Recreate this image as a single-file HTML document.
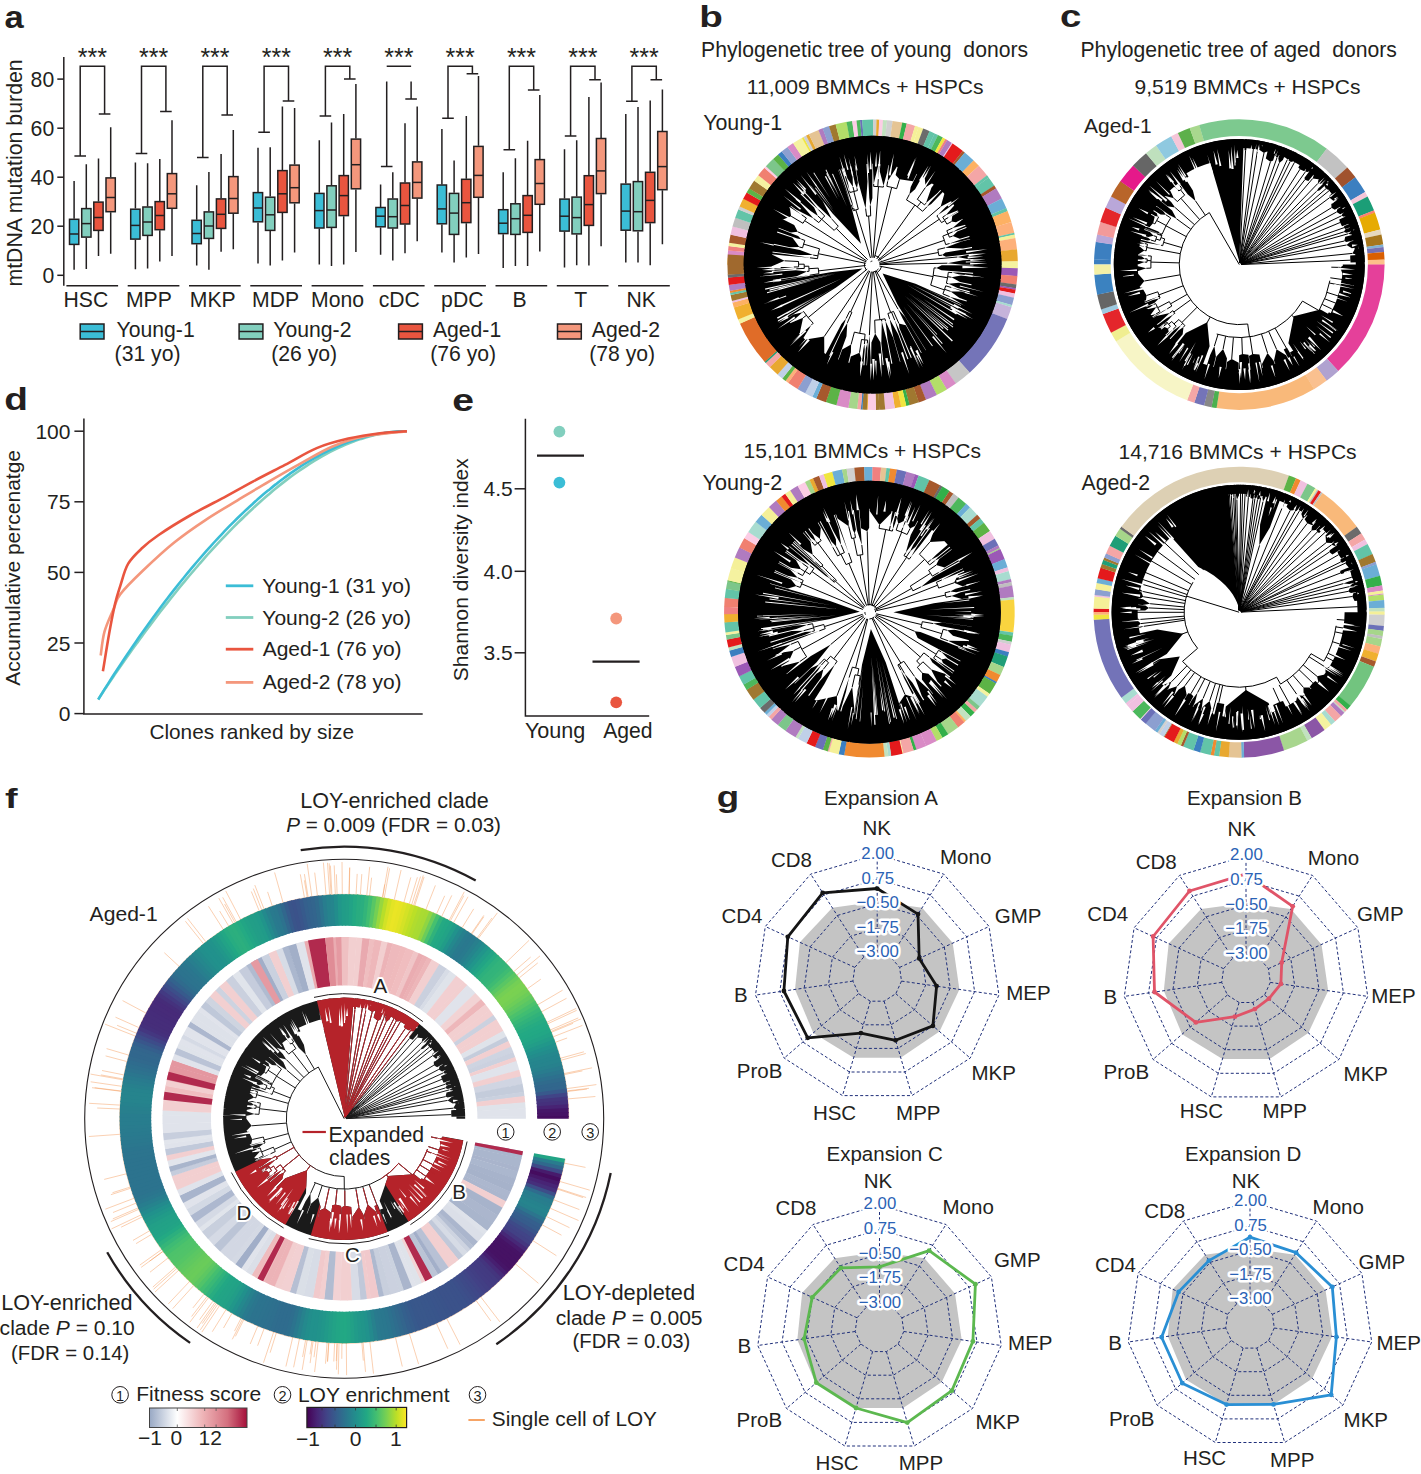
<!DOCTYPE html>
<html><head><meta charset="utf-8"><style>html,body{margin:0;padding:0;background:#fff;overflow:hidden}svg{display:block}</style></head><body>
<svg width="1421" height="1474" viewBox="0 0 1421 1474" font-family='"Liberation Sans", sans-serif'>
<rect width="1421" height="1474" fill="#fff"/>
<text transform="translate(5.4 28) scale(1.106 1)" x="-0.9" y="0" font-size="31.27" font-weight="bold" fill="#231f20">a</text>
<g stroke="#231f20" stroke-width="1.5" fill="none">
<path d="M63.8 57V285.8"/>
<path d="M57.3 275.3 H63.8"/>
<path d="M57.3 226.2 H63.8"/>
<path d="M57.3 177.2 H63.8"/>
<path d="M57.3 128.2 H63.8"/>
<path d="M57.3 79.1 H63.8"/>
</g>
<text x="42.4" y="282.9" font-size="21.2" fill="#231f20">0</text>
<text x="30.6" y="233.8" font-size="21.2" fill="#231f20">20</text>
<text x="30.6" y="184.8" font-size="21.2" fill="#231f20">40</text>
<text x="30.6" y="135.7" font-size="21.2" fill="#231f20">60</text>
<text x="30.6" y="86.7" font-size="21.2" fill="#231f20">80</text>
<text transform="translate(21.7 173) rotate(-90)" x="-113.6" y="0" font-size="21.3" fill="#231f20">mtDNA mutation burden</text>
<path d="M66.4 285.8H118.1" stroke="#231f20" stroke-width="1.4"/>
<text x="63.5" y="307.2" font-size="21.20" fill="#231f20">HSC</text>
<path d="M74.1 181V218.7M74.1 245V269.7" stroke="#231f20" stroke-width="1.5"/>
<rect x="69.5" y="219.3" width="9.3" height="25.1" fill="#3bbdd6" stroke="#231f20" stroke-width="1.5"/>
<path d="M69.5 234H78.8" stroke="#231f20" stroke-width="1.5"/>
<path d="M86.3 164.3V208M86.3 237.7V269" stroke="#231f20" stroke-width="1.5"/>
<rect x="81.7" y="208.6" width="9.3" height="28.5" fill="#82cfbe" stroke="#231f20" stroke-width="1.5"/>
<path d="M81.7 223.6H91" stroke="#231f20" stroke-width="1.5"/>
<path d="M98.5 158.4V201.5M98.5 231V256" stroke="#231f20" stroke-width="1.5"/>
<rect x="93.8" y="202.1" width="9.3" height="28.3" fill="#e9553f" stroke="#231f20" stroke-width="1.5"/>
<path d="M93.8 217.5H103.2" stroke="#231f20" stroke-width="1.5"/>
<path d="M110.7 127.3V177.3M110.7 212.3V253.7" stroke="#231f20" stroke-width="1.5"/>
<rect x="106" y="177.9" width="9.3" height="33.8" fill="#f4977c" stroke="#231f20" stroke-width="1.5"/>
<path d="M106 197.5H115.4" stroke="#231f20" stroke-width="1.5"/>
<path d="M80.2 156V66.2H104.6V114M74.4 156H86M98.8 114H110.4" stroke="#231f20" stroke-width="1.5" fill="none"/>
<text x="77.8" y="66" font-size="25.00" fill="#231f20">***</text>
<path d="M127.7 285.8H179.4" stroke="#231f20" stroke-width="1.4"/>
<text x="125.9" y="307.2" font-size="21.20" fill="#231f20">MPP</text>
<path d="M135.4 162.6V208.6M135.4 239.7V269.2" stroke="#231f20" stroke-width="1.5"/>
<rect x="130.7" y="209.2" width="9.3" height="29.9" fill="#3bbdd6" stroke="#231f20" stroke-width="1.5"/>
<path d="M130.7 225.4H140" stroke="#231f20" stroke-width="1.5"/>
<path d="M147.6 163.3V206.4M147.6 236V268.5" stroke="#231f20" stroke-width="1.5"/>
<rect x="142.9" y="207" width="9.3" height="28.4" fill="#82cfbe" stroke="#231f20" stroke-width="1.5"/>
<path d="M142.9 222H152.2" stroke="#231f20" stroke-width="1.5"/>
<path d="M159.8 158.9V201M159.8 230.3V261.6" stroke="#231f20" stroke-width="1.5"/>
<rect x="155.1" y="201.6" width="9.3" height="28.1" fill="#e9553f" stroke="#231f20" stroke-width="1.5"/>
<path d="M155.1 215.5H164.4" stroke="#231f20" stroke-width="1.5"/>
<path d="M172 120.2V173M172 208.9V256" stroke="#231f20" stroke-width="1.5"/>
<rect x="167.3" y="173.6" width="9.3" height="34.7" fill="#f4977c" stroke="#231f20" stroke-width="1.5"/>
<path d="M167.3 193.8H176.7" stroke="#231f20" stroke-width="1.5"/>
<path d="M141.5 153.4V66.2H165.9V111.6M135.7 153.4H147.3M160.1 111.6H171.7" stroke="#231f20" stroke-width="1.5" fill="none"/>
<text x="139.1" y="66" font-size="25.00" fill="#231f20">***</text>
<path d="M189 285.8H240.7" stroke="#231f20" stroke-width="1.4"/>
<text x="189.8" y="307.2" font-size="21.20" fill="#231f20">MKP</text>
<path d="M196.7 185.2V219.7M196.7 244.3V265.5" stroke="#231f20" stroke-width="1.5"/>
<rect x="192" y="220.3" width="9.3" height="23.4" fill="#3bbdd6" stroke="#231f20" stroke-width="1.5"/>
<path d="M192 233.5H201.3" stroke="#231f20" stroke-width="1.5"/>
<path d="M208.9 172V211.3M208.9 239V269.7" stroke="#231f20" stroke-width="1.5"/>
<rect x="204.2" y="211.9" width="9.3" height="26.5" fill="#82cfbe" stroke="#231f20" stroke-width="1.5"/>
<path d="M204.2 226H213.6" stroke="#231f20" stroke-width="1.5"/>
<path d="M221.1 154V198.3M221.1 229V251.7" stroke="#231f20" stroke-width="1.5"/>
<rect x="216.4" y="198.9" width="9.3" height="29.5" fill="#e9553f" stroke="#231f20" stroke-width="1.5"/>
<path d="M216.4 214.3H225.8" stroke="#231f20" stroke-width="1.5"/>
<path d="M233.3 130V176M233.3 213.8V249.3" stroke="#231f20" stroke-width="1.5"/>
<rect x="228.7" y="176.6" width="9.3" height="36.6" fill="#f4977c" stroke="#231f20" stroke-width="1.5"/>
<path d="M228.7 198.5H238" stroke="#231f20" stroke-width="1.5"/>
<path d="M202.8 157.6V66.2H227.2V115M197 157.6H208.6M221.4 115H233" stroke="#231f20" stroke-width="1.5" fill="none"/>
<text x="200.4" y="66" font-size="25.00" fill="#231f20">***</text>
<path d="M250.3 285.8H302" stroke="#231f20" stroke-width="1.4"/>
<text x="252" y="307.2" font-size="21.20" fill="#231f20">MDP</text>
<path d="M258 147.8V192M258 222.4V263.5" stroke="#231f20" stroke-width="1.5"/>
<rect x="253.3" y="192.6" width="9.3" height="29.2" fill="#3bbdd6" stroke="#231f20" stroke-width="1.5"/>
<path d="M253.3 208H262.6" stroke="#231f20" stroke-width="1.5"/>
<path d="M270.2 147.3V196.6M270.2 231V265.5" stroke="#231f20" stroke-width="1.5"/>
<rect x="265.5" y="197.2" width="9.3" height="33.2" fill="#82cfbe" stroke="#231f20" stroke-width="1.5"/>
<path d="M265.5 214.8H274.8" stroke="#231f20" stroke-width="1.5"/>
<path d="M282.4 106.4V170M282.4 213V260.6" stroke="#231f20" stroke-width="1.5"/>
<rect x="277.8" y="170.6" width="9.3" height="41.8" fill="#e9553f" stroke="#231f20" stroke-width="1.5"/>
<path d="M277.8 193.8H287" stroke="#231f20" stroke-width="1.5"/>
<path d="M294.6 107.9V164.5M294.6 203.4V252.5" stroke="#231f20" stroke-width="1.5"/>
<rect x="289.9" y="165.1" width="9.3" height="37.7" fill="#f4977c" stroke="#231f20" stroke-width="1.5"/>
<path d="M289.9 187.7H299.2" stroke="#231f20" stroke-width="1.5"/>
<path d="M264.1 132.3V66.2H288.5V101M258.3 132.3H269.9M282.7 101H294.3" stroke="#231f20" stroke-width="1.5" fill="none"/>
<text x="261.7" y="66" font-size="25.00" fill="#231f20">***</text>
<path d="M311.6 285.8H363.3" stroke="#231f20" stroke-width="1.4"/>
<text x="311" y="307.2" font-size="21.20" fill="#231f20">Mono</text>
<path d="M319.3 140.2V192.8M319.3 228.6V264.6" stroke="#231f20" stroke-width="1.5"/>
<rect x="314.7" y="193.4" width="9.3" height="34.6" fill="#3bbdd6" stroke="#231f20" stroke-width="1.5"/>
<path d="M314.7 210.6H323.9" stroke="#231f20" stroke-width="1.5"/>
<path d="M331.5 122.4V185.2M331.5 228V266" stroke="#231f20" stroke-width="1.5"/>
<rect x="326.9" y="185.8" width="9.3" height="41.6" fill="#82cfbe" stroke="#231f20" stroke-width="1.5"/>
<path d="M326.9 210H336.1" stroke="#231f20" stroke-width="1.5"/>
<path d="M343.7 114V175M343.7 216.2V264.6" stroke="#231f20" stroke-width="1.5"/>
<rect x="339.1" y="175.6" width="9.3" height="40" fill="#e9553f" stroke="#231f20" stroke-width="1.5"/>
<path d="M339.1 195.6H348.4" stroke="#231f20" stroke-width="1.5"/>
<path d="M355.9 83.9V138.5M355.9 189.4V252" stroke="#231f20" stroke-width="1.5"/>
<rect x="351.3" y="139.1" width="9.3" height="49.7" fill="#f4977c" stroke="#231f20" stroke-width="1.5"/>
<path d="M351.3 164.7H360.6" stroke="#231f20" stroke-width="1.5"/>
<path d="M325.4 116V66.2H349.8V79.1M319.6 116H331.2M344 79.1H355.6" stroke="#231f20" stroke-width="1.5" fill="none"/>
<text x="323" y="66" font-size="25.00" fill="#231f20">***</text>
<path d="M372.9 285.8H424.6" stroke="#231f20" stroke-width="1.4"/>
<text x="378.7" y="307.2" font-size="21.20" fill="#231f20">cDC</text>
<path d="M380.6 184.4V206.9M380.6 227.4V254.7" stroke="#231f20" stroke-width="1.5"/>
<rect x="375.9" y="207.5" width="9.3" height="19.3" fill="#3bbdd6" stroke="#231f20" stroke-width="1.5"/>
<path d="M375.9 216.2H385.2" stroke="#231f20" stroke-width="1.5"/>
<path d="M392.8 172.3V198.4M392.8 228.6V260.4" stroke="#231f20" stroke-width="1.5"/>
<rect x="388.1" y="199" width="9.3" height="29" fill="#82cfbe" stroke="#231f20" stroke-width="1.5"/>
<path d="M388.1 216.7H397.4" stroke="#231f20" stroke-width="1.5"/>
<path d="M405 123.3V182.4M405 224.6V253.3" stroke="#231f20" stroke-width="1.5"/>
<rect x="400.4" y="183" width="9.3" height="41" fill="#e9553f" stroke="#231f20" stroke-width="1.5"/>
<path d="M400.4 205.5H409.6" stroke="#231f20" stroke-width="1.5"/>
<path d="M417.2 106.4V161.3M417.2 198.7V241.2" stroke="#231f20" stroke-width="1.5"/>
<rect x="412.6" y="161.9" width="9.3" height="36.2" fill="#f4977c" stroke="#231f20" stroke-width="1.5"/>
<path d="M412.6 182.4H421.8" stroke="#231f20" stroke-width="1.5"/>
<path d="M386.7 66.2H411.1M386.7 81.6V166.4M380.9 166.4H392.5M411.1 81.6V99M405.3 99H416.9" stroke="#231f20" stroke-width="1.5" fill="none"/>
<text x="384.3" y="66" font-size="25.00" fill="#231f20">***</text>
<path d="M434.2 285.8H485.9" stroke="#231f20" stroke-width="1.4"/>
<text x="441.1" y="307.2" font-size="21.20" fill="#231f20">pDC</text>
<path d="M441.9 129V184.4M441.9 224.4V252.5" stroke="#231f20" stroke-width="1.5"/>
<rect x="437.2" y="185" width="9.3" height="38.8" fill="#3bbdd6" stroke="#231f20" stroke-width="1.5"/>
<path d="M437.2 208.9H446.5" stroke="#231f20" stroke-width="1.5"/>
<path d="M454.1 160.5V192.8M454.1 235V262.6" stroke="#231f20" stroke-width="1.5"/>
<rect x="449.4" y="193.4" width="9.3" height="41" fill="#82cfbe" stroke="#231f20" stroke-width="1.5"/>
<path d="M449.4 213.1H458.7" stroke="#231f20" stroke-width="1.5"/>
<path d="M466.3 116V178.7M466.3 223.2V257.6" stroke="#231f20" stroke-width="1.5"/>
<rect x="461.6" y="179.3" width="9.3" height="43.3" fill="#e9553f" stroke="#231f20" stroke-width="1.5"/>
<path d="M461.6 202.7H470.9" stroke="#231f20" stroke-width="1.5"/>
<path d="M478.5 76V145.8M478.5 197.9V253.9" stroke="#231f20" stroke-width="1.5"/>
<rect x="473.8" y="146.4" width="9.3" height="50.9" fill="#f4977c" stroke="#231f20" stroke-width="1.5"/>
<path d="M473.8 175.4H483.1" stroke="#231f20" stroke-width="1.5"/>
<path d="M448 118.2V66.2H472.4V73.8M442.2 118.2H453.8M466.6 73.8H478.2" stroke="#231f20" stroke-width="1.5" fill="none"/>
<text x="445.6" y="66" font-size="25.00" fill="#231f20">***</text>
<path d="M495.5 285.8H547.2" stroke="#231f20" stroke-width="1.4"/>
<text x="512.6" y="307.2" font-size="21.20" fill="#231f20">B</text>
<path d="M503.2 172.3V209.1M503.2 234.2V268" stroke="#231f20" stroke-width="1.5"/>
<rect x="498.6" y="209.7" width="9.3" height="23.9" fill="#3bbdd6" stroke="#231f20" stroke-width="1.5"/>
<path d="M498.6 223.2H507.8" stroke="#231f20" stroke-width="1.5"/>
<path d="M515.4 158.2V203.2M515.4 235V266" stroke="#231f20" stroke-width="1.5"/>
<rect x="510.8" y="203.8" width="9.3" height="30.6" fill="#82cfbe" stroke="#231f20" stroke-width="1.5"/>
<path d="M510.8 218.7H520" stroke="#231f20" stroke-width="1.5"/>
<path d="M527.6 140.7V195M527.6 233V266" stroke="#231f20" stroke-width="1.5"/>
<rect x="523" y="195.6" width="9.3" height="36.8" fill="#e9553f" stroke="#231f20" stroke-width="1.5"/>
<path d="M523 215.3H532.2" stroke="#231f20" stroke-width="1.5"/>
<path d="M539.8 95.1V159M539.8 204.9V251.4" stroke="#231f20" stroke-width="1.5"/>
<rect x="535.1" y="159.6" width="9.3" height="44.7" fill="#f4977c" stroke="#231f20" stroke-width="1.5"/>
<path d="M535.1 183.5H544.4" stroke="#231f20" stroke-width="1.5"/>
<path d="M509.3 149.8V66.2H533.7V90.1M503.5 149.8H515.1M527.9 90.1H539.5" stroke="#231f20" stroke-width="1.5" fill="none"/>
<text x="506.9" y="66" font-size="25.00" fill="#231f20">***</text>
<path d="M556.8 285.8H608.5" stroke="#231f20" stroke-width="1.4"/>
<text x="574.3" y="307.2" font-size="21.20" fill="#231f20">T</text>
<path d="M564.5 149.2V198.5M564.5 231.7V267.4" stroke="#231f20" stroke-width="1.5"/>
<rect x="559.9" y="199.1" width="9.3" height="32" fill="#3bbdd6" stroke="#231f20" stroke-width="1.5"/>
<path d="M559.9 216.2H569.1" stroke="#231f20" stroke-width="1.5"/>
<path d="M576.7 140.2V196.5M576.7 234.5V265.2" stroke="#231f20" stroke-width="1.5"/>
<rect x="572" y="197.1" width="9.3" height="36.8" fill="#82cfbe" stroke="#231f20" stroke-width="1.5"/>
<path d="M572 217.6H581.3" stroke="#231f20" stroke-width="1.5"/>
<path d="M588.9 97.1V175.1M588.9 226V265.4" stroke="#231f20" stroke-width="1.5"/>
<rect x="584.2" y="175.7" width="9.3" height="49.7" fill="#e9553f" stroke="#231f20" stroke-width="1.5"/>
<path d="M584.2 204.6H593.5" stroke="#231f20" stroke-width="1.5"/>
<path d="M601.1 82.5V137.9M601.1 194.2V246.3" stroke="#231f20" stroke-width="1.5"/>
<rect x="596.4" y="138.5" width="9.3" height="55.1" fill="#f4977c" stroke="#231f20" stroke-width="1.5"/>
<path d="M596.4 170.9H605.7" stroke="#231f20" stroke-width="1.5"/>
<path d="M570.6 136V66.2H595V79.7M564.8 136H576.4M589.2 79.7H600.8" stroke="#231f20" stroke-width="1.5" fill="none"/>
<text x="568.2" y="66" font-size="25.00" fill="#231f20">***</text>
<path d="M618.1 285.8H669.8" stroke="#231f20" stroke-width="1.4"/>
<text x="626.5" y="307.2" font-size="21.20" fill="#231f20">NK</text>
<path d="M625.8 114V183.5M625.8 230.8V262.6" stroke="#231f20" stroke-width="1.5"/>
<rect x="621.1" y="184.1" width="9.3" height="46.1" fill="#3bbdd6" stroke="#231f20" stroke-width="1.5"/>
<path d="M621.1 211.1H630.4" stroke="#231f20" stroke-width="1.5"/>
<path d="M638 107V181M638 231.4V262.6" stroke="#231f20" stroke-width="1.5"/>
<rect x="633.3" y="181.6" width="9.3" height="49.2" fill="#82cfbe" stroke="#231f20" stroke-width="1.5"/>
<path d="M633.3 211.7H642.6" stroke="#231f20" stroke-width="1.5"/>
<path d="M650.2 100.5V171.7M650.2 223.2V265.2" stroke="#231f20" stroke-width="1.5"/>
<rect x="645.5" y="172.3" width="9.3" height="50.3" fill="#e9553f" stroke="#231f20" stroke-width="1.5"/>
<path d="M645.5 200.4H654.8" stroke="#231f20" stroke-width="1.5"/>
<path d="M662.4 89.5V130.9M662.4 190.3V244.3" stroke="#231f20" stroke-width="1.5"/>
<rect x="657.7" y="131.5" width="9.3" height="58.2" fill="#f4977c" stroke="#231f20" stroke-width="1.5"/>
<path d="M657.7 166.6H667" stroke="#231f20" stroke-width="1.5"/>
<path d="M631.9 101.3V66.2H656.3V79.7M626.1 101.3H637.7M650.5 79.7H662.1" stroke="#231f20" stroke-width="1.5" fill="none"/>
<text x="629.5" y="66" font-size="25.00" fill="#231f20">***</text>
<rect x="80.2" y="324" width="23.8" height="15" fill="#3bbdd6" stroke="#231f20" stroke-width="1.5"/>
<path d="M80.2 331.5H104" stroke="#231f20" stroke-width="1.5"/>
<text x="116.5" y="337.4" font-size="21.20" fill="#231f20">Young-1</text>
<text x="114.6" y="361.3" font-size="21.20" fill="#231f20">(31 yo)</text>
<rect x="239.1" y="324" width="23.8" height="15" fill="#82cfbe" stroke="#231f20" stroke-width="1.5"/>
<path d="M239.1 331.5H262.9" stroke="#231f20" stroke-width="1.5"/>
<text x="273.3" y="337.4" font-size="21.20" fill="#231f20">Young-2</text>
<text x="271.2" y="361.3" font-size="21.20" fill="#231f20">(26 yo)</text>
<rect x="398.6" y="324" width="23.8" height="15" fill="#e9553f" stroke="#231f20" stroke-width="1.5"/>
<path d="M398.6 331.5H422.4" stroke="#231f20" stroke-width="1.5"/>
<text x="432.9" y="337.4" font-size="21.20" fill="#231f20">Aged-1</text>
<text x="430.2" y="361.3" font-size="21.20" fill="#231f20">(76 yo)</text>
<rect x="557.5" y="324" width="23.8" height="15" fill="#f4977c" stroke="#231f20" stroke-width="1.5"/>
<path d="M557.5 331.5H581.3" stroke="#231f20" stroke-width="1.5"/>
<text x="591.8" y="337.4" font-size="21.20" fill="#231f20">Aged-2</text>
<text x="589.2" y="361.3" font-size="21.20" fill="#231f20">(78 yo)</text>
<text transform="translate(5.7 410.4) scale(1.257 1)" x="-1.2" y="0" font-size="30.88" font-weight="bold" fill="#231f20">d</text>
<g stroke="#231f20" stroke-width="1.5" fill="none">
<path d="M83.9 418.6V714.1H422.7"/>
<path d="M74.4 713.6H83.9"/>
<path d="M74.4 643H83.9"/>
<path d="M74.4 572.4H83.9"/>
<path d="M74.4 501.8H83.9"/>
<path d="M74.4 431.2H83.9"/>
</g>
<text x="58.7" y="721.1" font-size="21.0" fill="#231f20">0</text>
<text x="47" y="650.5" font-size="21.0" fill="#231f20">25</text>
<text x="47" y="579.9" font-size="21.0" fill="#231f20">50</text>
<text x="47" y="509.4" font-size="21.0" fill="#231f20">75</text>
<text x="35.4" y="438.8" font-size="21.0" fill="#231f20">100</text>
<text transform="translate(19.6 568.3) rotate(-90)" x="-117.5" y="0" font-size="21.0" fill="#231f20">Accumulative percenatge</text>
<text x="149.4" y="739.4" font-size="20.80" fill="#231f20">Clones ranked by size</text>
<path d="M98.2 699.5C99.5 697.5 103.3 691.6 105.9 687.8C108.5 683.9 111.1 680.1 113.6 676.3C116.2 672.5 118.8 668.8 121.4 665.1C123.9 661.4 126.5 657.7 129.1 654.1C131.6 650.4 134.2 646.8 136.8 643.3C139.4 639.7 141.9 636.2 144.5 632.7C147.1 629.2 149.7 625.8 152.2 622.4C154.8 619 157.4 615.6 159.9 612.3C162.5 608.9 165.1 605.6 167.7 602.4C170.2 599.1 172.8 595.9 175.4 592.7C177.9 589.5 180.5 586.3 183.1 583.2C185.7 580.1 188.2 577 190.8 574C193.4 571 196 568 198.5 565C201.1 562 203.7 559.1 206.2 556.2C208.8 553.3 211.4 550.5 214 547.7C216.5 544.9 219.1 542.1 221.7 539.4C224.3 536.7 226.8 534 229.4 531.3C232 528.7 234.5 526.1 237.1 523.5C239.7 521 242.3 518.5 244.8 516C247.4 513.5 250 511.1 252.6 508.7C255.1 506.3 257.7 504 260.3 501.7C262.8 499.4 265.4 497.2 268 495C270.6 492.8 273.1 490.6 275.7 488.5C278.3 486.4 280.8 484.4 283.4 482.4C286 480.4 288.6 478.4 291.1 476.5C293.7 474.6 296.3 472.8 298.9 471C301.4 469.2 304 467.5 306.6 465.8C309.1 464.1 311.7 462.5 314.3 460.9C316.9 459.4 319.4 457.9 322 456.4C324.6 455 327.2 453.6 329.7 452.2C332.3 450.9 334.9 449.6 337.4 448.4C340 447.2 342.6 446 345.2 444.9C347.7 443.8 350.3 442.8 352.9 441.8C355.4 440.9 358 439.9 360.6 439.1C363.2 438.3 365.7 437.5 368.3 436.8C370.9 436.1 373.5 435.4 376 434.8C378.6 434.3 381.2 433.7 383.7 433.3C386.3 432.9 388.9 432.5 391.5 432.2C394 431.9 396.6 431.7 399.2 431.5C401.8 431.3 405.6 431.3 406.9 431.2" stroke="#82cfbe" stroke-width="2.6" fill="none" stroke-linecap="butt"/>
<path d="M98.2 699.5C99.5 697.4 103.3 691.2 105.9 687.1C108.5 683 111.1 679 113.6 675C116.2 671 118.8 667.1 121.4 663.2C123.9 659.3 126.5 655.5 129.1 651.7C131.6 647.9 134.2 644.1 136.8 640.4C139.4 636.7 141.9 633 144.5 629.4C147.1 625.8 149.7 622.2 152.2 618.7C154.8 615.2 157.4 611.7 159.9 608.2C162.5 604.8 165.1 601.4 167.7 598C170.2 594.7 172.8 591.4 175.4 588.1C177.9 584.9 180.5 581.6 183.1 578.5C185.7 575.3 188.2 572.2 190.8 569.1C193.4 566 196 563 198.5 560C201.1 557 203.7 554 206.2 551.1C208.8 548.2 211.4 545.4 214 542.5C216.5 539.7 219.1 537 221.7 534.3C224.3 531.5 226.8 528.9 229.4 526.2C232 523.6 234.5 521.1 237.1 518.5C239.7 516 242.3 513.5 244.8 511.1C247.4 508.7 250 506.3 252.6 504C255.1 501.6 257.7 499.3 260.3 497.1C262.8 494.9 265.4 492.7 268 490.6C270.6 488.5 273.1 486.4 275.7 484.4C278.3 482.3 280.8 480.4 283.4 478.5C286 476.5 288.6 474.7 291.1 472.9C293.7 471.1 296.3 469.3 298.9 467.6C301.4 465.9 304 464.3 306.6 462.7C309.1 461.1 311.7 459.6 314.3 458.1C316.9 456.7 319.4 455.3 322 453.9C324.6 452.5 327.2 451.2 329.7 450C332.3 448.8 334.9 447.6 337.4 446.5C340 445.4 342.6 444.3 345.2 443.3C347.7 442.3 350.3 441.4 352.9 440.5C355.4 439.6 358 438.8 360.6 438.1C363.2 437.3 365.7 436.6 368.3 436C370.9 435.4 373.5 434.8 376 434.3C378.6 433.8 381.2 433.3 383.7 433C386.3 432.6 388.9 432.3 391.5 432C394 431.8 396.6 431.6 399.2 431.4C401.8 431.3 405.6 431.3 406.9 431.2" stroke="#3bbdd6" stroke-width="2.6" fill="none" stroke-linecap="butt"/>
<path d="M100.7 655.5C101.3 651.5 102.3 639.6 104.5 631.7C106.7 623.8 111.4 614.2 114 608C116.6 601.8 115.5 600.4 120.3 594.2C125 588 133.5 579.6 142.5 571C151.5 562.4 163.6 551 174.2 542.5C184.8 534 195.2 526.8 205.8 519.8C216.4 512.8 226.9 506.7 237.5 500.3C248.1 493.9 258.6 487.5 269.2 481.3C279.8 475.1 290.2 469.1 300.8 463.3C311.4 457.5 322 451 332.5 446.5C343 442 351.6 439 364 436.5C376.4 434 399.8 432.2 406.9 431.3" stroke="#f4977c" stroke-width="2.6" fill="none" stroke-linecap="butt"/>
<path d="M102.9 671.3C104 665 107.2 644.5 109.2 633.3C111.2 622.1 113.2 611.9 115 604C116.8 596.1 118.1 592.5 120.3 585.8C122.5 579.1 124.5 570 128.2 563.7C131.9 557.4 137.5 552.5 142.5 547.8C147.5 543 150.4 540.6 158.3 535.2C166.2 529.8 179.4 521.6 190 515.5C200.6 509.4 211.1 504.4 221.7 498.7C232.2 493 242.8 486.9 253.3 481.3C263.9 475.7 274.4 470.4 285 464.9C295.6 459.4 306.1 452.5 316.7 448.1C327.2 443.7 337.8 441.1 348.3 438.6C358.9 436.1 370.2 434.4 380 433.2C389.8 432 402.4 431.6 406.9 431.3" stroke="#e9553f" stroke-width="2.6" fill="none" stroke-linecap="butt"/>
<path d="M225.8 585.8H253.3" stroke="#3bbdd6" stroke-width="2.8"/>
<text x="262.3" y="592.8" font-size="21.00" fill="#231f20">Young-1 (31 yo)</text>
<path d="M225.8 617.5H253.3" stroke="#82cfbe" stroke-width="2.8"/>
<text x="262.3" y="624.5" font-size="21.00" fill="#231f20">Young-2 (26 yo)</text>
<path d="M225.8 649.2H253.3" stroke="#e9553f" stroke-width="2.8"/>
<text x="262.7" y="656.2" font-size="21.00" fill="#231f20">Aged-1 (76 yo)</text>
<path d="M225.8 682.4H253.3" stroke="#f4977c" stroke-width="2.8"/>
<text x="262.7" y="689.4" font-size="21.00" fill="#231f20">Aged-2 (78 yo)</text>
<text transform="translate(453.7 410.7) scale(1.282 1)" x="-1.2" y="0" font-size="30.55" font-weight="bold" fill="#231f20">e</text>
<path d="M525.4 418.7V716H649.2" stroke="#231f20" stroke-width="1.5" fill="none"/>
<path d="M514.6 488.8H525.4" stroke="#231f20" stroke-width="1.5"/>
<text x="483.6" y="496.3" font-size="21.0" fill="#231f20">4.5</text>
<path d="M514.6 571.3H525.4" stroke="#231f20" stroke-width="1.5"/>
<text x="483.6" y="578.8" font-size="21.0" fill="#231f20">4.0</text>
<path d="M514.6 652.8H525.4" stroke="#231f20" stroke-width="1.5"/>
<text x="483.6" y="660.3" font-size="21.0" fill="#231f20">3.5</text>
<text transform="translate(468.2 569.3) rotate(-90)" x="-111.9" y="0" font-size="21.0" fill="#231f20">Shannon diversity index</text>
<circle cx="559.4" cy="431.6" r="5.9" fill="#82cfbe"/>
<circle cx="559.4" cy="482.6" r="5.9" fill="#3bbdd6"/>
<circle cx="616.2" cy="618.5" r="5.9" fill="#f4977c"/>
<circle cx="616.2" cy="702.3" r="5.9" fill="#e9553f"/>
<path d="M537 455.6H584M592.5 661.6H639.6" stroke="#231f20" stroke-width="2.4"/>
<text x="524.9" y="738.4" font-size="21.62" fill="#231f20">Young</text>
<text x="603.2" y="738.4" font-size="21.15" fill="#231f20">Aged</text>
<text transform="translate(701.7 27) scale(1.284 1)" x="-2" y="0" font-size="30.07" font-weight="bold" fill="#231f20">b</text>
<text transform="translate(1061.4 27.3) scale(1.256 1)" x="-1.2" y="0" font-size="30.55" font-weight="bold" fill="#231f20">c</text>
<text x="701.1" y="57" font-size="21.17" fill="#231f20" style="white-space:pre">Phylogenetic tree of young  donors</text>
<text x="1080.5" y="57" font-size="21.16" fill="#231f20" style="white-space:pre">Phylogenetic tree of aged  donors</text>
<text x="746.8" y="94" font-size="21.07" fill="#231f20">11,009 BMMCs + HSPCs</text>
<text x="1134.6" y="94" font-size="21.00" fill="#231f20">9,519 BMMCs + HSPCs</text>
<text x="743.6" y="457.8" font-size="20.99" fill="#231f20">15,101 BMMCs + HSPCs</text>
<text x="1118.6" y="458.6" font-size="21.05" fill="#231f20">14,716 BMMCs + HSPCs</text>
<text x="703.2" y="129.6" font-size="21.38" fill="#231f20">Young-1</text>
<text x="1084.1" y="133.3" font-size="20.95" fill="#231f20">Aged-1</text>
<text x="702.5" y="490.3" font-size="21.60" fill="#231f20">Young-2</text>
<text x="1081.5" y="489.9" font-size="21.26" fill="#231f20">Aged-2</text>
<path d="M727.4 264.7A145.2 145.2 0 0 1 727.6 257.4L744.2 258.2A128.6 128.6 0 0 0 744 264.7Z" fill="#e8a830"/>
<path d="M727.6 257.6A145.2 145.2 0 0 1 728.1 250.3L744.6 251.9A128.6 128.6 0 0 0 744.2 258.4Z" fill="#d98bc6"/>
<path d="M728.1 250.5A145.2 145.2 0 0 1 728.6 245.9L745.1 248.1A128.6 128.6 0 0 0 744.6 252.1Z" fill="#f08080"/>
<path d="M728.6 246.1A145.2 145.2 0 0 1 729.1 242.5L745.5 245A128.6 128.6 0 0 0 745.1 248.2Z" fill="#f5f2a0"/>
<path d="M729.1 242.7A145.2 145.2 0 0 1 730.6 234.6L746.8 238A128.6 128.6 0 0 0 745.5 245.2Z" fill="#a6592d"/>
<path d="M730.5 234.8A145.2 145.2 0 0 1 732.6 226.3L748.6 230.7A128.6 128.6 0 0 0 746.8 238.2Z" fill="#f0c0e0"/>
<path d="M732.5 226.5A145.2 145.2 0 0 1 735.3 217.5L751 222.9A128.6 128.6 0 0 0 748.5 230.8Z" fill="#bfbfbf"/>
<path d="M735.2 217.7A145.2 145.2 0 0 1 738.4 209.2L753.8 215.6A128.6 128.6 0 0 0 750.9 223.1Z" fill="#62c4a8"/>
<path d="M738.3 209.4A145.2 145.2 0 0 1 739.6 206.3L754.8 213A128.6 128.6 0 0 0 753.7 215.7Z" fill="#d0d0d0"/>
<path d="M739.6 206.5A145.2 145.2 0 0 1 743.3 198.6L758.1 206.1A128.6 128.6 0 0 0 754.8 213.2Z" fill="#f0b030"/>
<path d="M743.2 198.8A145.2 145.2 0 0 1 746.7 192.4L761.1 200.7A128.6 128.6 0 0 0 758 206.3Z" fill="#e41a1c"/>
<path d="M746.6 192.6A145.2 145.2 0 0 1 749.2 188.2L763.3 197A128.6 128.6 0 0 0 761 200.8Z" fill="#5cb346"/>
<path d="M749.1 188.4A145.2 145.2 0 0 1 754.3 180.5L767.8 190.1A128.6 128.6 0 0 0 763.2 197.1Z" fill="#a07830"/>
<path d="M754.2 180.7A145.2 145.2 0 0 1 758.3 175.2L771.4 185.4A128.6 128.6 0 0 0 767.7 190.3Z" fill="#f5f2a0"/>
<path d="M758.2 175.3A145.2 145.2 0 0 1 764.5 167.7L776.9 178.8A128.6 128.6 0 0 0 771.2 185.5Z" fill="#f08070"/>
<path d="M764.4 167.9A145.2 145.2 0 0 1 766.1 166L778.3 177.3A128.6 128.6 0 0 0 776.8 179Z" fill="#fccde5"/>
<path d="M765.9 166.2A145.2 145.2 0 0 1 773.3 158.7L784.7 170.8A128.6 128.6 0 0 0 778.1 177.4Z" fill="#7cc68a"/>
<path d="M773.2 158.9A145.2 145.2 0 0 1 778.2 154.4L789 167A128.6 128.6 0 0 0 784.6 171Z" fill="#5cb346"/>
<path d="M778 154.5A145.2 145.2 0 0 1 781.8 151.4L792.2 164.4A128.6 128.6 0 0 0 788.8 167.1Z" fill="#3b7fc0"/>
<path d="M781.6 151.5A145.2 145.2 0 0 1 787.6 147L797.3 160.5A128.6 128.6 0 0 0 792 164.5Z" fill="#8c9fd0"/>
<path d="M787.4 147.1A145.2 145.2 0 0 1 793.2 143.1L802.3 157A128.6 128.6 0 0 0 797.2 160.6Z" fill="#d98bc6"/>
<path d="M793 143.3A145.2 145.2 0 0 1 802.1 137.8L810.2 152.3A128.6 128.6 0 0 0 802.1 157.1Z" fill="#f5f2a0"/>
<path d="M801.9 137.9A145.2 145.2 0 0 1 803.6 136.9L811.5 151.5A128.6 128.6 0 0 0 810 152.4Z" fill="#f0e640"/>
<path d="M803.4 137A145.2 145.2 0 0 1 806.3 135.5L813.9 150.3A128.6 128.6 0 0 0 811.3 151.6Z" fill="#d0d0d0"/>
<path d="M806.1 135.6A145.2 145.2 0 0 1 808.9 134.2L816.2 149.1A128.6 128.6 0 0 0 813.7 150.4Z" fill="#e8a830"/>
<path d="M808.7 134.3A145.2 145.2 0 0 1 818.6 129.9L824.8 145.3A128.6 128.6 0 0 0 816 149.2Z" fill="#e5c494"/>
<path d="M818.4 130A145.2 145.2 0 0 1 822.8 128.3L828.5 143.9A128.6 128.6 0 0 0 824.6 145.4Z" fill="#b07bc0"/>
<path d="M822.6 128.4A145.2 145.2 0 0 1 829.2 126.1L834.1 142A128.6 128.6 0 0 0 828.3 144Z" fill="#8c9fd0"/>
<path d="M829 126.2A145.2 145.2 0 0 1 835.7 124.3L839.9 140.3A128.6 128.6 0 0 0 834 142Z" fill="#a07830"/>
<path d="M835.5 124.3A145.2 145.2 0 0 1 846.7 121.8L849.7 138.2A128.6 128.6 0 0 0 839.8 140.4Z" fill="#b3de69"/>
<path d="M846.5 121.9A145.2 145.2 0 0 1 852.3 120.9L854.6 137.4A128.6 128.6 0 0 0 849.5 138.2Z" fill="#4cb85c"/>
<path d="M852.1 121A145.2 145.2 0 0 1 856.7 120.4L858.5 136.9A128.6 128.6 0 0 0 854.4 137.4Z" fill="#fccde5"/>
<path d="M856.5 120.4A145.2 145.2 0 0 1 860.2 120L861.6 136.6A128.6 128.6 0 0 0 858.3 136.9Z" fill="#4cb85c"/>
<path d="M860 120A145.2 145.2 0 0 1 862.3 119.9L863.5 136.4A128.6 128.6 0 0 0 861.5 136.6Z" fill="#6b70b8"/>
<path d="M862.1 119.9A145.2 145.2 0 0 1 873.3 119.5L873.2 136.1A128.6 128.6 0 0 0 863.3 136.4Z" fill="#62c4a8"/>
<path d="M873.1 119.5A145.2 145.2 0 0 1 876.7 119.6L876.2 136.2A128.6 128.6 0 0 0 873 136.1Z" fill="#d0d0d0"/>
<path d="M876.5 119.6A145.2 145.2 0 0 1 879.4 119.7L878.6 136.2A128.6 128.6 0 0 0 876.1 136.1Z" fill="#e8a830"/>
<path d="M879.2 119.6A145.2 145.2 0 0 1 883.2 119.9L882 136.4A128.6 128.6 0 0 0 878.4 136.2Z" fill="#fccde5"/>
<path d="M883 119.9A145.2 145.2 0 0 1 887.1 120.2L885.5 136.7A128.6 128.6 0 0 0 881.8 136.4Z" fill="#c2e2c0"/>
<path d="M886.9 120.2A145.2 145.2 0 0 1 892.8 120.9L890.4 137.3A128.6 128.6 0 0 0 885.3 136.7Z" fill="#d0d0d0"/>
<path d="M892.6 120.9A145.2 145.2 0 0 1 902.5 122.6L899.1 138.9A128.6 128.6 0 0 0 890.3 137.3Z" fill="#e5c494"/>
<path d="M902.3 122.6A145.2 145.2 0 0 1 906.9 123.6L903 139.7A128.6 128.6 0 0 0 898.9 138.8Z" fill="#33b04a"/>
<path d="M906.7 123.6A145.2 145.2 0 0 1 915.2 125.9L910.4 141.8A128.6 128.6 0 0 0 902.8 139.7Z" fill="#f4a6a6"/>
<path d="M915.1 125.8A145.2 145.2 0 0 1 918.7 127L913.4 142.8A128.6 128.6 0 0 0 910.2 141.7Z" fill="#f5f098"/>
<path d="M918.5 127A145.2 145.2 0 0 1 923.4 128.7L917.6 144.2A128.6 128.6 0 0 0 913.3 142.7Z" fill="#f5f098"/>
<path d="M923.2 128.6A145.2 145.2 0 0 1 929.7 131.2L923.2 146.5A128.6 128.6 0 0 0 917.4 144.2Z" fill="#6b6b6b"/>
<path d="M929.5 131.1A145.2 145.2 0 0 1 934.7 133.5L927.6 148.5A128.6 128.6 0 0 0 923 146.4Z" fill="#62c4a8"/>
<path d="M934.5 133.4A145.2 145.2 0 0 1 938.1 135.1L930.6 149.9A128.6 128.6 0 0 0 927.5 148.4Z" fill="#62c4a8"/>
<path d="M938 135A145.2 145.2 0 0 1 942.9 137.6L934.9 152.2A128.6 128.6 0 0 0 930.5 149.9Z" fill="#4cb85c"/>
<path d="M942.7 137.6A145.2 145.2 0 0 1 945.5 139.1L937.2 153.5A128.6 128.6 0 0 0 934.7 152.1Z" fill="#f0e640"/>
<path d="M945.4 139A145.2 145.2 0 0 1 947.4 140.2L938.8 154.5A128.6 128.6 0 0 0 937 153.4Z" fill="#f08080"/>
<path d="M947.2 140.1A145.2 145.2 0 0 1 951.9 143.1L942.9 157A128.6 128.6 0 0 0 938.7 154.4Z" fill="#b07bc0"/>
<path d="M951.8 143A145.2 145.2 0 0 1 952.8 143.7L943.6 157.5A128.6 128.6 0 0 0 942.7 156.9Z" fill="#f0c0e0"/>
<path d="M952.6 143.5A145.2 145.2 0 0 1 962.9 151L952.6 164A128.6 128.6 0 0 0 943.5 157.4Z" fill="#e41a1c"/>
<path d="M962.7 150.9A145.2 145.2 0 0 1 964.9 152.6L954.3 165.4A128.6 128.6 0 0 0 952.4 163.9Z" fill="#a6592d"/>
<path d="M964.7 152.4A145.2 145.2 0 0 1 973.7 160.5L962.2 172.4A128.6 128.6 0 0 0 954.2 165.3Z" fill="#6baed6"/>
<path d="M973.6 160.4A145.2 145.2 0 0 1 978.9 165.8L966.8 177.1A128.6 128.6 0 0 0 962 172.3Z" fill="#fdb163"/>
<path d="M978.8 165.7A145.2 145.2 0 0 1 987.1 175.5L974 185.7A128.6 128.6 0 0 0 966.7 177Z" fill="#f4a6a6"/>
<path d="M987 175.3A145.2 145.2 0 0 1 988.7 177.5L975.4 187.5A128.6 128.6 0 0 0 973.9 185.5Z" fill="#62c4a8"/>
<path d="M988.6 177.4A145.2 145.2 0 0 1 994.4 185.7L980.5 194.7A128.6 128.6 0 0 0 975.3 187.3Z" fill="#62c4a8"/>
<path d="M994.3 185.5A145.2 145.2 0 0 1 996.2 188.4L982 197.2A128.6 128.6 0 0 0 980.4 194.5Z" fill="#a6592d"/>
<path d="M996.1 188.3A145.2 145.2 0 0 1 1001.9 198.6L987.1 206.2A128.6 128.6 0 0 0 981.9 197Z" fill="#b07bc0"/>
<path d="M1001.8 198.4A145.2 145.2 0 0 1 1006.4 208.2L991.1 214.6A128.6 128.6 0 0 0 987 206Z" fill="#6baed6"/>
<path d="M1006.3 208A145.2 145.2 0 0 1 1007.6 211.3L992.2 217.4A128.6 128.6 0 0 0 991 214.5Z" fill="#62c4a8"/>
<path d="M1007.6 211.1A145.2 145.2 0 0 1 1011.4 222.1L995.5 226.9A128.6 128.6 0 0 0 992.1 217.3Z" fill="#fdb163"/>
<path d="M1011.3 221.9A145.2 145.2 0 0 1 1014.3 233L998.1 236.6A128.6 128.6 0 0 0 995.5 226.8Z" fill="#fdb07a"/>
<path d="M1014.2 232.8A145.2 145.2 0 0 1 1014.7 234.8L998.4 238.2A128.6 128.6 0 0 0 998.1 236.4Z" fill="#62c4a8"/>
<path d="M1014.7 234.6A145.2 145.2 0 0 1 1015.3 238.1L999 241.2A128.6 128.6 0 0 0 998.4 238.1Z" fill="#f5f098"/>
<path d="M1015.3 237.9A145.2 145.2 0 0 1 1017 249.4L1000.5 251.2A128.6 128.6 0 0 0 999 241Z" fill="#fdb07a"/>
<path d="M1017 249.2A145.2 145.2 0 0 1 1017.8 261.4L1001.2 261.8A128.6 128.6 0 0 0 1000.5 251Z" fill="#e8a830"/>
<path d="M1017.8 261.2A145.2 145.2 0 0 1 1017.8 268.4L1001.2 268A128.6 128.6 0 0 0 1001.2 261.6Z" fill="#f5f2a0"/>
<path d="M1017.8 268.2A145.2 145.2 0 0 1 1017.3 276.2L1000.8 274.9A128.6 128.6 0 0 0 1001.2 267.8Z" fill="#9b59b6"/>
<path d="M1017.4 276A145.2 145.2 0 0 1 1016.4 284.8L1000 282.5A128.6 128.6 0 0 0 1000.8 274.7Z" fill="#f08070"/>
<path d="M1016.4 284.6A145.2 145.2 0 0 1 1015.9 288.4L999.5 285.7A128.6 128.6 0 0 0 1000 282.3Z" fill="#6b6b6b"/>
<path d="M1015.9 288.2A145.2 145.2 0 0 1 1015.6 289.9L999.2 287A128.6 128.6 0 0 0 999.5 285.5Z" fill="#9b59b6"/>
<path d="M1015.6 289.7A145.2 145.2 0 0 1 1014.8 293.8L998.6 290.5A128.6 128.6 0 0 0 999.3 286.9Z" fill="#e41a1c"/>
<path d="M1014.9 293.6A145.2 145.2 0 0 1 1013.9 298L997.8 294.2A128.6 128.6 0 0 0 998.6 290.3Z" fill="#f0c0e0"/>
<path d="M1014 297.8A145.2 145.2 0 0 1 1012 305.3L996.1 300.7A128.6 128.6 0 0 0 997.8 294Z" fill="#8c9fd0"/>
<path d="M1012.1 305.1A145.2 145.2 0 0 1 1011.4 307.3L995.5 302.5A128.6 128.6 0 0 0 996.1 300.5Z" fill="#a8dcd0"/>
<path d="M1011.5 307.2A145.2 145.2 0 0 1 1007.2 319.3L991.8 313A128.6 128.6 0 0 0 995.6 302.3Z" fill="#c5b3da"/>
<path d="M1007.2 319.1A145.2 145.2 0 0 1 969.6 372.7L958.5 360.4A128.6 128.6 0 0 0 991.8 312.9Z" fill="#7474b8"/>
<path d="M969.8 372.6A145.2 145.2 0 0 1 955.7 383.8L946.2 370.1A128.6 128.6 0 0 0 958.7 360.3Z" fill="#c6c6c6"/>
<path d="M955.9 383.6A145.2 145.2 0 0 1 946.7 389.5L938.3 375.3A128.6 128.6 0 0 0 946.4 370Z" fill="#d98bc6"/>
<path d="M946.9 389.4A145.2 145.2 0 0 1 936.7 395L929.3 380.1A128.6 128.6 0 0 0 938.4 375.2Z" fill="#b3de69"/>
<path d="M936.9 394.9A145.2 145.2 0 0 1 925.8 399.8L919.7 384.4A128.6 128.6 0 0 0 929.5 380Z" fill="#b07bc0"/>
<path d="M926 399.7A145.2 145.2 0 0 1 918.7 402.4L913.4 386.6A128.6 128.6 0 0 0 919.9 384.3Z" fill="#a6592d"/>
<path d="M918.9 402.3A145.2 145.2 0 0 1 909.4 405.2L905.2 389.1A128.6 128.6 0 0 0 913.6 386.6Z" fill="#a07830"/>
<path d="M909.6 405.1A145.2 145.2 0 0 1 906.2 406L902.4 389.8A128.6 128.6 0 0 0 905.3 389.1Z" fill="#33b04a"/>
<path d="M906.4 405.9A145.2 145.2 0 0 1 901 407.1L897.8 390.8A128.6 128.6 0 0 0 902.5 389.8Z" fill="#f0e640"/>
<path d="M901.2 407.1A145.2 145.2 0 0 1 894.7 408.2L892.2 391.8A128.6 128.6 0 0 0 897.9 390.8Z" fill="#f0b030"/>
<path d="M894.9 408.2A145.2 145.2 0 0 1 885 409.4L883.6 392.8A128.6 128.6 0 0 0 892.3 391.8Z" fill="#f0c0e0"/>
<path d="M885.2 409.4A145.2 145.2 0 0 1 879.2 409.7L878.4 393.2A128.6 128.6 0 0 0 883.7 392.8Z" fill="#a07830"/>
<path d="M879.4 409.7A145.2 145.2 0 0 1 875.8 409.9L875.4 393.3A128.6 128.6 0 0 0 878.6 393.2Z" fill="#a07830"/>
<path d="M876 409.9A145.2 145.2 0 0 1 867.5 409.8L868.1 393.2A128.6 128.6 0 0 0 875.6 393.3Z" fill="#fccde5"/>
<path d="M867.7 409.8A145.2 145.2 0 0 1 866.7 409.8L867.3 393.2A128.6 128.6 0 0 0 868.2 393.2Z" fill="#e8a830"/>
<path d="M866.9 409.8A145.2 145.2 0 0 1 862.2 409.5L863.4 393A128.6 128.6 0 0 0 867.5 393.2Z" fill="#a07830"/>
<path d="M862.4 409.5A145.2 145.2 0 0 1 860.7 409.4L862.1 392.9A128.6 128.6 0 0 0 863.6 393Z" fill="#3b7fc0"/>
<path d="M860.9 409.4A145.2 145.2 0 0 1 857 409.1L858.8 392.6A128.6 128.6 0 0 0 862.3 392.9Z" fill="#f4a6a6"/>
<path d="M857.2 409.1A145.2 145.2 0 0 1 848.2 407.8L851 391.5A128.6 128.6 0 0 0 859 392.6Z" fill="#a6d68a"/>
<path d="M848.4 407.9A145.2 145.2 0 0 1 836.2 405.3L840.3 389.2A128.6 128.6 0 0 0 851.1 391.5Z" fill="#d98bc6"/>
<path d="M836.4 405.3A145.2 145.2 0 0 1 825.8 402.1L831.1 386.4A128.6 128.6 0 0 0 840.5 389.2Z" fill="#5cb346"/>
<path d="M825.9 402.2A145.2 145.2 0 0 1 816.2 398.5L822.7 383.2A128.6 128.6 0 0 0 831.3 386.5Z" fill="#a6592d"/>
<path d="M816.4 398.6A145.2 145.2 0 0 1 812.3 396.8L819.2 381.7A128.6 128.6 0 0 0 822.8 383.3Z" fill="#6baed6"/>
<path d="M812.4 396.9A145.2 145.2 0 0 1 805.1 393.2L812.8 378.5A128.6 128.6 0 0 0 819.3 381.7Z" fill="#c0d0e8"/>
<path d="M805.2 393.3A145.2 145.2 0 0 1 797.4 388.9L806 374.7A128.6 128.6 0 0 0 812.9 378.6Z" fill="#8c9fd0"/>
<path d="M797.6 389A145.2 145.2 0 0 1 788.1 382.8L797.8 369.3A128.6 128.6 0 0 0 806.2 374.8Z" fill="#f08070"/>
<path d="M788.3 382.9A145.2 145.2 0 0 1 785.4 380.8L795.4 367.5A128.6 128.6 0 0 0 797.9 369.4Z" fill="#fdb07a"/>
<path d="M785.5 380.9A145.2 145.2 0 0 1 782.3 378.4L792.7 365.4A128.6 128.6 0 0 0 795.5 367.6Z" fill="#5cb346"/>
<path d="M782.5 378.6A145.2 145.2 0 0 1 777.4 374.4L788.3 361.8A128.6 128.6 0 0 0 792.8 365.5Z" fill="#c0d0e8"/>
<path d="M777.6 374.5A145.2 145.2 0 0 1 769.7 367.1L781.5 355.4A128.6 128.6 0 0 0 788.5 362Z" fill="#e8a830"/>
<path d="M769.8 367.3A145.2 145.2 0 0 1 765.7 362.9L777.9 351.7A128.6 128.6 0 0 0 781.6 355.6Z" fill="#f4a6a6"/>
<path d="M765.8 363.1A145.2 145.2 0 0 1 764.6 361.7L776.9 350.6A128.6 128.6 0 0 0 778 351.8Z" fill="#1f9e77"/>
<path d="M764.7 361.9A145.2 145.2 0 0 1 739.9 323.6L755 316.8A128.6 128.6 0 0 0 777 350.8Z" fill="#e06c28"/>
<path d="M740 323.8A145.2 145.2 0 0 1 738 319.2L753.4 313A128.6 128.6 0 0 0 755.1 317Z" fill="#f5f2a0"/>
<path d="M738.1 319.4A145.2 145.2 0 0 1 733.9 307.5L749.7 302.6A128.6 128.6 0 0 0 753.5 313.2Z" fill="#f0b030"/>
<path d="M733.9 307.7A145.2 145.2 0 0 1 732.4 302.5L748.4 298.2A128.6 128.6 0 0 0 749.8 302.8Z" fill="#fdb163"/>
<path d="M732.5 302.7A145.2 145.2 0 0 1 732 300.8L748 296.7A128.6 128.6 0 0 0 748.5 298.4Z" fill="#f0c0e0"/>
<path d="M732 301A145.2 145.2 0 0 1 730.6 294.9L746.8 291.5A128.6 128.6 0 0 0 748.1 296.8Z" fill="#a07830"/>
<path d="M730.6 295.1A145.2 145.2 0 0 1 730.1 292.7L746.4 289.5A128.6 128.6 0 0 0 746.9 291.7Z" fill="#62c4a8"/>
<path d="M730.2 292.9A145.2 145.2 0 0 1 729.8 290.7L746.1 287.7A128.6 128.6 0 0 0 746.5 289.7Z" fill="#f08a30"/>
<path d="M729.8 290.9A145.2 145.2 0 0 1 728.8 284.9L745.2 282.6A128.6 128.6 0 0 0 746.1 287.9Z" fill="#b07bc0"/>
<path d="M728.8 285.1A145.2 145.2 0 0 1 728 277.6L744.5 276.1A128.6 128.6 0 0 0 745.3 282.7Z" fill="#e41a1c"/>
<path d="M728 277.8A145.2 145.2 0 0 1 727.7 274.6L744.3 273.5A128.6 128.6 0 0 0 744.5 276.3Z" fill="#6b6b6b"/>
<path d="M727.8 274.8A145.2 145.2 0 0 1 727.8 254.4L744.3 255.6A128.6 128.6 0 0 0 744.3 273.7Z" fill="#a0692e"/>
<path d="M1094 264.6A145.3 145.3 0 0 1 1094.1 259.3L1110.8 259.9A128.6 128.6 0 0 0 1110.7 264.6Z" fill="#3c7fc0"/>
<path d="M1094.1 259.5A145.3 145.3 0 0 1 1095.8 241.7L1112.3 244.3A128.6 128.6 0 0 0 1110.8 260.1Z" fill="#3c7fc0"/>
<path d="M1095.8 241.9A145.3 145.3 0 0 1 1097.2 234.2L1113.5 237.7A128.6 128.6 0 0 0 1112.3 244.5Z" fill="#b9a7d9"/>
<path d="M1097.2 234.4A145.3 145.3 0 0 1 1100.4 221.9L1116.4 226.8A128.6 128.6 0 0 0 1113.5 237.9Z" fill="#f29a9a"/>
<path d="M1100.3 222.1A145.3 145.3 0 0 1 1105.6 207.6L1121 214.2A128.6 128.6 0 0 0 1116.3 227Z" fill="#e4262b"/>
<path d="M1105.6 207.8A145.3 145.3 0 0 1 1111.1 196.2L1125.8 204.1A128.6 128.6 0 0 0 1120.9 214.4Z" fill="#b9a7d9"/>
<path d="M1111 196.4A145.3 145.3 0 0 1 1120.4 181.1L1134.1 190.7A128.6 128.6 0 0 0 1125.8 204.2Z" fill="#b8652a"/>
<path d="M1120.3 181.3A145.3 145.3 0 0 1 1133.2 165.4L1145.4 176.8A128.6 128.6 0 0 0 1134 190.8Z" fill="#e5198a"/>
<path d="M1133 165.5A145.3 145.3 0 0 1 1146.1 153.2L1156.8 166A128.6 128.6 0 0 0 1145.2 176.9Z" fill="#666666"/>
<path d="M1145.9 153.3A145.3 145.3 0 0 1 1156.1 145.5L1165.7 159.2A128.6 128.6 0 0 0 1156.6 166.1Z" fill="#bfe0bd"/>
<path d="M1156 145.6A145.3 145.3 0 0 1 1171.3 136.2L1179.1 151A128.6 128.6 0 0 0 1165.5 159.3Z" fill="#8fc9e0"/>
<path d="M1171.1 136.3A145.3 145.3 0 0 1 1178.1 132.8L1185.1 148A128.6 128.6 0 0 0 1178.9 151.1Z" fill="#f5c6d8"/>
<path d="M1177.9 132.9A145.3 145.3 0 0 1 1189.8 128L1195.5 143.7A128.6 128.6 0 0 0 1185 148Z" fill="#5db04b"/>
<path d="M1189.6 128.1A145.3 145.3 0 0 1 1199.4 124.9L1204 140.9A128.6 128.6 0 0 0 1195.3 143.8Z" fill="#a8d88e"/>
<path d="M1199.2 124.9A145.3 145.3 0 0 1 1326.9 148.7L1316.8 162A128.6 128.6 0 0 0 1203.9 141Z" fill="#7dc98f"/>
<path d="M1326.7 148.6A145.3 145.3 0 0 1 1347.4 167.5L1335 178.7A128.6 128.6 0 0 0 1316.7 161.9Z" fill="#c2c2c2"/>
<path d="M1347.3 167.4A145.3 145.3 0 0 1 1355.5 177.3L1342.1 187.4A128.6 128.6 0 0 0 1334.9 178.5Z" fill="#a0522d"/>
<path d="M1355.3 177.2A145.3 145.3 0 0 1 1365.2 192.1L1350.8 200.5A128.6 128.6 0 0 0 1342 187.2Z" fill="#3c7fc0"/>
<path d="M1365.1 192A145.3 145.3 0 0 1 1367.7 196.6L1352.9 204.4A128.6 128.6 0 0 0 1350.7 200.3Z" fill="#f5c6d8"/>
<path d="M1367.6 196.4A145.3 145.3 0 0 1 1374.1 210.4L1358.6 216.6A128.6 128.6 0 0 0 1352.8 204.2Z" fill="#1b9e77"/>
<path d="M1374 210.2A145.3 145.3 0 0 1 1375 212.7L1359.4 218.7A128.6 128.6 0 0 0 1358.5 216.4Z" fill="#fb8072"/>
<path d="M1374.9 212.5A145.3 145.3 0 0 1 1380.3 229.6L1364.1 233.7A128.6 128.6 0 0 0 1359.4 218.5Z" fill="#e6ab02"/>
<path d="M1380.3 229.4A145.3 145.3 0 0 1 1381.5 234.6L1365.1 238A128.6 128.6 0 0 0 1364.1 233.5Z" fill="#e5d8c0"/>
<path d="M1381.4 234.4A145.3 145.3 0 0 1 1383.2 244.6L1366.7 246.9A128.6 128.6 0 0 0 1365.1 237.9Z" fill="#a6761d"/>
<path d="M1383.2 244.4A145.3 145.3 0 0 1 1383.5 247.1L1367 249.1A128.6 128.6 0 0 0 1366.6 246.7Z" fill="#80b1d3"/>
<path d="M1383.5 246.9A145.3 145.3 0 0 1 1384.1 252.1L1367.4 253.6A128.6 128.6 0 0 0 1366.9 248.9Z" fill="#7570b3"/>
<path d="M1384 251.9A145.3 145.3 0 0 1 1384.5 259.7L1367.8 260.3A128.6 128.6 0 0 0 1367.4 253.4Z" fill="#d95f02"/>
<path d="M1384.5 259.5A145.3 145.3 0 0 1 1384.6 264.8L1367.9 264.8A128.6 128.6 0 0 0 1367.8 260.1Z" fill="#fdc08a"/>
<path d="M1384.6 264.6A145.3 145.3 0 0 1 1338.2 371L1326.9 358.8A128.6 128.6 0 0 0 1367.9 264.6Z" fill="#e5409a"/>
<path d="M1338.4 370.9A145.3 145.3 0 0 1 1326.6 380.8L1316.5 367.4A128.6 128.6 0 0 0 1327 358.7Z" fill="#b0a2d0"/>
<path d="M1326.7 380.6A145.3 145.3 0 0 1 1314 389.3L1305.4 374.9A128.6 128.6 0 0 0 1316.7 367.3Z" fill="#fac08f"/>
<path d="M1314.1 389.1A145.3 145.3 0 0 1 1216.4 408.1L1219 391.6A128.6 128.6 0 0 0 1305.5 374.8Z" fill="#f9b97a"/>
<path d="M1216.6 408.1A145.3 145.3 0 0 1 1211.4 407.2L1214.6 390.8A128.6 128.6 0 0 0 1219.2 391.6Z" fill="#4cb04f"/>
<path d="M1211.6 407.2A145.3 145.3 0 0 1 1204 405.5L1208 389.3A128.6 128.6 0 0 0 1214.8 390.8Z" fill="#888888"/>
<path d="M1204.1 405.6A145.3 145.3 0 0 1 1194.2 402.7L1199.4 386.9A128.6 128.6 0 0 0 1208.2 389.4Z" fill="#7474b8"/>
<path d="M1194.4 402.8A145.3 145.3 0 0 1 1187 400.2L1193 384.6A128.6 128.6 0 0 0 1199.6 386.9Z" fill="#f4a6a6"/>
<path d="M1187.2 400.2A145.3 145.3 0 0 1 1116 341.4L1130.1 332.6A128.6 128.6 0 0 0 1193.2 384.7Z" fill="#f7f5c6"/>
<path d="M1116.1 341.6A145.3 145.3 0 0 1 1110.9 332.6L1125.7 324.8A128.6 128.6 0 0 0 1130.2 332.7Z" fill="#f0ee90"/>
<path d="M1111 332.8A145.3 145.3 0 0 1 1102.7 314.1L1118.4 308.4A128.6 128.6 0 0 0 1125.8 325Z" fill="#e4262b"/>
<path d="M1102.8 314.3A145.3 145.3 0 0 1 1101 309.3L1116.9 304.2A128.6 128.6 0 0 0 1118.5 308.6Z" fill="#9ecae1"/>
<path d="M1101.1 309.5A145.3 145.3 0 0 1 1097.1 294.6L1113.5 291.2A128.6 128.6 0 0 0 1117 304.3Z" fill="#666666"/>
<path d="M1097.2 294.8A145.3 145.3 0 0 1 1094.3 274.5L1111 273.4A128.6 128.6 0 0 0 1113.5 291.3Z" fill="#3b82c0"/>
<path d="M1094.4 274.7A145.3 145.3 0 0 1 1094 264.4L1110.7 264.4A128.6 128.6 0 0 0 1111 273.6Z" fill="#f3f0a6"/>
<path d="M724.1 612.2A145.3 145.3 0 0 1 724.2 606.8L738.3 607.4A131.2 131.2 0 0 0 738.2 612.2Z" fill="#f08080"/>
<path d="M724.2 607A145.3 145.3 0 0 1 724.8 597.7L738.9 599.1A131.2 131.2 0 0 0 738.3 607.5Z" fill="#f08070"/>
<path d="M724.8 597.9A145.3 145.3 0 0 1 726 588.7L739.9 591A131.2 131.2 0 0 0 738.8 599.3Z" fill="#62c4a8"/>
<path d="M726 588.9A145.3 145.3 0 0 1 727.5 581L741.3 584A131.2 131.2 0 0 0 739.9 591.2Z" fill="#7cc68a"/>
<path d="M727.5 581.2A145.3 145.3 0 0 1 727.7 580.1L741.4 583.2A131.2 131.2 0 0 0 741.2 584.2Z" fill="#5cb346"/>
<path d="M727.6 580.3A145.3 145.3 0 0 1 731 568L744.4 572.3A131.2 131.2 0 0 0 741.4 583.4Z" fill="#f5f2a0"/>
<path d="M730.9 568.2A145.3 145.3 0 0 1 734.9 557.3L747.9 562.6A131.2 131.2 0 0 0 744.4 572.4Z" fill="#f5f098"/>
<path d="M734.8 557.5A145.3 145.3 0 0 1 739.4 547.3L752 553.6A131.2 131.2 0 0 0 747.9 562.8Z" fill="#b07bc0"/>
<path d="M739.3 547.5A145.3 145.3 0 0 1 744.4 538L756.6 545.2A131.2 131.2 0 0 0 751.9 553.8Z" fill="#f08070"/>
<path d="M744.3 538.2A145.3 145.3 0 0 1 748.4 531.7L760.2 539.5A131.2 131.2 0 0 0 756.5 545.4Z" fill="#fccde5"/>
<path d="M748.3 531.9A145.3 145.3 0 0 1 755.8 521.6L766.8 530.4A131.2 131.2 0 0 0 760.1 539.7Z" fill="#a8dcd0"/>
<path d="M755.7 521.8A145.3 145.3 0 0 1 761.6 514.8L772.1 524.2A131.2 131.2 0 0 0 766.7 530.6Z" fill="#6baed6"/>
<path d="M761.5 514.9A145.3 145.3 0 0 1 769.2 507L778.9 517.2A131.2 131.2 0 0 0 772 524.4Z" fill="#f5f098"/>
<path d="M769 507.1A145.3 145.3 0 0 1 776.3 500.6L785.3 511.5A131.2 131.2 0 0 0 778.8 517.3Z" fill="#b07bc0"/>
<path d="M776.2 500.8A145.3 145.3 0 0 1 781.8 496.3L790.3 507.5A131.2 131.2 0 0 0 785.2 511.6Z" fill="#f08a30"/>
<path d="M781.6 496.4A145.3 145.3 0 0 1 785.3 493.7L793.4 505.2A131.2 131.2 0 0 0 790.1 507.6Z" fill="#e41a1c"/>
<path d="M785.1 493.8A145.3 145.3 0 0 1 790.4 490.3L798 502.1A131.2 131.2 0 0 0 793.3 505.3Z" fill="#f5f098"/>
<path d="M790.2 490.4A145.3 145.3 0 0 1 797.8 485.8L804.7 498A131.2 131.2 0 0 0 797.9 502.2Z" fill="#b07bc0"/>
<path d="M797.6 485.9A145.3 145.3 0 0 1 805.2 481.9L811.4 494.5A131.2 131.2 0 0 0 804.6 498.1Z" fill="#fccde5"/>
<path d="M805 481.9A145.3 145.3 0 0 1 809.7 479.7L815.5 492.6A131.2 131.2 0 0 0 811.3 494.6Z" fill="#a6d68a"/>
<path d="M809.5 479.8A145.3 145.3 0 0 1 813.2 478.2L818.7 491.2A131.2 131.2 0 0 0 815.3 492.7Z" fill="#e8a830"/>
<path d="M813 478.3A145.3 145.3 0 0 1 819.2 475.8L824.1 489.1A131.2 131.2 0 0 0 818.5 491.3Z" fill="#a6592d"/>
<path d="M819.1 475.9A145.3 145.3 0 0 1 823.8 474.2L828.2 487.6A131.2 131.2 0 0 0 823.9 489.1Z" fill="#f0c0e0"/>
<path d="M823.6 474.3A145.3 145.3 0 0 1 832.4 471.7L836 485.3A131.2 131.2 0 0 0 828 487.7Z" fill="#f0e640"/>
<path d="M832.2 471.7A145.3 145.3 0 0 1 842.2 469.5L844.8 483.3A131.2 131.2 0 0 0 835.8 485.4Z" fill="#6baed6"/>
<path d="M842 469.5A145.3 145.3 0 0 1 846.7 468.7L848.9 482.6A131.2 131.2 0 0 0 844.7 483.4Z" fill="#a6d68a"/>
<path d="M846.5 468.7A145.3 145.3 0 0 1 854.5 467.7L855.9 481.7A131.2 131.2 0 0 0 848.7 482.6Z" fill="#d0d0d0"/>
<path d="M854.3 467.7A145.3 145.3 0 0 1 864.3 467L864.8 481.1A131.2 131.2 0 0 0 855.7 481.7Z" fill="#a6592d"/>
<path d="M864.1 467A145.3 145.3 0 0 1 872.7 466.9L872.4 481A131.2 131.2 0 0 0 864.6 481.1Z" fill="#6baed6"/>
<path d="M872.5 466.9A145.3 145.3 0 0 1 881.2 467.4L880 481.4A131.2 131.2 0 0 0 872.2 481Z" fill="#f08080"/>
<path d="M881 467.4A145.3 145.3 0 0 1 886.7 467.9L885 481.9A131.2 131.2 0 0 0 879.8 481.4Z" fill="#e5c494"/>
<path d="M886.5 467.9A145.3 145.3 0 0 1 890.3 468.4L888.3 482.4A131.2 131.2 0 0 0 884.8 481.9Z" fill="#62c4a8"/>
<path d="M890.1 468.4A145.3 145.3 0 0 1 897.1 469.6L894.4 483.4A131.2 131.2 0 0 0 888.1 482.3Z" fill="#f08a30"/>
<path d="M896.9 469.5A145.3 145.3 0 0 1 906.5 471.7L902.9 485.3A131.2 131.2 0 0 0 894.2 483.4Z" fill="#6b70b8"/>
<path d="M906.3 471.7A145.3 145.3 0 0 1 915.2 474.3L910.7 487.7A131.2 131.2 0 0 0 902.7 485.3Z" fill="#b07bc0"/>
<path d="M915 474.2A145.3 145.3 0 0 1 918.7 475.5L914 488.8A131.2 131.2 0 0 0 910.5 487.6Z" fill="#9b59b6"/>
<path d="M918.6 475.5A145.3 145.3 0 0 1 929.6 480L923.8 492.8A131.2 131.2 0 0 0 913.8 488.7Z" fill="#62c4a8"/>
<path d="M929.4 479.9A145.3 145.3 0 0 1 940.4 485.4L933.5 497.7A131.2 131.2 0 0 0 923.6 492.7Z" fill="#a6592d"/>
<path d="M940.2 485.3A145.3 145.3 0 0 1 942.6 486.7L935.5 498.9A131.2 131.2 0 0 0 933.3 497.6Z" fill="#6b6b6b"/>
<path d="M942.4 486.6A145.3 145.3 0 0 1 949.6 491L941.8 502.8A131.2 131.2 0 0 0 935.3 498.8Z" fill="#33b04a"/>
<path d="M949.4 490.9A145.3 145.3 0 0 1 953.5 493.7L945.4 505.2A131.2 131.2 0 0 0 941.7 502.7Z" fill="#a6592d"/>
<path d="M953.4 493.6A145.3 145.3 0 0 1 958.6 497.5L950 508.7A131.2 131.2 0 0 0 945.2 505.1Z" fill="#bfbfbf"/>
<path d="M958.5 497.4A145.3 145.3 0 0 1 966.3 504L956.9 514.5A131.2 131.2 0 0 0 949.8 508.5Z" fill="#4cb85c"/>
<path d="M966.2 503.8A145.3 145.3 0 0 1 970.1 507.5L960.3 517.6A131.2 131.2 0 0 0 956.8 514.3Z" fill="#6baed6"/>
<path d="M970 507.3A145.3 145.3 0 0 1 977.3 514.9L966.9 524.4A131.2 131.2 0 0 0 960.2 517.5Z" fill="#a8dcd0"/>
<path d="M977.2 514.8A145.3 145.3 0 0 1 980.4 518.4L969.6 527.5A131.2 131.2 0 0 0 966.7 524.2Z" fill="#a6592d"/>
<path d="M980.2 518.2A145.3 145.3 0 0 1 984 522.9L972.9 531.5A131.2 131.2 0 0 0 969.5 527.4Z" fill="#62c4a8"/>
<path d="M983.9 522.7A145.3 145.3 0 0 1 990 531.1L978.3 539A131.2 131.2 0 0 0 972.8 531.4Z" fill="#5cb346"/>
<path d="M989.9 531A145.3 145.3 0 0 1 994.9 538.9L982.7 546A131.2 131.2 0 0 0 978.2 538.8Z" fill="#f0c0e0"/>
<path d="M994.7 538.7A145.3 145.3 0 0 1 998.4 545.4L985.9 551.9A131.2 131.2 0 0 0 982.6 545.8Z" fill="#6b70b8"/>
<path d="M998.3 545.2A145.3 145.3 0 0 1 999.8 548.2L987.2 554.4A131.2 131.2 0 0 0 985.8 551.7Z" fill="#b07bc0"/>
<path d="M999.8 548A145.3 145.3 0 0 1 1000.4 549.3L987.7 555.4A131.2 131.2 0 0 0 987.1 554.3Z" fill="#a6d68a"/>
<path d="M1000.3 549.1A145.3 145.3 0 0 1 1004.7 559.3L991.6 564.4A131.2 131.2 0 0 0 987.6 555.2Z" fill="#9b59b6"/>
<path d="M1004.6 559.1A145.3 145.3 0 0 1 1007.6 567.4L994.2 571.8A131.2 131.2 0 0 0 991.5 564.2Z" fill="#6baed6"/>
<path d="M1007.6 567.2A145.3 145.3 0 0 1 1008.8 571.1L995.2 575.1A131.2 131.2 0 0 0 994.2 571.6Z" fill="#f0c0e0"/>
<path d="M1008.7 570.9A145.3 145.3 0 0 1 1010.9 579.3L997.2 582.5A131.2 131.2 0 0 0 995.2 574.9Z" fill="#a8dcd0"/>
<path d="M1010.9 579.1A145.3 145.3 0 0 1 1011.6 582.2L997.8 585.1A131.2 131.2 0 0 0 997.1 582.3Z" fill="#b07bc0"/>
<path d="M1011.5 582A145.3 145.3 0 0 1 1012.3 585.8L998.4 588.4A131.2 131.2 0 0 0 997.7 584.9Z" fill="#bfbfbf"/>
<path d="M1012.2 585.6A145.3 145.3 0 0 1 1013.9 597.3L999.9 598.7A131.2 131.2 0 0 0 998.4 588.2Z" fill="#b07bc0"/>
<path d="M1013.9 597.1A145.3 145.3 0 0 1 1014.2 599.7L1000.1 600.9A131.2 131.2 0 0 0 999.9 598.6Z" fill="#c2e2c0"/>
<path d="M1014.1 599.5A145.3 145.3 0 0 1 1013.3 632.6L999.3 630.6A131.2 131.2 0 0 0 1000.1 600.8Z" fill="#f9d43f"/>
<path d="M1013.3 632.4A145.3 145.3 0 0 1 1012.7 636L998.8 633.7A131.2 131.2 0 0 0 999.3 630.5Z" fill="#62c4a8"/>
<path d="M1012.8 635.8A145.3 145.3 0 0 1 1011.6 642L997.8 639.1A131.2 131.2 0 0 0 998.9 633.5Z" fill="#4cb85c"/>
<path d="M1011.7 641.8A145.3 145.3 0 0 1 1011 644.9L997.2 641.7A131.2 131.2 0 0 0 997.9 638.9Z" fill="#d0d0d0"/>
<path d="M1011 644.7A145.3 145.3 0 0 1 1009 652.5L995.5 648.6A131.2 131.2 0 0 0 997.3 641.5Z" fill="#f0c0e0"/>
<path d="M1009.1 652.3A145.3 145.3 0 0 1 1007.7 656.8L994.3 652.5A131.2 131.2 0 0 0 995.5 648.4Z" fill="#3b7fc0"/>
<path d="M1007.8 656.6A145.3 145.3 0 0 1 1003.9 667.2L990.9 661.8A131.2 131.2 0 0 0 994.3 652.3Z" fill="#1f9e77"/>
<path d="M1004 667A145.3 145.3 0 0 1 1000.4 675.2L987.6 669.1A131.2 131.2 0 0 0 990.9 661.7Z" fill="#a6d68a"/>
<path d="M1000.4 675A145.3 145.3 0 0 1 996.7 682.2L984.4 675.4A131.2 131.2 0 0 0 987.7 668.9Z" fill="#f08a30"/>
<path d="M996.8 682A145.3 145.3 0 0 1 995.9 683.7L983.6 676.7A131.2 131.2 0 0 0 984.4 675.3Z" fill="#3b7fc0"/>
<path d="M996 683.5A145.3 145.3 0 0 1 989.6 693.9L977.9 685.9A131.2 131.2 0 0 0 983.7 676.6Z" fill="#5cb346"/>
<path d="M989.7 693.7A145.3 145.3 0 0 1 987.5 696.8L976 688.6A131.2 131.2 0 0 0 978 685.8Z" fill="#f5f2a0"/>
<path d="M987.6 696.7A145.3 145.3 0 0 1 979.7 706.8L969 697.6A131.2 131.2 0 0 0 976.2 688.5Z" fill="#a8dcd0"/>
<path d="M979.8 706.6A145.3 145.3 0 0 1 976.9 709.9L966.5 700.4A131.2 131.2 0 0 0 969.1 697.5Z" fill="#7cc68a"/>
<path d="M977.1 709.8A145.3 145.3 0 0 1 974.5 712.5L964.3 702.8A131.2 131.2 0 0 0 966.6 700.3Z" fill="#f4a6a6"/>
<path d="M974.6 712.4A145.3 145.3 0 0 1 970.5 716.5L960.7 706.4A131.2 131.2 0 0 0 964.4 702.7Z" fill="#33b04a"/>
<path d="M970.7 716.4A145.3 145.3 0 0 1 965.8 721L956.4 710.4A131.2 131.2 0 0 0 960.8 706.3Z" fill="#c2e2c0"/>
<path d="M965.9 720.8A145.3 145.3 0 0 1 964.1 722.4L955 711.7A131.2 131.2 0 0 0 956.5 710.3Z" fill="#fdb163"/>
<path d="M964.3 722.2A145.3 145.3 0 0 1 958 727.4L949.4 716.2A131.2 131.2 0 0 0 955.1 711.6Z" fill="#f08070"/>
<path d="M958.2 727.2A145.3 145.3 0 0 1 948.2 734.3L940.5 722.5A131.2 131.2 0 0 0 949.5 716.1Z" fill="#a6d68a"/>
<path d="M948.3 734.2A145.3 145.3 0 0 1 942.4 737.8L935.3 725.6A131.2 131.2 0 0 0 940.7 722.4Z" fill="#33b04a"/>
<path d="M942.6 737.7A145.3 145.3 0 0 1 936.5 741.1L930 728.6A131.2 131.2 0 0 0 935.5 725.6Z" fill="#b3de69"/>
<path d="M936.7 741A145.3 145.3 0 0 1 926 746L920.5 733.1A131.2 131.2 0 0 0 930.2 728.5Z" fill="#d98bc6"/>
<path d="M926.2 746A145.3 145.3 0 0 1 916.3 749.7L911.8 736.4A131.2 131.2 0 0 0 920.6 733Z" fill="#d98bc6"/>
<path d="M916.5 749.6A145.3 145.3 0 0 1 913.6 750.6L909.4 737.2A131.2 131.2 0 0 0 912 736.3Z" fill="#33b04a"/>
<path d="M913.8 750.5A145.3 145.3 0 0 1 903.2 753.5L899.9 739.8A131.2 131.2 0 0 0 909.5 737.1Z" fill="#f4a6a6"/>
<path d="M903.4 753.5A145.3 145.3 0 0 1 902.4 753.7L899.2 740A131.2 131.2 0 0 0 900.1 739.8Z" fill="#f5f2a0"/>
<path d="M902.6 753.7A145.3 145.3 0 0 1 891.1 755.9L889 741.9A131.2 131.2 0 0 0 899.4 739.9Z" fill="#e41a1c"/>
<path d="M891.3 755.8A145.3 145.3 0 0 1 888.2 756.3L886.4 742.3A131.2 131.2 0 0 0 889.2 741.9Z" fill="#a8dcd0"/>
<path d="M888.4 756.3A145.3 145.3 0 0 1 884.4 756.7L882.9 742.7A131.2 131.2 0 0 0 886.5 742.3Z" fill="#c2e2c0"/>
<path d="M884.6 756.7A145.3 145.3 0 0 1 844 755.3L846.4 741.4A131.2 131.2 0 0 0 883.1 742.7Z" fill="#f08a30"/>
<path d="M844.2 755.3A145.3 145.3 0 0 1 838.5 754.2L841.5 740.4A131.2 131.2 0 0 0 846.6 741.4Z" fill="#3b7fc0"/>
<path d="M838.7 754.2A145.3 145.3 0 0 1 828.9 751.7L832.8 738.2A131.2 131.2 0 0 0 841.7 740.4Z" fill="#f5f098"/>
<path d="M829.1 751.8A145.3 145.3 0 0 1 827.5 751.3L831.5 737.8A131.2 131.2 0 0 0 833 738.2Z" fill="#f4a6a6"/>
<path d="M827.7 751.4A145.3 145.3 0 0 1 822.7 749.8L827.2 736.4A131.2 131.2 0 0 0 831.7 737.9Z" fill="#5cb346"/>
<path d="M822.9 749.9A145.3 145.3 0 0 1 814.9 746.9L820.2 733.8A131.2 131.2 0 0 0 827.4 736.5Z" fill="#6b70b8"/>
<path d="M815.1 747A145.3 145.3 0 0 1 806.5 743.2L812.6 730.5A131.2 131.2 0 0 0 820.4 733.9Z" fill="#e41a1c"/>
<path d="M806.7 743.3A145.3 145.3 0 0 1 798 738.7L804.9 726.5A131.2 131.2 0 0 0 812.8 730.6Z" fill="#c0d0e8"/>
<path d="M798.1 738.8A145.3 145.3 0 0 1 795.4 737.2L802.5 725.1A131.2 131.2 0 0 0 805.1 726.5Z" fill="#c2e2c0"/>
<path d="M795.5 737.3A145.3 145.3 0 0 1 785.3 730.7L793.5 719.2A131.2 131.2 0 0 0 802.7 725.2Z" fill="#b07bc0"/>
<path d="M785.5 730.8A145.3 145.3 0 0 1 777.8 725L786.7 714A131.2 131.2 0 0 0 793.6 719.3Z" fill="#7cc68a"/>
<path d="M777.9 725.1A145.3 145.3 0 0 1 771.3 719.4L780.8 709A131.2 131.2 0 0 0 786.8 714.2Z" fill="#b07bc0"/>
<path d="M771.5 719.5A145.3 145.3 0 0 1 768.6 716.8L778.3 706.7A131.2 131.2 0 0 0 781 709.1Z" fill="#f4a6a6"/>
<path d="M768.7 716.9A145.3 145.3 0 0 1 766.3 714.6L776.3 704.7A131.2 131.2 0 0 0 778.5 706.8Z" fill="#c0d0e8"/>
<path d="M766.5 714.8A145.3 145.3 0 0 1 764.4 712.6L774.6 702.9A131.2 131.2 0 0 0 776.5 704.8Z" fill="#6baed6"/>
<path d="M764.5 712.8A145.3 145.3 0 0 1 760.1 707.9L770.7 698.6A131.2 131.2 0 0 0 774.7 703Z" fill="#6b6b6b"/>
<path d="M760.2 708A145.3 145.3 0 0 1 753.3 699.6L764.6 691.1A131.2 131.2 0 0 0 770.8 698.7Z" fill="#62c4a8"/>
<path d="M753.4 699.8A145.3 145.3 0 0 1 746.5 689.7L758.4 682.2A131.2 131.2 0 0 0 764.7 691.3Z" fill="#a07830"/>
<path d="M746.6 689.9A145.3 145.3 0 0 1 743.4 684.6L755.7 677.6A131.2 131.2 0 0 0 758.5 682.4Z" fill="#4cb85c"/>
<path d="M743.5 684.8A145.3 145.3 0 0 1 739 676.2L751.6 670A131.2 131.2 0 0 0 755.7 677.7Z" fill="#62c4a8"/>
<path d="M739.1 676.4A145.3 145.3 0 0 1 734.8 666.8L747.8 661.5A131.2 131.2 0 0 0 751.7 670.2Z" fill="#9b59b6"/>
<path d="M734.8 667A145.3 145.3 0 0 1 731.1 656.7L744.5 652.4A131.2 131.2 0 0 0 747.9 661.7Z" fill="#f0c0e0"/>
<path d="M731.1 656.9A145.3 145.3 0 0 1 729.2 650.5L742.8 646.8A131.2 131.2 0 0 0 744.6 652.6Z" fill="#3b7fc0"/>
<path d="M729.3 650.7A145.3 145.3 0 0 1 728.4 647.2L742.1 643.8A131.2 131.2 0 0 0 742.9 646.9Z" fill="#c2e2c0"/>
<path d="M728.4 647.4A145.3 145.3 0 0 1 726.7 639.5L740.5 636.8A131.2 131.2 0 0 0 742.1 644Z" fill="#e41a1c"/>
<path d="M726.7 639.7A145.3 145.3 0 0 1 725.9 634.9L739.8 632.7A131.2 131.2 0 0 0 740.6 637Z" fill="#7cc68a"/>
<path d="M725.9 635.1A145.3 145.3 0 0 1 725.5 632.3L739.5 630.4A131.2 131.2 0 0 0 739.8 632.9Z" fill="#f5f2a0"/>
<path d="M725.5 632.5A145.3 145.3 0 0 1 724.4 622.2L738.5 621.2A131.2 131.2 0 0 0 739.5 630.5Z" fill="#62c4a8"/>
<path d="M724.5 622.4A145.3 145.3 0 0 1 724.1 614.1L738.2 613.9A131.2 131.2 0 0 0 738.5 621.4Z" fill="#f0b030"/>
<path d="M724.1 614.3A145.3 145.3 0 0 1 724.1 612L738.2 612A131.2 131.2 0 0 0 738.2 614.1Z" fill="#f08080"/>
<path d="M1093.6 612.2A145.5 145.5 0 0 1 1093.7 608.4L1109.1 608.8A130 130 0 0 0 1109.1 612.2Z" fill="#e41a1c"/>
<path d="M1093.6 608.6A145.5 145.5 0 0 1 1094.5 596.3L1109.9 598A130 130 0 0 0 1109.1 609Z" fill="#f5f098"/>
<path d="M1094.4 596.5A145.5 145.5 0 0 1 1094.7 594.7L1110 596.5A130 130 0 0 0 1109.9 598.2Z" fill="#f0c0e0"/>
<path d="M1094.6 594.9A145.5 145.5 0 0 1 1095.4 589.1L1110.7 591.6A130 130 0 0 0 1110 596.7Z" fill="#8c9fd0"/>
<path d="M1095.4 589.3A145.5 145.5 0 0 1 1096.6 582.7L1111.8 585.8A130 130 0 0 0 1110.7 591.8Z" fill="#f5f098"/>
<path d="M1096.6 582.9A145.5 145.5 0 0 1 1097.7 578L1112.7 581.6A130 130 0 0 0 1111.8 586Z" fill="#6baed6"/>
<path d="M1097.6 578.2A145.5 145.5 0 0 1 1100.6 567.6L1115.3 572.4A130 130 0 0 0 1112.7 581.8Z" fill="#e41a1c"/>
<path d="M1100.5 567.8A145.5 145.5 0 0 1 1101.9 563.8L1116.5 569A130 130 0 0 0 1115.3 572.6Z" fill="#a07830"/>
<path d="M1101.8 564A145.5 145.5 0 0 1 1103.3 559.8L1117.8 565.4A130 130 0 0 0 1116.4 569.1Z" fill="#1f9e77"/>
<path d="M1103.3 560A145.5 145.5 0 0 1 1104.3 557.5L1118.7 563.3A130 130 0 0 0 1117.7 565.6Z" fill="#a07830"/>
<path d="M1104.2 557.6A145.5 145.5 0 0 1 1106.1 553.2L1120.3 559.5A130 130 0 0 0 1118.6 563.5Z" fill="#8c9fd0"/>
<path d="M1106 553.4A145.5 145.5 0 0 1 1109.8 545.6L1123.5 552.7A130 130 0 0 0 1120.2 559.7Z" fill="#f4a6a6"/>
<path d="M1109.7 545.8A145.5 145.5 0 0 1 1115.4 535.7L1128.5 543.8A130 130 0 0 0 1123.4 552.8Z" fill="#1f9e77"/>
<path d="M1115.3 535.8A145.5 145.5 0 0 1 1120 528.6L1132.7 537.5A130 130 0 0 0 1128.5 544Z" fill="#a6d68a"/>
<path d="M1119.9 528.8A145.5 145.5 0 0 1 1121.5 526.5L1134 535.6A130 130 0 0 0 1132.6 537.7Z" fill="#6b6b6b"/>
<path d="M1121.4 526.7A145.5 145.5 0 0 1 1289.1 475.5L1283.7 490.1A130 130 0 0 0 1133.9 535.8Z" fill="#ddd0b4"/>
<path d="M1288.9 475.5A145.5 145.5 0 0 1 1296.1 478.3L1290.1 492.6A130 130 0 0 0 1283.6 490Z" fill="#5cb346"/>
<path d="M1296 478.3A145.5 145.5 0 0 1 1300.8 480.4L1294.2 494.5A130 130 0 0 0 1289.9 492.5Z" fill="#f08a30"/>
<path d="M1300.6 480.3A145.5 145.5 0 0 1 1307.7 483.9L1300.4 497.6A130 130 0 0 0 1294 494.4Z" fill="#f0c0e0"/>
<path d="M1307.5 483.8A145.5 145.5 0 0 1 1315.4 488.3L1307.3 501.5A130 130 0 0 0 1300.2 497.5Z" fill="#7cc68a"/>
<path d="M1315.2 488.2A145.5 145.5 0 0 1 1317.3 489.5L1309 502.6A130 130 0 0 0 1307.1 501.4Z" fill="#f5f2a0"/>
<path d="M1317.2 489.4A145.5 145.5 0 0 1 1318.7 490.4L1310.2 503.4A130 130 0 0 0 1308.9 502.5Z" fill="#bfbfbf"/>
<path d="M1318.5 490.3A145.5 145.5 0 0 1 1321.2 492.1L1312.5 504.9A130 130 0 0 0 1310.1 503.3Z" fill="#e41a1c"/>
<path d="M1321 492A145.5 145.5 0 0 1 1322.7 493.1L1313.8 505.8A130 130 0 0 0 1312.3 504.8Z" fill="#bfbfbf"/>
<path d="M1322.6 493A145.5 145.5 0 0 1 1356.9 526.8L1344.4 535.9A130 130 0 0 0 1313.7 505.7Z" fill="#f9b97a"/>
<path d="M1356.8 526.7A145.5 145.5 0 0 1 1361.4 533.4L1348.4 541.8A130 130 0 0 0 1344.3 535.8Z" fill="#6b6b6b"/>
<path d="M1361.3 533.3A145.5 145.5 0 0 1 1365.2 539.6L1351.7 547.3A130 130 0 0 0 1348.3 541.7Z" fill="#f4a6a6"/>
<path d="M1365.1 539.4A145.5 145.5 0 0 1 1367.7 544.1L1354 551.3A130 130 0 0 0 1351.7 547.2Z" fill="#f0c0e0"/>
<path d="M1367.6 543.9A145.5 145.5 0 0 1 1372.6 554.3L1358.4 560.5A130 130 0 0 0 1353.9 551.2Z" fill="#62c4a8"/>
<path d="M1372.5 554.1A145.5 145.5 0 0 1 1375.7 562L1361.1 567.4A130 130 0 0 0 1358.3 560.3Z" fill="#a07830"/>
<path d="M1375.6 561.8A145.5 145.5 0 0 1 1376.5 564.4L1361.9 569.5A130 130 0 0 0 1361.1 567.2Z" fill="#8c9fd0"/>
<path d="M1376.4 564.2A145.5 145.5 0 0 1 1380 576L1365 579.8A130 130 0 0 0 1361.8 569.3Z" fill="#6baed6"/>
<path d="M1380 575.8A145.5 145.5 0 0 1 1382.1 585.5L1366.9 588.3A130 130 0 0 0 1365 579.7Z" fill="#33b04a"/>
<path d="M1382.1 585.3A145.5 145.5 0 0 1 1383 590.6L1367.7 592.9A130 130 0 0 0 1366.9 588.2Z" fill="#d98bc6"/>
<path d="M1383 590.4A145.5 145.5 0 0 1 1383.4 593.6L1368 595.6A130 130 0 0 0 1367.6 592.8Z" fill="#f5f098"/>
<path d="M1383.4 593.4A145.5 145.5 0 0 1 1383.5 594.6L1368.1 596.5A130 130 0 0 0 1368 595.4Z" fill="#d98bc6"/>
<path d="M1383.5 594.4A145.5 145.5 0 0 1 1384.1 600.3L1368.7 601.6A130 130 0 0 0 1368.1 596.3Z" fill="#b3de69"/>
<path d="M1384.1 600.1A145.5 145.5 0 0 1 1384.5 608L1369 608.4A130 130 0 0 0 1368.7 601.4Z" fill="#6baed6"/>
<path d="M1384.5 607.8A145.5 145.5 0 0 1 1384.6 611.8L1369.1 611.8A130 130 0 0 0 1369 608.3Z" fill="#c2e2c0"/>
<path d="M1384.6 611.6A145.5 145.5 0 0 1 1384.6 614.9L1369.1 614.6A130 130 0 0 0 1369.1 611.6Z" fill="#f5f098"/>
<path d="M1384.6 614.7A145.5 145.5 0 0 1 1383.9 626.3L1368.5 624.8A130 130 0 0 0 1369.1 614.4Z" fill="#d0d0d0"/>
<path d="M1383.9 626.1A145.5 145.5 0 0 1 1383.4 630.9L1368 628.9A130 130 0 0 0 1368.5 624.6Z" fill="#6b70b8"/>
<path d="M1383.4 630.7A145.5 145.5 0 0 1 1382.6 636.3L1367.3 633.8A130 130 0 0 0 1368 628.7Z" fill="#a6d68a"/>
<path d="M1382.6 636.1A145.5 145.5 0 0 1 1382.1 639.1L1366.9 636.3A130 130 0 0 0 1367.3 633.6Z" fill="#bfbfbf"/>
<path d="M1382.1 638.9A145.5 145.5 0 0 1 1380.5 646.7L1365.4 643A130 130 0 0 0 1366.9 636.1Z" fill="#a6d68a"/>
<path d="M1380.5 646.5A145.5 145.5 0 0 1 1378.5 653.9L1363.6 649.5A130 130 0 0 0 1365.4 642.8Z" fill="#fdb07a"/>
<path d="M1378.5 653.7A145.5 145.5 0 0 1 1376 661.6L1361.4 656.3A130 130 0 0 0 1363.7 649.3Z" fill="#f0b030"/>
<path d="M1376 661.4A145.5 145.5 0 0 1 1373.9 666.9L1359.6 661.1A130 130 0 0 0 1361.4 656.2Z" fill="#a6592d"/>
<path d="M1374 666.7A145.5 145.5 0 0 1 1350.4 705.9L1338.6 695.9A130 130 0 0 0 1359.6 660.9Z" fill="#72c47f"/>
<path d="M1350.6 705.7A145.5 145.5 0 0 1 1347.1 709.7L1335.6 699.3A130 130 0 0 0 1338.7 695.8Z" fill="#33b04a"/>
<path d="M1347.2 709.5A145.5 145.5 0 0 1 1345 712L1333.7 701.4A130 130 0 0 0 1335.7 699.2Z" fill="#f4a6a6"/>
<path d="M1345.1 711.8A145.5 145.5 0 0 1 1344.2 712.8L1333 702.1A130 130 0 0 0 1333.8 701.2Z" fill="#c2e2c0"/>
<path d="M1344.3 712.7A145.5 145.5 0 0 1 1340.9 716.2L1330.1 705.1A130 130 0 0 0 1333.1 702Z" fill="#b07bc0"/>
<path d="M1341 716A145.5 145.5 0 0 1 1335 721.6L1324.8 710A130 130 0 0 0 1330.2 705Z" fill="#f4a6a6"/>
<path d="M1335.1 721.5A145.5 145.5 0 0 1 1331 725L1321.3 713A130 130 0 0 0 1324.9 709.9Z" fill="#a8dcd0"/>
<path d="M1331.2 724.8A145.5 145.5 0 0 1 1324.5 730L1315.4 717.5A130 130 0 0 0 1321.4 712.8Z" fill="#f5f2a0"/>
<path d="M1324.6 729.9A145.5 145.5 0 0 1 1311.7 738.3L1303.9 724.9A130 130 0 0 0 1315.5 717.4Z" fill="#8b56a6"/>
<path d="M1311.8 738.2A145.5 145.5 0 0 1 1307.2 740.8L1300 727.1A130 130 0 0 0 1304.1 724.8Z" fill="#c2e2c0"/>
<path d="M1307.4 740.7A145.5 145.5 0 0 1 1283.9 750.6L1279.1 735.9A130 130 0 0 0 1300.1 727Z" fill="#a8d68e"/>
<path d="M1284.1 750.6A145.5 145.5 0 0 1 1244 757.6L1243.5 742.1A130 130 0 0 0 1279.3 735.8Z" fill="#8b56a6"/>
<path d="M1244.2 757.6A145.5 145.5 0 0 1 1241.3 757.7L1241 742.2A130 130 0 0 0 1243.6 742.1Z" fill="#6baed6"/>
<path d="M1241.5 757.7A145.5 145.5 0 0 1 1228.6 757.3L1229.7 741.9A130 130 0 0 0 1241.2 742.2Z" fill="#e5c494"/>
<path d="M1228.8 757.3A145.5 145.5 0 0 1 1219 756.3L1221.1 741A130 130 0 0 0 1229.9 741.9Z" fill="#e8a830"/>
<path d="M1219.2 756.3A145.5 145.5 0 0 1 1213.8 755.5L1216.5 740.2A130 130 0 0 0 1221.3 741Z" fill="#62c4a8"/>
<path d="M1214 755.5A145.5 145.5 0 0 1 1210.5 754.9L1213.5 739.7A130 130 0 0 0 1216.7 740.3Z" fill="#f08a30"/>
<path d="M1210.7 754.9A145.5 145.5 0 0 1 1199.9 752.3L1204.1 737.4A130 130 0 0 0 1213.7 739.7Z" fill="#62c4a8"/>
<path d="M1200.1 752.4A145.5 145.5 0 0 1 1193.3 750.3L1198.2 735.6A130 130 0 0 0 1204.2 737.4Z" fill="#3b7fc0"/>
<path d="M1193.5 750.4A145.5 145.5 0 0 1 1183.1 746.5L1189 732.2A130 130 0 0 0 1198.4 735.7Z" fill="#62c4a8"/>
<path d="M1183.2 746.6A145.5 145.5 0 0 1 1180.7 745.5L1186.9 731.3A130 130 0 0 0 1189.2 732.2Z" fill="#a6592d"/>
<path d="M1180.9 745.6A145.5 145.5 0 0 1 1177.2 743.9L1183.8 729.8A130 130 0 0 0 1187.1 731.3Z" fill="#b3de69"/>
<path d="M1177.3 743.9A145.5 145.5 0 0 1 1173.5 742.1L1180.5 728.2A130 130 0 0 0 1183.9 729.9Z" fill="#e8a830"/>
<path d="M1173.7 742.2A145.5 145.5 0 0 1 1164.3 737L1172.3 723.7A130 130 0 0 0 1180.7 728.3Z" fill="#e41a1c"/>
<path d="M1164.5 737.1A145.5 145.5 0 0 1 1163.6 736.6L1171.6 723.3A130 130 0 0 0 1172.4 723.8Z" fill="#a07830"/>
<path d="M1163.8 736.7A145.5 145.5 0 0 1 1159.3 733.9L1167.8 720.9A130 130 0 0 0 1171.8 723.4Z" fill="#c0d0e8"/>
<path d="M1159.5 734A145.5 145.5 0 0 1 1157.2 732.5L1165.9 719.7A130 130 0 0 0 1168 721Z" fill="#d0d0d0"/>
<path d="M1157.4 732.6A145.5 145.5 0 0 1 1154.8 730.8L1163.8 718.1A130 130 0 0 0 1166.1 719.8Z" fill="#6baed6"/>
<path d="M1154.9 730.9A145.5 145.5 0 0 1 1145.5 723.6L1155.5 711.7A130 130 0 0 0 1163.9 718.2Z" fill="#8c9fd0"/>
<path d="M1145.7 723.7A145.5 145.5 0 0 1 1140.7 719.4L1151.2 708A130 130 0 0 0 1155.6 711.9Z" fill="#6b70b8"/>
<path d="M1140.8 719.5A145.5 145.5 0 0 1 1140.1 718.8L1150.6 707.4A130 130 0 0 0 1151.3 708.1Z" fill="#fccde5"/>
<path d="M1140.2 718.9A145.5 145.5 0 0 1 1132.5 711.2L1143.8 700.7A130 130 0 0 0 1150.8 707.6Z" fill="#4cb85c"/>
<path d="M1132.6 711.4A145.5 145.5 0 0 1 1127.3 705.3L1139.2 695.4A130 130 0 0 0 1144 700.8Z" fill="#f0c0e0"/>
<path d="M1127.4 705.5A145.5 145.5 0 0 1 1125.5 703.1L1137.6 693.5A130 130 0 0 0 1139.3 695.5Z" fill="#f0c0e0"/>
<path d="M1125.7 703.3A145.5 145.5 0 0 1 1121.3 697.6L1133.8 688.5A130 130 0 0 0 1137.7 693.6Z" fill="#a8dcd0"/>
<path d="M1121.4 697.7A145.5 145.5 0 0 1 1093.8 619.6L1109.3 618.8A130 130 0 0 0 1133.9 688.6Z" fill="#7373b8"/>
<path d="M1093.8 619.8A145.5 145.5 0 0 1 1093.6 614.5L1109.1 614.3A130 130 0 0 0 1109.3 619Z" fill="#f0e640"/>
<path d="M1093.6 614.7A145.5 145.5 0 0 1 1093.6 612L1109.1 612A130 130 0 0 0 1109.1 614.5Z" fill="#fdb07a"/>
<circle cx="872.6" cy="264.7" r="114.90" fill="none" stroke="#000" stroke-width="28.00"/>
<path d="M882.6 273.4L915.5 283.8L990.4 317.1A128.9 128.9 0 0 1 940.9 374.0L897.5 304.6ZM862.5 268.6L836.1 287.5L763.3 333.0A128.9 128.9 0 0 1 745.7 287.1L830.3 272.2ZM861.0 243.7L832.6 213.5L793.2 163.1A128.9 128.9 0 0 1 828.5 143.6L850.4 203.6ZM873.7 183.9L872.9 166.3L872.9 135.8A128.9 128.9 0 0 1 879.6 136.0L878.0 166.5ZM878.3 179.2L878.9 164.3L880.6 136.1A128.9 128.9 0 0 1 881.6 136.1L879.6 164.4ZM883.5 185.8L879.8 171.4L882.6 136.2A128.9 128.9 0 0 1 892.7 137.4L887.2 172.2ZM887.7 181.3L888.7 165.6L893.3 137.5A128.9 128.9 0 0 1 903.3 139.5L896.5 167.2ZM899.5 179.3L895.6 174.9L904.6 139.8A128.9 128.9 0 0 1 928.8 148.7L913.0 181.3ZM909.4 194.3L910.7 187.0L929.4 149.0A128.9 128.9 0 0 1 935.9 152.4L915.1 189.3ZM925.6 187.2L924.5 175.0L937.1 153.1A128.9 128.9 0 0 1 949.8 161.5L934.7 181.7ZM926.0 203.1L931.4 187.7L950.9 162.3A128.9 128.9 0 0 1 959.1 169.1L937.6 192.9ZM927.1 206.6L929.9 202.6L960.1 170.0A128.9 128.9 0 0 1 962.1 172.0L931.3 203.9ZM940.6 206.7L945.5 190.0L962.6 172.4A128.9 128.9 0 0 1 973.4 184.3L954.2 199.6ZM937.9 215.1L945.4 207.2L973.8 184.8A128.9 128.9 0 0 1 975.8 187.5L946.8 209.1ZM945.7 215.2L955.5 204.0L976.6 188.5A128.9 128.9 0 0 1 981.4 195.7L959.3 209.7ZM948.3 217.5L953.1 214.3L981.9 196.3A128.9 128.9 0 0 1 982.1 196.7L953.3 214.6ZM951.5 221.5L952.3 215.9L982.5 197.4A128.9 128.9 0 0 1 987.5 206.3L956.0 222.3ZM952.6 228.1L962.1 219.8L987.8 206.9A128.9 128.9 0 0 1 990.9 213.5L964.5 224.9ZM952.7 231.9L957.6 229.0L991.4 214.7A128.9 128.9 0 0 1 992.2 216.5L958.1 230.3ZM952.7 236.0L957.3 231.6L992.7 217.8A128.9 128.9 0 0 1 996.1 227.9L959.8 238.7ZM949.6 243.5L959.9 239.7L996.5 229.2A128.9 128.9 0 0 1 997.2 231.6L960.4 241.4ZM945.0 247.8L961.5 241.6L997.4 232.3A128.9 128.9 0 0 1 999.5 242.1L963.1 248.6ZM942.1 255.1L945.4 252.5L999.7 243.4A128.9 128.9 0 0 1 1000.7 250.7L946.0 256.7ZM957.4 257.0L968.5 254.7L1000.8 251.4A128.9 128.9 0 0 1 1001.3 257.5L968.9 259.3ZM947.4 263.2L962.9 260.2L1001.3 258.2A128.9 128.9 0 0 1 1001.5 264.9L963.0 264.8ZM936.3 268.0L941.7 265.2L1001.5 265.5A128.9 128.9 0 0 1 1001.1 275.1L941.5 270.3ZM952.2 272.6L958.6 272.6L1001.0 276.5A128.9 128.9 0 0 1 1000.7 279.0L958.4 274.3ZM951.5 277.3L961.0 275.5L1000.6 280.3A128.9 128.9 0 0 1 999.0 289.8L960.0 282.0ZM948.4 283.7L958.9 282.8L998.8 291.1A128.9 128.9 0 0 1 996.9 298.8L957.6 288.0ZM951.3 287.5L959.9 289.7L996.5 300.1A128.9 128.9 0 0 1 996.2 301.1L959.7 290.4ZM950.6 291.4L961.3 291.5L996.0 302.0A128.9 128.9 0 0 1 993.1 310.6L959.2 297.7ZM949.7 296.7L965.1 301.1L992.6 311.8A128.9 128.9 0 0 1 990.5 316.8L963.5 304.9ZM898.0 309.1L905.1 317.1L940.6 374.2A128.9 128.9 0 0 1 935.3 377.3L902.6 318.5ZM898.9 323.5L905.8 325.2L934.7 377.7A128.9 128.9 0 0 1 922.7 383.5L899.4 328.3ZM894.7 320.1L899.7 330.9L921.5 384.0A128.9 128.9 0 0 1 918.4 385.2L898.0 331.5ZM889.6 318.9L898.3 334.5L917.1 385.7A128.9 128.9 0 0 1 908.1 388.6L893.1 336.2ZM885.5 321.1L893.2 337.8L907.5 388.8A128.9 128.9 0 0 1 897.9 391.1L887.5 339.2ZM881.8 321.4L887.3 342.3L896.5 391.4A128.9 128.9 0 0 1 886.8 392.8L881.3 343.2ZM875.2 333.5L880.4 342.2L885.5 393.0A128.9 128.9 0 0 1 870.6 393.6L871.4 342.6ZM869.4 335.1L870.7 358.1L869.9 393.6A128.9 128.9 0 0 1 865.4 393.4L867.4 358.0ZM867.3 343.5L867.5 348.8L864.8 393.4A128.9 128.9 0 0 1 862.2 393.2L865.8 348.6ZM864.4 344.0L864.8 349.5L860.8 393.1A128.9 128.9 0 0 1 858.6 392.8L863.3 349.3ZM859.5 352.7L861.3 358.5L857.2 392.7A128.9 128.9 0 0 1 842.9 390.1L850.8 356.6ZM851.1 344.5L850.9 352.3L841.6 389.8A128.9 128.9 0 0 1 829.1 386.0L842.2 349.6ZM847.3 322.9L846.5 336.2L828.5 385.8A128.9 128.9 0 0 1 818.3 381.6L840.5 333.7ZM846.1 318.5L843.7 325.2L817.1 381.0A128.9 128.9 0 0 1 812.6 378.8L841.4 324.0ZM824.2 336.6L824.3 355.3L812.0 378.5A128.9 128.9 0 0 1 785.0 359.2L802.8 340.0ZM811.2 325.2L802.3 339.8L784.5 358.8A128.9 128.9 0 0 1 779.6 354.0L798.4 336.0ZM803.1 317.8L799.8 333.1L778.7 353.0A128.9 128.9 0 0 1 767.6 339.5L791.2 322.7ZM802.6 312.2L795.8 318.2L766.8 338.4A128.9 128.9 0 0 1 763.5 333.3L793.4 314.5ZM809.7 275.2L789.0 279.2L745.6 286.8A128.9 128.9 0 0 1 745.3 285.1L788.9 278.1ZM807.0 271.4L796.6 276.2L745.1 284.0A128.9 128.9 0 0 1 744.0 274.1L795.9 270.3ZM796.3 268.8L779.4 270.5L744.0 272.8A128.9 128.9 0 0 1 743.9 271.2L779.3 269.4ZM793.8 267.0L780.1 268.6L743.8 270.1A128.9 128.9 0 0 1 743.7 267.8L780.0 266.9ZM784.5 260.8L772.4 266.1L743.7 266.5A128.9 128.9 0 0 1 744.3 252.1L772.9 254.9ZM809.9 257.8L786.4 255.8L744.4 251.4A128.9 128.9 0 0 1 744.6 249.2L786.6 254.3ZM813.2 255.1L799.1 255.1L744.8 248.0A128.9 128.9 0 0 1 746.2 239.4L799.9 250.1ZM799.3 247.0L789.9 247.2L746.5 238.0A128.9 128.9 0 0 1 750.5 223.5L792.5 237.7ZM801.3 239.2L797.2 238.4L750.9 222.2A128.9 128.9 0 0 1 752.4 218.2L798.1 235.9ZM797.7 231.8L790.8 232.6L752.6 217.5A128.9 128.9 0 0 1 757.5 206.6L794.2 225.1ZM791.1 216.2L783.6 219.2L757.8 206.0A128.9 128.9 0 0 1 766.1 192.1L790.0 208.4ZM801.6 214.7L788.8 206.6L766.7 191.2A128.9 128.9 0 0 1 767.6 189.9L789.6 205.5ZM813.6 218.5L796.0 209.5L768.0 189.3A128.9 128.9 0 0 1 774.2 181.4L800.5 203.6ZM818.0 216.1L810.6 211.1L775.1 180.4A128.9 128.9 0 0 1 780.5 174.5L814.1 207.4ZM818.3 209.5L806.4 198.5L781.4 173.6A128.9 128.9 0 0 1 783.9 171.2L808.1 196.8ZM832.0 219.2L817.7 205.7L784.8 170.3A128.9 128.9 0 0 1 793.0 163.3L822.8 201.3ZM851.1 204.6L845.3 189.2L828.8 143.5A128.9 128.9 0 0 1 830.0 143.0L846.1 188.9ZM853.6 208.0L851.4 202.6L830.9 142.7A128.9 128.9 0 0 1 832.7 142.1L852.3 202.3ZM849.6 190.8L846.9 183.1L833.9 141.7A128.9 128.9 0 0 1 835.4 141.3L847.9 182.8ZM853.0 187.0L847.4 178.6L836.4 141.0A128.9 128.9 0 0 1 843.9 139.0L852.6 177.3ZM857.0 188.3L854.9 183.2L845.2 138.7A128.9 128.9 0 0 1 849.9 137.8L857.9 182.6ZM865.6 208.5L858.4 182.6L850.6 137.7A128.9 128.9 0 0 1 864.8 136.0L867.5 181.6ZM870.3 205.4L869.3 198.1L866.1 136.0A128.9 128.9 0 0 1 872.3 135.8L872.4 198.0Z" fill="#000"/>
<path d="M873.7 186.4L873.7 183.9M877.8 186.6L878.3 179.2M883.3 187.1L883.5 185.8M873.7 186.4A78.3 78.3 0 0 1 883.3 187.1M873.1 257.7L878.5 186.6M886.8 186.3L887.7 181.3M896.6 188.7L899.5 179.3M886.8 186.3A79.7 79.7 0 0 1 896.6 188.7M874.3 257.9L891.7 187.4M906.5 199.9L909.4 194.3M917.3 199.3L925.6 187.2M924.5 204.9L926.0 203.1M917.3 199.3A79.2 79.2 0 0 1 924.5 204.9M917.3 206.8L921.0 202.0M922.6 211.3L927.1 206.6M906.5 199.9A73.1 73.1 0 0 1 922.6 211.3M876.7 259.0L914.9 205.1M877.9 260.2L940.6 206.7M936.9 215.9L937.9 215.1M942.7 217.2L945.7 215.2M944.4 219.8L948.3 217.5M946.9 224.1L951.5 221.5M942.7 217.2A84.7 84.7 0 0 1 946.9 224.1M941.5 222.6L944.9 220.6M936.9 215.9A80.7 80.7 0 0 1 941.5 222.6M878.4 260.8L939.3 219.2M946.8 230.7L952.6 228.1M948.1 233.8L952.7 231.9M949.4 237.2L952.7 236.0M946.8 230.7A81.6 81.6 0 0 1 949.4 237.2M942.8 236.1L948.2 233.9M945.7 244.6L949.6 243.5M942.8 236.1A75.8 75.8 0 0 1 945.7 244.6M879.2 262.4L944.4 240.3M937.8 249.5L945.0 247.8M938.9 255.6L942.1 255.1M937.8 249.5A66.9 66.9 0 0 1 938.9 255.6M879.5 263.4L938.4 252.5M879.6 264.1L957.4 257.0M879.6 264.6L947.4 263.2M934.1 267.9L936.3 268.0M948.3 272.3L952.2 272.6M947.8 276.7L951.5 277.3M946.4 283.2L948.4 283.7M948.3 272.3A76.1 76.1 0 0 1 946.4 283.2M933.3 275.3L947.6 277.8M945.7 285.8L951.3 287.5M944.6 289.3L950.6 291.4M942.9 293.9L949.7 296.7M945.7 285.8A76.1 76.1 0 0 1 942.9 293.9M930.7 285.1L944.4 289.9M934.1 267.9A61.6 61.6 0 0 1 930.7 285.1M879.5 266.1L933.1 276.6M876.1 270.8L898.0 309.1M893.5 311.4L898.9 323.5M891.5 312.2L894.7 320.1M887.9 313.5L889.6 318.9M893.5 311.4A51.1 51.1 0 0 1 887.9 313.5M875.1 271.2L890.7 312.5M885.0 318.8L885.5 321.1M881.4 319.5L881.8 321.4M874.7 320.2L875.2 333.5M885.0 318.8A55.5 55.5 0 0 1 874.7 320.2M873.5 271.6L879.9 319.7M872.3 271.7L869.4 335.1M867.6 340.1L867.3 343.5M864.8 339.9L864.4 344.0M861.5 339.5L859.5 352.7M867.6 340.1A75.6 75.6 0 0 1 861.5 339.5M865.1 334.2L864.5 339.8M854.4 332.1L851.1 344.5M865.1 334.2A69.9 69.9 0 0 1 854.4 332.1M871.3 271.6L859.7 333.4M851.9 312.3L847.3 322.9M849.6 311.3L846.1 318.5M851.9 312.3A52.0 52.0 0 0 1 849.6 311.3M869.7 271.1L850.7 311.8M868.7 270.5L824.2 336.6M813.2 323.2L811.2 325.2M806.3 315.4L803.1 317.8M803.6 311.5L802.6 312.2M813.2 323.2A83.4 83.4 0 0 1 803.6 311.5M867.2 269.1L808.1 317.6M818.9 273.7L809.7 275.2M809.1 271.2L807.0 271.4M804.3 268.4L796.3 268.8M798.6 266.9L793.8 267.0M798.6 261.5L784.5 260.8M798.6 266.9A74.0 74.0 0 0 1 798.6 261.5M804.2 264.2L798.6 264.2M804.3 268.4A68.4 68.4 0 0 1 804.2 264.2M808.8 266.2L804.2 266.3M809.1 271.2A63.8 63.8 0 0 1 808.8 266.2M818.3 268.1L808.9 268.7M818.9 273.7A54.4 54.4 0 0 1 818.3 268.1M865.6 265.5L818.5 270.9M817.5 258.7L809.9 257.8M817.9 255.8L813.2 255.1M802.6 247.8L799.3 247.0M804.8 240.4L801.3 239.2M802.6 247.8A72.0 72.0 0 0 1 804.8 240.4M819.5 248.8L803.6 244.1M817.5 258.7A55.4 55.4 0 0 1 819.5 248.8M865.7 263.3L818.3 253.7M866.2 261.9L797.7 231.8M803.0 223.3L791.1 216.2M806.4 218.1L801.6 214.7M803.0 223.3A80.9 80.9 0 0 1 806.4 218.1M866.7 260.9L804.7 220.7M818.8 222.6L813.6 218.5M821.6 219.3L818.0 216.1M824.7 216.0L818.3 209.5M818.8 222.6A68.3 68.3 0 0 1 824.7 216.0M834.2 230.4L821.6 219.2M838.3 226.3L832.0 219.2M834.2 230.4A51.5 51.5 0 0 1 838.3 226.3M867.7 259.7L836.2 228.3M853.3 210.7L851.1 204.6M854.4 210.4L853.6 208.0M850.1 192.5L849.6 190.8M854.1 191.4L853.0 187.0M857.4 190.6L857.0 188.3M850.1 192.5A75.6 75.6 0 0 1 857.4 190.6M858.3 209.2L853.8 191.4M853.3 210.7A57.3 57.3 0 0 1 858.3 209.2M870.5 258.0L855.8 209.9M866.6 216.2L865.6 208.5M870.7 215.9L870.3 205.4M866.6 216.2A48.8 48.8 0 0 1 870.7 215.9M872.0 257.7L868.6 216.0M872.6 257.7A7.0 7.0 0 1 1 872.6 257.7M881.5 266.6A9.1 9.1 0 0 1 877.2 272.5M870.6 261.7A3.6 3.6 0 0 1 872.3 261.1M866.2 269.9A8.2 8.2 0 0 1 864.7 262.6M875.0 255.5A9.6 9.6 0 0 1 881.1 260.3M878.5 268.9A7.3 7.3 0 0 1 873.6 271.9" fill="none" stroke="#000" stroke-width="1.00"/>
<path d="M904.3 295.0L952.9 340.4L951.9 341.4ZM918.8 303.3L948.3 327.5L947.8 328.1ZM923.4 299.0L954.5 319.1L953.7 320.3ZM911.7 284.4L958.8 307.6L958.3 308.7ZM915.6 296.6L953.3 323.9L952.6 324.8ZM907.6 291.9L953.3 326.8L952.7 327.5ZM930.6 295.8L966.1 314.1L965.6 315.1ZM902.7 305.6L932.9 345.7L932.1 346.3ZM920.3 301.8L947.9 322.6L947.3 323.4ZM909.0 297.6L943.6 328.2L942.8 329.1ZM924.1 288.5L961.1 305.3L960.8 305.8ZM906.5 284.6L956.8 313.5L956.2 314.5ZM905.5 301.9L942.7 343.3L942.0 344.0ZM923.7 309.0L948.5 329.7L947.6 330.6ZM913.9 309.5L937.3 334.3L936.8 334.7ZM833.9 287.8L778.4 321.6L777.8 320.5ZM836.5 273.6L769.7 290.8L769.4 289.6ZM813.8 279.9L778.6 289.4L778.5 288.7ZM815.7 279.8L767.2 293.2L766.9 292.2ZM835.7 273.1L765.3 289.8L765.0 288.5ZM840.4 279.3L778.4 308.1L778.0 307.0ZM840.7 279.0L782.2 305.9L781.7 304.8ZM815.4 297.2L786.8 313.9L786.4 313.2ZM813.8 297.5L777.3 318.3L776.9 317.6ZM824.0 292.2L777.8 318.7L777.5 318.1ZM834.4 188.8L826.1 173.6L827.1 173.2ZM847.0 206.8L832.0 174.1L833.0 173.7ZM837.9 199.7L824.8 176.6L826.0 176.0ZM830.2 198.3L813.4 172.9L814.1 172.5ZM835.2 214.3L815.1 187.9L815.7 187.4ZM833.7 210.1L813.7 182.9L814.5 182.3ZM837.9 194.1L825.5 169.9L826.3 169.5ZM839.8 198.1L829.3 178.0L830.2 177.5ZM795.3 318.1L777.9 328.7L794.2 316.5ZM921.2 182.5L928.8 171.0L922.2 183.1ZM782.4 274.7L758.5 276.5L782.3 273.4ZM923.5 187.0L935.5 170.7L925.0 188.0ZM951.6 306.2L969.3 316.4L951.0 307.3ZM815.9 186.2L806.4 171.7L817.0 185.5ZM869.7 169.2L870.4 151.6L871.8 169.2ZM911.0 347.3L920.0 368.7L909.8 347.9ZM889.5 361.7L890.9 376.3L887.5 362.1ZM852.0 175.7L848.6 157.4L853.3 175.4ZM952.5 309.1L967.5 319.0L951.4 311.1ZM874.7 358.9L873.6 380.4L872.2 359.0ZM965.8 261.4L987.0 261.3L965.8 262.5ZM833.4 352.5L826.7 365.0L831.8 351.8ZM911.0 345.9L919.5 365.4L910.0 346.3ZM960.0 285.4L983.9 291.9L959.7 286.6ZM803.1 195.1L792.7 182.6L804.9 193.4ZM919.0 180.2L928.6 165.4L920.9 181.3ZM947.5 205.4L959.4 197.3L948.6 206.8ZM815.4 194.9L800.6 175.0L816.8 193.8ZM878.2 166.2L880.2 150.3L880.1 166.3ZM856.3 170.4L854.5 155.4L857.6 170.2ZM786.3 296.4L763.0 304.2L786.0 295.4ZM805.4 192.7L797.5 183.3L806.2 191.9ZM779.0 298.6L767.5 301.9L778.5 297.2ZM907.2 178.2L916.7 156.7L908.5 178.7ZM876.6 360.7L876.3 376.3L875.0 360.7ZM964.8 274.6L985.0 277.4L964.7 275.7ZM875.0 166.5L876.4 151.7L876.8 166.5ZM917.4 354.9L922.6 367.2L916.1 355.6ZM881.0 353.4L881.7 377.4L878.6 353.6ZM809.5 335.9L798.7 347.1L808.7 335.1ZM966.0 251.0L987.2 249.2L966.3 253.1ZM933.5 335.9L946.6 353.1L932.0 337.1ZM967.6 256.6L983.5 256.4L967.7 258.5ZM907.1 175.4L915.3 158.3L909.5 176.3ZM962.4 265.7L988.5 267.6L962.4 268.3ZM809.8 340.4L798.0 352.3L807.9 338.7ZM774.5 270.5L762.0 269.9L774.4 268.0ZM788.4 317.9L778.6 322.8L787.4 316.3ZM968.6 254.1L986.0 253.4L968.8 256.2ZM805.0 190.0L796.5 179.2L806.3 188.9ZM773.4 273.2L763.1 273.2L773.3 271.6ZM801.6 334.1L791.6 343.0L800.9 333.3ZM782.5 306.6L771.1 310.6L781.7 304.6ZM800.1 209.7L783.3 195.8L801.0 208.5ZM847.2 170.0L843.8 154.1L848.6 169.6ZM799.7 202.8L784.6 188.4L801.0 201.3ZM970.3 259.3L985.7 259.5L970.4 261.1ZM871.9 363.7L870.7 380.7L870.1 363.7ZM781.2 280.9L763.3 282.8L780.9 278.8ZM887.7 357.9L889.6 379.1L885.2 358.2ZM863.0 361.6L860.0 376.5L860.4 361.4ZM920.1 182.3L931.3 165.2L921.7 183.3ZM806.3 331.3L789.6 346.6L805.1 330.1ZM789.5 219.0L773.2 208.9L790.3 217.5ZM970.1 262.7L987.5 263.4L970.1 264.5ZM951.4 306.0L973.3 319.3L950.2 308.2ZM889.1 361.6L890.6 373.9L888.0 361.8ZM867.6 173.0L867.5 154.1L869.1 173.0ZM780.7 268.3L756.7 267.7L780.7 265.9ZM954.2 304.0L972.8 314.2L953.4 305.6ZM965.2 292.0L978.0 296.4L964.9 293.0ZM788.9 315.7L776.5 322.5L788.3 314.7ZM773.6 245.7L759.9 242.3L773.8 244.4ZM844.5 176.5L839.4 156.5L846.3 175.9ZM902.9 352.0L909.3 374.2L901.0 352.7ZM917.5 349.8L923.7 364.6L915.3 351.0ZM804.7 192.0L796.3 181.7L805.9 191.0ZM888.6 175.2L893.9 153.4L890.7 175.6Z" fill="#fff"/>
<circle cx="869.4" cy="612.2" r="117.40" fill="none" stroke="#000" stroke-width="28.00"/>
<path d="M893.4 612.2L933.8 603.2L999.5 593.9A131.4 131.4 0 0 1 999.5 630.5L933.8 621.2ZM870.9 628.9L885.8 662.6L910.0 737.2A131.4 131.4 0 0 1 851.1 742.3L862.0 664.7ZM859.8 611.7L829.0 619.3L740.0 635.0A131.4 131.4 0 0 1 743.1 576.0L830.0 600.9ZM879.5 524.9L869.7 511.0L869.7 480.8A131.4 131.4 0 0 1 897.5 483.8L891.1 513.3ZM890.3 525.9L891.6 515.8L898.9 484.2A131.4 131.4 0 0 1 901.9 484.9L893.9 516.3ZM892.8 529.2L893.2 523.0L903.2 485.2A131.4 131.4 0 0 1 905.9 486.0L895.1 523.5ZM898.2 523.8L897.1 518.4L906.6 486.2A131.4 131.4 0 0 1 916.2 489.4L904.3 520.8ZM902.9 527.7L904.0 523.7L917.2 489.8A131.4 131.4 0 0 1 918.3 490.3L904.8 524.0ZM910.0 528.6L906.5 522.0L919.4 490.7A131.4 131.4 0 0 1 930.7 496.0L914.9 525.9ZM905.8 552.6L910.7 534.9L931.3 496.3A131.4 131.4 0 0 1 939.9 501.3L916.4 538.3ZM910.0 551.4L913.1 545.1L941.1 502.1A131.4 131.4 0 0 1 945.2 504.8L915.6 546.8ZM911.2 556.6L917.5 545.5L946.3 505.6A131.4 131.4 0 0 1 949.0 507.7L919.2 546.8ZM929.8 542.1L935.3 526.6L949.6 508.1A131.4 131.4 0 0 1 968.0 525.3L950.5 540.8ZM930.8 559.9L936.4 554.4L968.9 526.4A131.4 131.4 0 0 1 971.1 529.0L937.9 556.2ZM934.8 560.8L938.1 557.2L972.0 530.1A131.4 131.4 0 0 1 973.6 532.2L939.2 558.6ZM936.1 565.1L939.0 559.3L974.0 532.7A131.4 131.4 0 0 1 982.3 545.1L944.6 567.5ZM938.7 572.5L943.9 568.7L982.9 546.0A131.4 131.4 0 0 1 983.7 547.4L944.4 569.6ZM920.9 586.9L933.1 576.9L984.4 548.6A131.4 131.4 0 0 1 988.4 556.5L935.3 581.3ZM941.9 579.9L955.5 572.4L988.7 557.1A131.4 131.4 0 0 1 989.7 559.3L956.3 574.0ZM954.0 582.8L958.3 574.2L990.2 560.5A131.4 131.4 0 0 1 996.0 576.9L962.5 586.2ZM950.2 591.5L955.5 588.7L996.2 577.6A131.4 131.4 0 0 1 997.4 582.7L956.3 592.2ZM951.4 596.1L960.7 592.2L997.8 584.1A131.4 131.4 0 0 1 999.5 593.6L961.9 599.0ZM933.3 623.6L942.0 622.6L999.5 630.8A131.4 131.4 0 0 1 998.4 637.3L941.4 626.2ZM947.3 630.3L954.5 629.7L998.1 638.7A131.4 131.4 0 0 1 995.9 647.8L953.0 635.7ZM947.9 640.7L967.6 640.9L995.5 649.1A131.4 131.4 0 0 1 992.1 659.1L965.0 648.7ZM914.7 631.3L920.4 632.0L991.9 659.8A131.4 131.4 0 0 1 985.3 674.1L917.7 638.0ZM941.2 651.8L949.2 655.4L985.0 674.7A131.4 131.4 0 0 1 982.6 679.0L947.5 658.3ZM941.4 659.5L945.9 658.4L981.9 680.2A131.4 131.4 0 0 1 977.6 686.8L943.0 663.0ZM936.5 660.2L946.2 666.2L976.9 687.8A131.4 131.4 0 0 1 975.6 689.5L945.3 667.5ZM929.2 657.0L934.2 659.9L975.2 690.1A131.4 131.4 0 0 1 972.1 694.1L932.4 662.4ZM930.9 669.3L944.8 673.7L971.3 695.2A131.4 131.4 0 0 1 961.4 706.0L937.5 681.7ZM922.0 672.8L928.4 673.7L960.4 707.0A131.4 131.4 0 0 1 950.3 715.7L921.9 679.4ZM914.5 676.4L929.9 690.4L949.8 716.1A131.4 131.4 0 0 1 939.0 723.6L921.8 696.1ZM904.5 673.4L912.5 682.8L937.8 724.4A131.4 131.4 0 0 1 933.6 726.8L909.9 684.4ZM900.8 670.2L905.3 677.8L932.5 727.4A131.4 131.4 0 0 1 930.5 728.5L904.2 678.4ZM905.0 694.5L913.5 697.2L929.9 728.8A131.4 131.4 0 0 1 910.3 737.1L899.2 703.2ZM858.9 684.6L858.4 689.1L850.8 742.3A131.4 131.4 0 0 1 849.9 742.2L857.9 689.0ZM852.2 687.0L854.3 708.7L849.0 742.0A131.4 131.4 0 0 1 833.6 738.6L842.8 706.2ZM849.1 677.6L846.0 691.8L832.3 738.2A131.4 131.4 0 0 1 829.8 737.5L844.4 691.3ZM836.9 695.9L837.4 711.8L829.2 737.3A131.4 131.4 0 0 1 800.1 723.8L814.2 701.1ZM834.9 664.5L824.4 683.9L799.5 723.5A131.4 131.4 0 0 1 792.6 718.8L819.9 680.9ZM823.4 669.2L821.3 677.6L791.5 718.0A131.4 131.4 0 0 1 783.6 711.7L816.4 673.7ZM821.3 665.1L818.0 670.6L782.6 710.8A131.4 131.4 0 0 1 780.7 709.1L816.9 669.6ZM819.0 664.5L814.1 671.3L779.7 708.2A131.4 131.4 0 0 1 774.6 703.1L811.0 668.2ZM830.7 644.5L816.4 662.5L774.1 702.6A131.4 131.4 0 0 1 764.2 691.0L810.9 656.0ZM800.0 661.4L788.1 672.4L763.8 690.4A131.4 131.4 0 0 1 757.9 681.7L783.6 665.7ZM793.6 650.7L788.8 661.3L757.2 680.6A131.4 131.4 0 0 1 750.5 668.0L783.9 652.3ZM790.9 644.3L778.7 653.6L749.9 666.8A131.4 131.4 0 0 1 746.7 659.3L776.3 648.0ZM819.3 630.9L803.7 637.0L746.5 658.6A131.4 131.4 0 0 1 745.8 656.7L803.3 636.0ZM812.3 631.5L805.9 634.4L745.4 655.5A131.4 131.4 0 0 1 743.9 651.0L805.1 632.1ZM803.6 630.7L792.7 635.0L743.5 649.7A131.4 131.4 0 0 1 741.7 643.2L791.7 631.1ZM807.3 624.8L796.3 629.1L741.4 641.8A131.4 131.4 0 0 1 740.1 635.4L795.5 625.4ZM796.3 586.0L788.0 588.6L743.2 575.7A131.4 131.4 0 0 1 748.1 561.6L791.1 579.6ZM800.3 582.3L783.9 575.8L748.5 560.7A131.4 131.4 0 0 1 748.9 559.7L784.2 575.1ZM797.7 577.7L787.6 575.8L749.4 558.8A131.4 131.4 0 0 1 753.5 550.2L790.5 570.0ZM797.7 572.9L780.2 563.9L753.9 549.6A131.4 131.4 0 0 1 754.5 548.4L780.7 563.0ZM801.1 569.2L790.9 567.8L755.0 547.5A131.4 131.4 0 0 1 762.3 536.1L795.9 559.9ZM802.4 563.3L796.6 559.7L762.8 535.3A131.4 131.4 0 0 1 763.5 534.5L797.0 559.1ZM809.9 565.5L799.3 559.6L764.3 533.4A131.4 131.4 0 0 1 767.7 528.9L801.6 556.7ZM829.6 578.2L825.8 576.1L768.2 528.4A131.4 131.4 0 0 1 770.2 526.0L826.7 575.1ZM832.9 579.3L815.7 564.7L771.0 525.1A131.4 131.4 0 0 1 772.1 523.9L816.3 564.0ZM815.3 561.8L810.2 557.5L772.9 523.0A131.4 131.4 0 0 1 773.6 522.2L810.7 557.0ZM812.7 554.8L802.9 548.8L774.3 521.5A131.4 131.4 0 0 1 785.1 511.4L810.5 541.7ZM812.1 542.0L807.4 537.3L785.6 511.0A131.4 131.4 0 0 1 787.3 509.6L808.6 536.3ZM815.9 541.4L810.9 537.7L788.2 508.9A131.4 131.4 0 0 1 791.7 506.2L813.4 535.8ZM819.9 538.7L812.7 533.2L792.8 505.4A131.4 131.4 0 0 1 803.8 498.4L820.8 528.0ZM832.8 547.3L827.6 538.8L804.4 498.0A131.4 131.4 0 0 1 806.2 497.0L828.8 538.1ZM836.2 546.5L831.4 541.4L807.3 496.4A131.4 131.4 0 0 1 814.6 492.8L835.9 539.2ZM841.2 545.1L833.0 530.6L815.8 492.2A131.4 131.4 0 0 1 824.2 488.8L838.6 528.3ZM848.6 552.9L841.3 533.7L825.1 488.5A131.4 131.4 0 0 1 826.3 488.1L842.1 533.4ZM848.7 526.3L837.5 518.6L827.0 487.8A131.4 131.4 0 0 1 842.1 483.7L848.8 515.5ZM854.7 533.4L852.8 530.0L843.4 483.4A131.4 131.4 0 0 1 848.3 482.5L855.9 529.4ZM861.8 545.0L856.9 530.1L849.6 482.3A131.4 131.4 0 0 1 855.9 481.5L860.8 529.6ZM867.2 531.3L861.1 528.2L856.5 481.4A131.4 131.4 0 0 1 869.1 480.8L869.2 527.8Z" fill="#000"/>
<path d="M879.1 528.4L879.5 524.9M889.3 530.3L890.3 525.9M892.3 531.1L892.8 529.2M879.1 528.4A84.3 84.3 0 0 1 892.3 531.1M870.8 605.3L885.8 529.5M896.2 530.1L898.2 523.8M901.2 532.0L902.9 527.7M907.1 534.5L910.0 528.6M896.2 530.1A86.3 86.3 0 0 1 907.1 534.5M872.0 605.7L901.7 532.1M904.0 555.6L905.8 552.6M906.2 557.1L910.0 551.4M909.2 559.2L911.2 556.6M904.0 555.6A66.3 66.3 0 0 1 909.2 559.2M873.3 606.4L906.6 557.3M919.4 554.2L929.8 542.1M927.6 562.5L930.8 559.9M929.6 564.9L934.8 560.8M919.4 554.2A76.6 76.6 0 0 1 929.6 564.9M874.5 607.4L924.7 559.3M928.6 570.4L936.1 565.1M932.3 576.1L938.7 572.5M928.6 570.4A72.5 72.5 0 0 1 932.3 576.1M910.3 586.1L930.5 573.2M912.9 590.8L920.9 586.9M910.3 586.1A48.5 48.5 0 0 1 912.9 590.8M875.5 608.8L911.7 588.4M936.4 582.3L941.9 579.9M938.7 588.1L954.0 582.8M936.4 582.3A73.4 73.4 0 0 1 938.7 588.1M875.9 609.6L937.6 585.2M945.0 592.8L950.2 591.5M946.0 597.2L951.4 596.1M945.0 592.8A78.1 78.1 0 0 1 946.0 597.2M876.2 610.7L945.6 595.0M922.3 621.7L933.3 623.6M943.1 629.3L947.3 630.3M940.5 638.0L947.9 640.7M943.1 629.3A75.6 75.6 0 0 1 940.5 638.0M920.9 627.4L941.9 633.7M922.3 621.7A53.7 53.7 0 0 1 920.9 627.4M876.2 613.8L921.7 624.6M875.8 614.9L914.7 631.3M938.5 650.3L941.2 651.8M935.3 655.6L941.4 659.5M933.6 658.1L936.5 660.2M938.5 650.3A78.9 78.9 0 0 1 933.6 658.1M875.3 615.9L936.2 654.3M923.8 652.9L929.2 657.0M922.9 661.8L930.9 669.3M917.3 667.3L922.0 672.8M922.9 661.8A73.0 73.0 0 0 1 917.3 667.3M916.7 661.0L920.2 664.7M923.8 652.9A68.0 68.0 0 0 1 916.7 661.0M874.7 616.8L920.4 657.1M903.8 661.3L914.5 676.4M899.2 664.2L904.5 673.4M897.9 664.9L900.8 670.2M903.8 661.3A59.9 59.9 0 0 1 897.9 664.9M873.1 618.2L900.9 663.2M872.2 618.6L905.0 694.5M860.2 675.8L858.9 684.6M855.0 674.8L852.2 687.0M860.2 675.8A64.2 64.2 0 0 1 855.0 674.8M858.8 668.7L857.6 675.3M852.4 667.1L849.1 677.6M858.8 668.7A57.5 57.5 0 0 1 852.4 667.1M867.7 619.0L855.6 668.0M866.9 618.7L836.9 695.9M837.1 661.2L834.9 664.5M828.6 662.7L823.4 669.2M825.7 660.3L821.3 665.1M824.3 659.0L819.0 664.5M828.6 662.7A64.9 64.9 0 0 1 824.3 659.0M830.6 656.2L826.4 660.9M837.1 661.2A58.6 58.6 0 0 1 830.6 656.2M865.1 617.8L833.8 658.8M864.0 616.7L830.7 644.5M806.6 656.8L800.0 661.4M800.7 647.1L793.6 650.7M798.1 641.4L790.9 644.3M806.6 656.8A77.0 77.0 0 0 1 798.1 641.4M863.3 615.6L801.9 649.3M825.2 628.7L819.3 630.9M814.5 630.8L812.3 631.5M813.6 627.9L803.6 630.7M812.6 623.7L807.3 624.8M814.5 630.8A57.9 57.9 0 0 1 812.6 623.7M823.8 624.5L813.5 627.3M825.2 628.7A47.2 47.2 0 0 1 823.8 624.5M862.7 614.3L824.4 626.6M800.3 587.4L796.3 586.0M802.0 583.0L800.3 582.3M803.2 580.4L797.7 577.7M800.3 587.4A73.5 73.5 0 0 1 803.2 580.4M862.9 609.5L801.6 583.8M802.6 575.6L797.7 572.9M805.0 571.7L801.1 569.2M807.9 567.3L802.4 563.3M802.6 575.6A76.1 76.1 0 0 1 807.9 567.3M809.9 574.4L805.1 571.4M814.0 568.6L809.9 565.5M809.9 574.4A70.5 70.5 0 0 1 814.0 568.6M863.7 608.2L811.9 571.5M834.4 582.3L829.6 578.2M835.2 581.4L832.9 579.3M821.0 567.1L815.3 561.8M822.9 565.1L812.7 554.8M821.0 567.1A66.2 66.2 0 0 1 822.9 565.1M836.4 580.2L821.9 566.1M834.4 582.3A46.0 46.0 0 0 1 836.4 580.2M864.2 607.5L835.4 581.2M814.8 545.4L812.1 542.0M817.4 543.3L815.9 541.4M821.2 540.6L819.9 538.7M814.8 545.4A86.3 86.3 0 0 1 821.2 540.6M865.2 606.6L817.9 542.9M837.6 555.9L832.8 547.3M840.3 554.5L836.2 546.5M844.4 552.6L841.2 545.1M837.6 555.9A64.7 64.7 0 0 1 844.4 552.6M846.1 564.6L840.9 554.1M851.9 562.2L848.6 552.9M846.1 564.6A53.0 53.0 0 0 1 851.9 562.2M866.7 605.7L848.9 563.3M851.7 538.5L848.7 526.3M855.5 537.7L854.7 533.4M851.7 538.5A75.8 75.8 0 0 1 855.5 537.7M857.3 555.5L853.6 538.0M862.9 554.6L861.8 545.0M857.3 555.5A57.9 57.9 0 0 1 862.9 554.6M868.3 605.3L860.1 555.0M869.2 605.2L867.2 531.3M869.4 605.2A7.0 7.0 0 1 1 869.4 605.2M874.1 617.0A6.8 6.8 0 0 1 869.4 619.0M874.6 608.8A6.2 6.2 0 0 1 875.6 612.2M872.2 604.6A8.1 8.1 0 0 1 877.0 609.5M867.2 604.8A7.7 7.7 0 0 1 873.8 605.9M865.5 614.6A4.5 4.5 0 0 1 864.9 612.1" fill="none" stroke="#000" stroke-width="1.00"/>
<path d="M946.8 617.6L973.1 619.0L973.1 619.8ZM958.2 616.3L973.6 616.4L973.5 617.7ZM942.3 603.3L969.2 599.5L969.3 600.5ZM954.3 614.7L975.1 614.6L975.1 615.9ZM928.8 609.5L974.1 606.9L974.2 608.0ZM925.6 615.3L970.6 617.3L970.6 618.1ZM954.6 611.6L971.1 611.1L971.1 611.8ZM863.1 685.3L860.2 721.5L859.6 721.5ZM878.8 660.5L891.1 722.1L890.4 722.3ZM881.9 661.3L897.0 718.7L896.2 718.9ZM862.8 665.6L856.5 719.2L855.7 719.1ZM882.4 684.3L889.9 723.7L889.1 723.8ZM876.3 656.7L885.2 711.5L884.3 711.6ZM874.3 675.1L877.8 714.8L877.1 714.9ZM872.9 667.3L876.6 714.9L875.2 715.0ZM871.5 655.7L875.6 724.7L874.3 724.8ZM879.8 688.8L883.4 710.3L882.1 710.5ZM886.2 683.5L894.9 717.4L893.6 717.7ZM815.5 614.0L757.0 616.4L757.0 615.7ZM819.1 616.5L770.2 621.0L770.2 620.3ZM826.8 619.0L763.0 629.8L762.9 628.8ZM837.6 609.1L770.8 603.1L770.9 602.0ZM838.1 615.3L771.5 622.3L771.4 621.2ZM822.6 600.1L774.9 588.2L775.1 587.4ZM811.2 604.5L769.5 599.5L769.6 598.5ZM820.1 619.7L761.2 629.1L761.1 628.1ZM830.8 605.3L762.9 593.7L763.1 592.7ZM836.0 608.9L765.2 602.6L765.3 601.5ZM819.1 615.4L771.9 618.9L771.9 617.9ZM905.7 706.5L909.9 720.4L903.9 707.2ZM967.1 630.7L979.2 634.2L966.7 632.7ZM789.8 562.6L773.7 551.0L790.9 560.8ZM871.7 712.4L871.4 727.1L870.5 712.4ZM883.3 511.5L886.1 500.2L885.5 511.8ZM856.7 510.2L856.0 494.2L859.0 509.9ZM907.1 696.9L916.6 720.2L906.0 697.4ZM926.1 529.0L934.5 518.1L927.3 529.8ZM945.4 680.3L951.8 687.7L943.8 682.0ZM966.1 584.4L980.6 581.2L966.5 585.9ZM928.6 690.4L937.0 703.2L927.1 691.4ZM958.5 647.1L976.6 654.9L958.2 648.1ZM967.5 644.4L977.6 649.0L966.8 646.5ZM833.4 708.6L827.8 720.7L831.7 708.0ZM963.5 644.9L980.4 652.2L962.7 647.1ZM912.0 521.0L920.5 504.6L913.2 521.6ZM964.3 629.8L980.6 633.7L964.0 631.2ZM771.7 629.6L757.5 631.3L771.4 628.2ZM773.1 633.0L759.4 634.4L772.6 630.5ZM905.3 517.1L910.9 505.8L907.4 517.9ZM782.0 643.6L757.6 651.6L781.6 642.5ZM926.8 538.3L940.4 523.0L928.5 539.7ZM827.7 698.2L819.6 712.9L826.4 697.5ZM787.9 549.7L780.7 542.9L789.0 548.2ZM853.8 713.3L851.2 725.7L852.7 713.1ZM836.8 705.2L830.6 718.4L834.4 704.3ZM778.3 599.1L755.0 594.4L778.7 597.0ZM945.9 674.9L956.1 684.7L944.7 676.4ZM930.6 681.4L943.3 698.0L928.7 683.0ZM968.3 596.3L983.1 595.4L968.7 598.8ZM955.8 576.1L972.8 570.4L956.6 578.1ZM920.4 535.4L933.2 517.9L921.6 536.3ZM781.9 584.0L756.7 574.9L782.4 582.6ZM912.9 697.1L919.5 713.0L910.9 698.1ZM817.5 700.9L812.2 708.8L816.6 700.4ZM852.5 707.3L847.7 729.3L851.2 707.0ZM829.0 522.2L823.4 507.7L830.3 521.6ZM806.4 690.0L794.7 702.6L804.8 688.7ZM848.1 520.5L844.3 501.2L849.2 520.2ZM839.7 700.2L831.7 721.8L838.7 699.9ZM799.2 678.1L785.1 689.6L797.7 676.5ZM901.4 703.4L907.3 723.0L900.0 703.8ZM964.9 593.4L982.1 591.3L965.3 595.5ZM931.0 680.1L946.9 699.1L929.8 681.2ZM790.3 659.8L770.4 670.0L789.0 657.7ZM914.1 693.1L924.7 715.2L912.1 694.2ZM800.0 545.1L788.6 532.4L801.4 543.7ZM963.4 615.4L984.4 617.1L963.4 617.0ZM958.5 577.5L973.9 572.2L958.9 578.5ZM906.7 523.7L915.3 506.6L908.7 524.5ZM920.6 523.8L929.6 509.7L921.6 524.5ZM769.7 618.1L753.9 618.2L769.6 616.7ZM929.2 694.6L936.0 706.3L927.1 696.0ZM826.9 522.1L822.7 510.9L828.5 521.4ZM903.6 520.6L912.3 501.5L905.8 521.4ZM904.6 515.4L911.1 500.4L906.1 516.0ZM802.8 690.4L792.0 701.9L801.7 689.5ZM956.0 580.4L978.6 573.6L956.8 582.6ZM876.1 514.4L878.2 495.2L877.5 514.5ZM911.7 696.7L919.6 714.9L910.2 697.5ZM900.6 708.9L904.2 723.9L898.7 709.5ZM778.2 618.8L758.0 619.5L778.1 617.5ZM919.3 529.7L931.8 511.8L921.3 530.9ZM895.2 515.8L901.5 497.5L897.5 516.5ZM800.1 688.3L793.3 694.7L799.2 687.5ZM971.3 613.4L984.2 615.0L971.2 615.9ZM778.0 633.7L758.8 636.8L777.5 631.5ZM782.0 654.4L767.4 660.5L781.4 653.1ZM957.9 559.5L972.3 552.3L958.9 561.2ZM852.1 514.4L850.3 500.0L853.5 514.1Z" fill="#fff"/>
<circle cx="1239.3" cy="264.6" r="121.00" fill="none" stroke="#000" stroke-width="9.00"/>
<path d="M1239.3 261.6L1204.7 144.0A125.5 125.5 0 0 1 1243.7 139.2ZM1245.5 151.0L1244.5 150.1L1245.0 139.2A125.5 125.5 0 0 1 1247.0 139.3L1246.3 150.2ZM1253.4 148.9L1247.0 146.3L1247.5 139.4A125.5 125.5 0 0 1 1256.3 140.3L1255.3 147.2ZM1257.7 149.1L1255.9 146.5L1256.8 140.3A125.5 125.5 0 0 1 1259.9 140.8L1258.8 147.0ZM1264.0 153.0L1258.9 149.6L1260.4 140.9A125.5 125.5 0 0 1 1269.2 142.7L1267.1 151.3ZM1270.4 161.8L1265.8 158.5L1269.7 142.8A125.5 125.5 0 0 1 1278.1 145.2L1273.1 160.6ZM1276.9 158.0L1275.2 155.4L1278.6 145.4A125.5 125.5 0 0 1 1281.9 146.6L1278.4 156.5ZM1279.1 163.2L1278.3 158.2L1282.4 146.7A125.5 125.5 0 0 1 1287.6 148.7L1282.9 160.0ZM1287.2 159.8L1285.1 155.8L1288.0 149.0A125.5 125.5 0 0 1 1292.3 150.8L1289.1 157.6ZM1290.1 161.6L1288.5 160.2L1292.7 151.0A125.5 125.5 0 0 1 1297.0 153.1L1292.3 162.1ZM1294.5 162.3L1294.4 159.2L1297.4 153.4A125.5 125.5 0 0 1 1304.0 157.0L1300.6 162.7ZM1300.0 169.2L1298.3 167.4L1304.4 157.3A125.5 125.5 0 0 1 1311.0 161.6L1304.2 171.3ZM1305.4 171.8L1305.6 170.1L1311.4 161.9A125.5 125.5 0 0 1 1314.3 164.0L1308.2 172.1ZM1304.8 179.8L1304.5 177.8L1314.7 164.3A125.5 125.5 0 0 1 1319.2 167.8L1308.4 180.9ZM1312.7 178.5L1313.7 175.2L1319.6 168.1A125.5 125.5 0 0 1 1324.6 172.6L1318.4 179.3ZM1317.8 183.5L1318.3 180.2L1325.0 172.9A125.5 125.5 0 0 1 1329.4 177.2L1322.3 184.1ZM1316.7 191.2L1318.2 188.6L1329.7 177.6A125.5 125.5 0 0 1 1331.5 179.4L1319.8 190.3ZM1326.1 188.6L1324.5 186.6L1331.8 179.8A125.5 125.5 0 0 1 1334.9 183.3L1327.3 189.7ZM1329.3 190.5L1328.7 189.1L1335.2 183.7A125.5 125.5 0 0 1 1338.6 187.8L1331.9 193.0ZM1329.6 197.7L1329.7 195.2L1338.9 188.2A125.5 125.5 0 0 1 1343.8 195.1L1334.2 201.5ZM1331.5 207.7L1331.3 204.0L1344.1 195.6A125.5 125.5 0 0 1 1348.2 202.2L1334.8 209.8ZM1336.6 212.0L1337.4 208.9L1348.4 202.6A125.5 125.5 0 0 1 1351.6 208.5L1340.2 214.2ZM1341.5 215.8L1342.5 213.5L1351.8 209.0A125.5 125.5 0 0 1 1353.4 212.4L1344.0 216.7ZM1340.1 222.5L1339.2 219.4L1353.6 212.8A125.5 125.5 0 0 1 1356.9 220.8L1342.0 226.3ZM1344.0 227.7L1344.2 226.0L1357.1 221.3A125.5 125.5 0 0 1 1358.2 224.5L1345.2 228.9ZM1343.8 231.9L1345.4 229.3L1358.4 225.0A125.5 125.5 0 0 1 1359.6 228.9L1346.5 232.8ZM1348.0 233.8L1350.7 232.1L1359.8 229.5A125.5 125.5 0 0 1 1360.5 232.2L1351.4 234.6ZM1344.3 241.0L1345.2 236.8L1360.7 232.7A125.5 125.5 0 0 1 1362.1 238.6L1346.4 241.9ZM1346.5 245.0L1350.6 241.5L1362.2 239.1A125.5 125.5 0 0 1 1363.5 246.5L1351.8 248.2ZM1352.4 253.4L1355.3 248.2L1363.6 247.0A125.5 125.5 0 0 1 1364.3 253.9L1356.0 254.6ZM1350.3 260.2L1350.2 255.5L1364.4 254.4A125.5 125.5 0 0 1 1364.8 262.1L1350.6 262.4ZM1183.5 327.1L1182.7 334.2L1160.1 362.0A125.5 125.5 0 0 1 1154.0 356.7L1178.4 330.4ZM1181.3 324.9L1176.0 331.7L1153.2 355.9A125.5 125.5 0 0 1 1150.6 353.4L1174.1 329.9ZM1173.1 329.3L1165.4 337.3L1149.9 352.6A125.5 125.5 0 0 1 1149.0 351.7L1164.7 336.6ZM1168.0 328.5L1168.7 331.8L1148.4 351.1A125.5 125.5 0 0 1 1143.0 345.0L1164.5 327.0ZM1163.7 326.2L1157.8 331.6L1142.4 344.3A125.5 125.5 0 0 1 1141.6 343.4L1157.2 330.8ZM1163.8 324.4L1157.9 329.6L1141.3 342.9A125.5 125.5 0 0 1 1140.8 342.3L1157.5 329.1ZM1173.3 314.4L1167.8 320.6L1140.4 341.9A125.5 125.5 0 0 1 1138.4 339.2L1166.3 318.6ZM1169.7 313.0L1160.4 321.8L1137.7 338.3A125.5 125.5 0 0 1 1132.7 330.8L1156.5 316.0ZM1167.2 308.9L1163.6 311.2L1132.4 330.4A125.5 125.5 0 0 1 1132.1 329.9L1163.4 310.8ZM1155.9 314.1L1151.6 317.3L1131.7 329.3A125.5 125.5 0 0 1 1130.4 327.0L1150.5 315.5ZM1156.2 307.3L1151.2 314.1L1129.9 326.1A125.5 125.5 0 0 1 1126.5 319.7L1148.5 309.0ZM1153.7 304.5L1150.5 307.0L1126.1 318.7A125.5 125.5 0 0 1 1125.1 316.7L1149.7 305.5ZM1158.9 298.5L1154.6 302.8L1124.9 316.2A125.5 125.5 0 0 1 1123.1 312.1L1153.3 299.8ZM1157.9 296.8L1149.2 300.7L1122.8 311.3A125.5 125.5 0 0 1 1122.4 310.3L1148.9 300.0ZM1146.6 295.5L1146.0 300.3L1122.1 309.5A125.5 125.5 0 0 1 1117.2 293.5L1142.1 287.6ZM1144.4 281.0L1138.7 288.0L1117.1 293.0A125.5 125.5 0 0 1 1114.1 273.3L1136.3 271.8ZM1146.3 268.3L1137.4 271.3L1114.1 272.8A125.5 125.5 0 0 1 1113.8 266.3L1137.2 266.0ZM1144.7 262.1L1136.4 265.1L1113.8 265.2A125.5 125.5 0 0 1 1113.9 259.2L1136.5 260.2ZM1144.9 258.8L1141.3 259.5L1114.0 258.1A125.5 125.5 0 0 1 1114.3 253.8L1141.5 256.2ZM1148.0 255.8L1142.7 255.6L1114.3 253.0A125.5 125.5 0 0 1 1114.5 251.8L1142.8 254.7ZM1144.4 250.5L1138.9 253.9L1114.5 251.3A125.5 125.5 0 0 1 1115.8 242.3L1140.0 246.7ZM1145.6 246.7L1140.3 246.1L1115.9 241.5A125.5 125.5 0 0 1 1116.1 240.8L1140.5 245.5ZM1144.9 243.6L1136.1 244.0L1116.2 240.0A125.5 125.5 0 0 1 1117.0 236.3L1136.8 240.9ZM1161.0 245.2L1146.4 242.7L1117.1 235.8A125.5 125.5 0 0 1 1117.6 233.8L1146.7 241.2ZM1150.9 240.1L1147.3 240.5L1117.9 232.7A125.5 125.5 0 0 1 1118.9 229.1L1148.0 237.7ZM1153.6 235.7L1148.2 236.9L1119.2 228.1A125.5 125.5 0 0 1 1121.4 221.6L1149.9 232.0ZM1157.0 233.9L1150.3 231.6L1121.6 220.9A125.5 125.5 0 0 1 1121.8 220.5L1150.5 231.2ZM1159.6 234.1L1156.9 233.4L1121.9 220.2A125.5 125.5 0 0 1 1122.1 219.6L1157.1 233.0ZM1160.4 233.5L1157.8 232.9L1122.3 219.1A125.5 125.5 0 0 1 1123.1 217.3L1158.3 231.6ZM1153.2 223.1L1149.5 227.2L1123.4 216.3A125.5 125.5 0 0 1 1130.1 202.8L1154.7 216.7ZM1157.8 216.6L1155.1 216.0L1130.6 201.8A125.5 125.5 0 0 1 1132.8 198.2L1156.8 213.2ZM1165.9 214.8L1160.6 214.5L1133.4 197.3A125.5 125.5 0 0 1 1136.6 192.4L1163.0 210.9ZM1176.5 218.8L1168.9 214.7L1136.9 192.0A125.5 125.5 0 0 1 1141.6 185.8L1172.1 210.4ZM1175.1 207.5L1167.5 206.3L1141.9 185.4A125.5 125.5 0 0 1 1146.9 179.7L1171.2 202.0ZM1173.9 198.2L1165.3 196.0L1147.2 179.3A125.5 125.5 0 0 1 1153.6 172.9L1170.4 190.9ZM1176.1 187.6L1166.3 185.1L1154.4 172.2A125.5 125.5 0 0 1 1161.8 165.9L1172.6 179.7ZM1179.9 185.7L1174.4 180.4L1162.7 165.2A125.5 125.5 0 0 1 1164.6 163.8L1176.0 179.2ZM1195.5 200.9L1187.6 194.2L1165.0 163.5A125.5 125.5 0 0 1 1172.6 158.3L1192.9 190.6ZM1207.3 322.3L1209.6 346.2L1196.4 382.5A125.5 125.5 0 0 1 1162.0 363.5L1185.8 333.0ZM1286.3 348.0L1287.0 347.7L1301.8 373.4A125.5 125.5 0 0 1 1297.4 375.8L1283.7 349.5ZM1276.5 349.2L1286.1 355.2L1296.9 376.1A125.5 125.5 0 0 1 1282.0 382.6L1274.0 360.5ZM1267.5 352.9L1273.6 360.7L1281.5 382.8A125.5 125.5 0 0 1 1267.2 387.0L1262.0 364.1ZM1252.6 354.0L1259.4 354.4L1266.7 387.1A125.5 125.5 0 0 1 1252.6 389.4L1249.0 356.1ZM1242.4 354.0L1248.5 354.8L1252.1 389.4A125.5 125.5 0 0 1 1239.0 390.1L1239.1 355.3ZM1231.7 359.0L1238.7 362.8L1238.5 390.1A125.5 125.5 0 0 1 1223.6 389.1L1227.0 362.0ZM1223.1 349.1L1227.0 358.5L1223.0 389.0A125.5 125.5 0 0 1 1208.9 386.4L1216.4 356.4ZM1214.4 346.0L1215.9 356.5L1208.4 386.2A125.5 125.5 0 0 1 1200.8 384.0L1210.2 354.8ZM1293.7 316.2L1320.4 309.5L1349.1 325.4A125.5 125.5 0 0 1 1305.8 371.0L1288.4 343.2ZM1340.2 267.4L1342.8 265.7L1364.8 266.0A125.5 125.5 0 0 1 1364.3 275.6L1342.4 273.6ZM1342.9 279.6L1345.9 274.4L1364.3 276.1A125.5 125.5 0 0 1 1363.0 285.7L1344.8 282.6ZM1345.2 286.2L1351.1 284.1L1362.9 286.2A125.5 125.5 0 0 1 1360.7 296.3L1349.1 293.3ZM1341.2 296.9L1346.1 293.0L1360.6 296.8A125.5 125.5 0 0 1 1357.0 308.1L1342.9 302.9ZM1341.2 305.3L1344.2 303.9L1356.8 308.6A125.5 125.5 0 0 1 1355.3 312.5L1342.8 307.4ZM1331.7 308.9L1341.2 307.2L1355.1 313.0A125.5 125.5 0 0 1 1350.2 323.3L1336.9 316.2ZM1364.8 264.6A125.5 125.5 0 0 1 1350.1 323.5L1330.7 313.2A103.5 103.5 0 0 0 1342.8 264.6ZM1350.1 323.5A125.5 125.5 0 0 1 1302 373.3L1290 352.5A101.5 101.5 0 0 0 1328.9 312.3ZM1302 373.3A125.5 125.5 0 0 1 1196.4 382.5L1203.2 363.7A105.5 105.5 0 0 0 1292 356ZM1196.4 382.5A125.5 125.5 0 0 1 1176.5 155.9L1188.5 176.7A101.5 101.5 0 0 0 1204.6 360ZM1176.5 155.9A125.5 125.5 0 0 1 1243.7 139.2L1243 159.2A105.5 105.5 0 0 0 1186.5 173.2Z" fill="#000"/>
<path d="M1239.4 262.6L1245.5 151.0M1239.5 262.6L1253.4 148.9M1239.6 262.6L1257.7 149.1M1239.7 262.6L1264.0 153.0M1239.9 262.7L1270.4 161.8M1240.0 262.7L1276.9 158.0M1240.0 262.7L1279.1 163.2M1240.1 262.8L1287.2 159.8M1240.2 262.8L1290.1 161.6M1240.2 262.8L1294.5 162.3M1240.4 262.9L1300.0 169.2M1240.5 263.0L1305.4 171.8M1240.5 263.0L1304.8 179.8M1240.6 263.1L1312.7 178.5M1240.7 263.2L1317.8 183.5M1240.8 263.2L1316.7 191.2M1240.8 263.3L1326.1 188.6M1240.8 263.3L1329.3 190.5M1240.9 263.4L1329.6 197.7M1241.0 263.5L1331.5 207.7M1241.1 263.6L1336.6 212.0M1241.1 263.7L1341.5 215.8M1241.1 263.8L1340.1 222.5M1241.2 263.9L1344.0 227.7M1241.2 264.0L1343.8 231.9M1241.2 264.1L1348.0 233.8M1241.3 264.2L1344.3 241.0M1241.3 264.2L1346.5 245.0M1241.3 264.4L1352.4 253.4M1241.3 264.5L1350.3 260.2M1239.3 264.6L1209.3 212.6M1247.7 324.0A60.0 60.0 0 0 1 1209.3 212.6M1184.9 325.5L1183.5 327.1M1182.7 323.4L1181.3 324.9M1176.2 326.3L1173.1 329.3M1170.4 326.4L1168.0 328.5M1167.5 323.1L1163.7 326.2M1166.8 322.1L1163.8 324.4M1170.4 326.4A92.6 92.6 0 0 1 1166.8 322.1M1171.8 321.5L1168.5 324.3M1176.2 326.3A88.2 88.2 0 0 1 1171.8 321.5M1178.9 319.5L1174.0 323.9M1184.9 325.5A81.6 81.6 0 0 1 1178.9 319.5M1197.1 307.2L1181.8 322.6M1174.8 313.3L1173.3 314.4M1172.9 310.7L1169.7 313.0M1174.8 313.3A80.8 80.8 0 0 1 1172.9 310.7M1190.7 299.8L1173.8 312.0M1171.8 306.0L1167.2 308.9M1159.9 311.7L1155.9 314.1M1157.2 306.7L1156.2 307.3M1155.7 303.6L1153.7 304.5M1159.9 311.7A92.3 92.3 0 0 1 1155.7 303.6M1169.3 301.6L1157.7 307.7M1171.8 306.0A79.1 79.1 0 0 1 1169.3 301.6M1187.2 294.3L1170.6 303.8M1160.1 298.0L1158.9 298.5M1159.4 296.2L1157.9 296.8M1157.8 291.8L1146.6 295.5M1160.1 298.0A86.0 86.0 0 0 1 1157.8 291.8M1183.2 285.8L1158.9 294.9M1180.2 274.8L1144.4 281.0M1150.9 268.1L1146.3 268.3M1147.0 262.2L1144.7 262.1M1147.2 258.9L1144.9 258.8M1147.0 262.2A92.3 92.3 0 0 1 1147.2 258.9M1150.9 260.7L1147.1 260.5M1151.3 256.1L1148.0 255.8M1150.9 268.1A88.4 88.4 0 0 1 1151.3 256.1M1179.3 262.9L1150.9 262.1M1146.2 250.8L1144.4 250.5M1146.9 247.0L1145.6 246.7M1147.5 244.2L1144.9 243.6M1146.2 250.8A94.1 94.1 0 0 1 1147.5 244.2M1180.3 253.7L1146.8 247.5M1162.7 245.7L1161.0 245.2M1155.3 241.4L1150.9 240.1M1156.7 236.7L1153.6 235.7M1155.3 241.4A87.1 87.1 0 0 1 1156.7 236.7M1160.1 240.3L1156.0 239.0M1161.7 235.6L1157.0 233.9M1161.9 235.0L1159.6 234.1M1160.1 240.3A82.8 82.8 0 0 1 1161.9 235.0M1164.7 238.9L1161.0 237.6M1162.7 245.7A78.9 78.9 0 0 1 1164.7 238.9M1181.8 247.6L1163.6 242.3M1162.1 234.2L1160.4 233.5M1154.9 223.9L1153.2 223.1M1158.6 217.1L1157.8 216.6M1154.9 223.9A93.7 93.7 0 0 1 1158.6 217.1M1166.1 225.5L1156.7 220.5M1170.7 218.0L1165.9 214.8M1162.1 234.2A82.9 82.9 0 0 1 1170.7 218.0M1186.3 236.6L1166.0 225.8M1190.8 229.2L1176.5 218.8M1194.5 224.7L1175.1 207.5M1177.3 201.6L1173.9 198.2M1178.9 191.0L1176.1 187.6M1182.0 188.6L1179.9 185.7M1178.9 191.0A95.2 95.2 0 0 1 1182.0 188.6M1184.7 195.1L1180.5 189.8M1177.3 201.6A88.4 88.4 0 0 1 1184.7 195.1M1199.7 219.6L1180.9 198.3M1205.3 215.2L1195.5 200.9M1210.2 317.1L1206.3 324.1M1247.7 324.0L1249.5 336.9M1302.5 301.1A73.0 73.0 0 0 1 1216.7 334.0M1275.1 328.2L1286.3 348.0M1268.7 331.4L1276.5 349.2M1261.5 334.1L1267.5 352.9M1250.0 336.8L1252.6 354.0M1241.8 337.6L1242.4 354.0M1233.4 337.4L1231.7 359.0M1225.6 336.3L1223.1 349.1M1218.0 334.4L1214.4 346.0M1291.8 315.3L1294.7 318.1M1302.5 301.1L1319.0 310.6M1329.9 280.6A92.0 92.0 0 0 1 1319.0 310.6M1331.3 267.2L1340.2 267.4M1330.3 277.8L1342.9 279.6M1329.4 283.0L1345.2 286.2M1327.0 292.4L1341.2 296.9M1324.7 298.8L1341.2 305.3M1322.3 304.4L1331.7 308.9" fill="none" stroke="#000" stroke-width="1.00"/>
<path d="M1195.4 357.6L1193.3 362.8L1192.7 362.5ZM1184.6 345.0L1180.8 351.4L1180.1 350.9ZM1182.4 343.8L1172.9 358.1L1171.9 357.3ZM1193.2 353.4L1187.9 365.1L1186.7 364.4ZM1195.9 342.1L1185.8 361.4L1184.6 360.8ZM1191.1 353.3L1185.0 366.0L1183.8 365.3ZM1200.5 355.0L1194.6 370.0L1193.7 369.6ZM1181.2 349.7L1179.3 353.5L1178.4 352.9ZM1306.4 326.6L1315.8 334.3L1314.9 335.3ZM1316.4 326.0L1331.1 337.0L1330.3 338.0ZM1321.1 315.2L1333.1 321.7L1332.3 323.0ZM1308.3 346.3L1314.7 353.5L1314.2 353.9ZM1316.2 320.7L1333.3 332.3L1332.4 333.5ZM1305.2 339.3L1315.9 350.6L1315.1 351.4ZM1292.7 343.3L1303.5 357.9L1302.4 358.7ZM1327.7 325.0L1336.3 330.3L1335.8 331.1ZM1307.2 344.9L1312.5 350.8L1312.1 351.2ZM1299.7 341.3L1306.1 348.4L1305.1 349.3ZM1309.9 341.5L1315.0 346.3L1314.3 347.0ZM1306.4 344.4L1312.6 351.2L1312.1 351.6ZM1157.1 199.3L1148.6 190.9L1158.5 197.5ZM1249.7 363.2L1250.8 383.2L1248.0 363.4ZM1310.3 344.6L1314.8 351.4L1308.7 346.0ZM1342.8 272.7L1352.9 274.8L1342.6 274.9ZM1285.3 359.1L1289.7 370.7L1283.5 360.0ZM1203.3 355.7L1195.5 372.8L1201.8 355.1ZM1234.8 162.6L1234.8 149.3L1235.9 162.6ZM1184.6 344.3L1171.5 360.9L1182.7 342.9ZM1199.3 176.5L1192.5 157.7L1201.7 175.5ZM1221.7 367.1L1218.7 377.9L1219.6 366.7ZM1138.8 230.6L1131.6 226.9L1139.5 228.5ZM1331.1 295.3L1347.8 301.7L1330.6 296.6ZM1345.5 277.5L1353.0 279.1L1345.3 278.7ZM1309.7 336.4L1321.1 350.2L1307.8 338.2ZM1298.8 351.2L1303.7 359.9L1297.5 352.1ZM1234.5 165.4L1234.1 144.3L1235.6 165.4ZM1337.9 267.6L1355.1 269.4L1337.8 269.8ZM1219.5 166.2L1217.2 149.0L1221.4 165.8ZM1178.1 344.2L1169.0 353.9L1176.2 342.8ZM1242.0 362.1L1241.0 378.3L1239.6 362.2ZM1148.6 305.2L1129.8 312.4L1147.9 303.5ZM1147.4 214.3L1138.6 208.2L1148.3 212.6ZM1215.6 164.8L1213.5 150.5L1217.8 164.3ZM1146.4 224.6L1132.8 217.3L1147.3 222.6ZM1185.9 182.2L1177.5 166.7L1187.9 180.9ZM1133.9 275.7L1120.8 276.4L1133.7 274.4ZM1168.0 336.6L1157.4 345.5L1166.5 335.0ZM1146.2 288.9L1124.1 293.3L1145.6 286.8ZM1333.5 310.1L1343.3 316.3L1332.4 312.2ZM1184.9 176.6L1178.1 164.0L1186.2 175.8ZM1236.2 158.0L1237.2 149.7L1238.5 158.0ZM1260.4 361.7L1262.6 376.2L1258.7 362.1ZM1304.5 341.9L1311.9 352.3L1303.1 343.1ZM1294.3 356.3L1299.6 366.4L1293.3 356.9ZM1140.2 293.7L1127.5 296.2L1139.6 291.7ZM1229.3 168.5L1228.6 150.1L1231.3 168.3ZM1173.0 183.0L1166.9 174.2L1174.2 182.0ZM1240.5 371.9L1239.6 379.3L1238.7 371.9ZM1322.7 319.4L1338.2 330.9L1321.7 320.9ZM1188.4 348.4L1179.2 361.9L1187.2 347.6ZM1249.6 369.5L1250.2 383.6L1248.2 369.6ZM1256.8 362.4L1259.4 382.3L1255.3 362.7ZM1334.4 283.9L1354.2 288.9L1334.1 285.4ZM1212.1 172.9L1207.2 154.3L1213.1 172.7ZM1289.6 357.1L1292.8 365.5L1287.6 358.2ZM1231.4 169.1L1231.0 146.3L1233.7 169.0ZM1320.2 333.0L1330.1 342.6L1319.1 334.2ZM1199.4 357.0L1193.1 369.7L1198.2 356.4ZM1161.1 201.6L1148.1 189.4L1162.6 199.8ZM1145.1 226.2L1128.1 218.3L1145.7 224.9ZM1240.6 369.1L1239.7 384.0L1238.8 369.1ZM1155.0 328.7L1148.0 332.6L1153.7 327.0ZM1179.0 185.2L1169.9 171.2L1180.7 183.9ZM1245.6 368.3L1245.1 379.8L1243.4 368.4ZM1333.4 281.2L1355.7 285.9L1333.2 282.5ZM1169.1 194.9L1155.9 180.9L1169.9 194.1ZM1170.7 182.2L1165.8 174.6L1172.3 180.9ZM1165.9 201.8L1149.1 185.6L1167.4 200.0ZM1209.9 364.3L1204.4 379.3L1208.1 363.7ZM1177.5 190.0L1165.6 174.0L1178.8 188.9ZM1198.6 363.6L1194.4 371.0L1196.8 362.8ZM1339.4 293.0L1350.5 297.5L1338.8 295.1ZM1188.4 182.1L1178.3 164.5L1189.3 181.6ZM1145.6 236.8L1130.2 230.9L1146.3 234.7ZM1183.0 180.7L1176.9 169.4L1184.9 179.4ZM1137.0 271.1L1119.9 271.1L1136.9 269.3ZM1343.3 290.5L1353.2 294.0L1342.8 292.3ZM1191.3 353.8L1181.7 370.2L1190.3 353.3ZM1195.5 171.7L1189.0 155.4L1197.1 170.9ZM1272.6 365.2L1275.4 377.4L1270.7 365.8ZM1342.3 208.2L1345.6 207.1L1342.9 209.2ZM1318.2 183.2L1324.6 177.6L1319.2 184.1ZM1331.1 201.9L1338.7 198.0L1332.2 203.6ZM1319.1 185.2L1325.9 179.6L1320.2 186.3ZM1249.9 151.6L1251.6 144.7L1251.9 151.8ZM1254.1 155.5L1256.4 143.7L1255.3 155.7ZM1261.6 146.0L1262.3 145.3L1262.7 146.2ZM1334.1 198.6L1338.1 196.8L1335.0 199.9ZM1351.9 244.5L1357.7 244.8L1352.3 246.9ZM1257.0 151.7L1259.2 144.3L1258.9 152.0ZM1353.3 229.6L1354.5 229.8L1353.6 230.6ZM1329.7 195.9L1336.3 192.0L1330.7 197.2ZM1311.2 168.2L1313.0 166.9L1312.3 169.1ZM1357.9 246.1L1358.2 247.0L1358.2 248.0ZM1273.9 160.4L1277.9 150.3L1274.9 160.7ZM1257.0 155.9L1259.6 145.9L1258.8 156.2ZM1325.7 184.1L1328.3 183.4L1327.3 185.9ZM1327.0 181.6L1328.5 181.2L1328.0 182.7ZM1358.0 247.2L1358.4 248.3L1358.3 249.4ZM1273.7 153.5L1275.8 148.5L1274.7 153.8Z" fill="#fff"/>
<circle cx="1239.1" cy="612.2" r="123.00" fill="none" stroke="#000" stroke-width="9.00"/>
<path d="M1238.6 606.2L1238.0 604.9L1236.9 602.2L1235.2 598.7L1232.8 594.6L1229.5 590.1L1225.3 585.3L1220.1 580.4L1213.8 575.6L1206.6 571.0L1198.3 566.9L1153.8 517.4A127.5 127.5 0 0 1 1228.0 485.2ZM1229.3 493.1L1228.9 492.8L1228.3 485.2A127.5 127.5 0 0 1 1229.3 485.1L1229.9 492.7ZM1231.3 495.4L1230.5 494.2L1229.9 485.0A127.5 127.5 0 0 1 1232.3 484.9L1232.8 494.0ZM1233.6 497.7L1233.4 496.4L1232.8 484.9A127.5 127.5 0 0 1 1233.6 484.8L1234.1 496.3ZM1234.9 492.1L1234.4 491.7L1234.1 484.8A127.5 127.5 0 0 1 1235.2 484.8L1235.4 491.6ZM1236.9 499.7L1236.0 495.3L1235.8 484.7A127.5 127.5 0 0 1 1239.0 484.7L1239.0 495.2ZM1240.6 492.6L1239.5 491.3L1239.5 484.7A127.5 127.5 0 0 1 1241.6 484.7L1241.5 491.3ZM1242.6 491.7L1242.0 490.1L1242.2 484.7A127.5 127.5 0 0 1 1244.6 484.8L1244.3 490.2ZM1245.2 492.1L1244.8 490.5L1245.1 484.8A127.5 127.5 0 0 1 1246.2 484.9L1245.9 490.5ZM1248.4 497.4L1246.1 496.3L1246.8 484.9A127.5 127.5 0 0 1 1251.2 485.3L1250.1 496.6ZM1252.9 499.1L1250.5 497.9L1251.7 485.3A127.5 127.5 0 0 1 1255.2 485.7L1253.6 498.3ZM1254.9 498.9L1254.3 496.8L1255.8 485.8A127.5 127.5 0 0 1 1258.5 486.2L1256.8 497.2ZM1257.5 499.7L1257.1 498.2L1259.0 486.3A127.5 127.5 0 0 1 1261.9 486.8L1259.7 498.7ZM1260.7 497.6L1261.0 494.4L1262.4 486.9A127.5 127.5 0 0 1 1263.9 487.1L1262.4 494.7ZM1263.0 501.6L1262.4 497.2L1264.4 487.2A127.5 127.5 0 0 1 1267.5 487.9L1265.2 497.9ZM1259.3 545.2L1260.1 524.6L1268.9 488.2A127.5 127.5 0 0 1 1282.7 492.4L1269.9 527.5ZM1284.2 502.9L1281.8 501.6L1285.0 493.3A127.5 127.5 0 0 1 1290.9 495.7L1287.2 503.9ZM1290.1 510.6L1286.5 506.8L1291.4 495.9A127.5 127.5 0 0 1 1299.0 499.7L1293.4 510.2ZM1295.2 511.3L1294.7 508.8L1299.5 499.9A127.5 127.5 0 0 1 1302.8 501.8L1297.8 510.5ZM1299.5 510.8L1299.3 508.9L1303.3 502.0A127.5 127.5 0 0 1 1305.8 503.5L1301.6 510.3ZM1302.9 518.6L1300.8 512.6L1306.2 503.8A127.5 127.5 0 0 1 1312.1 507.7L1306.2 516.1ZM1307.3 523.3L1304.6 519.3L1312.6 508.0A127.5 127.5 0 0 1 1321.2 514.7L1312.3 525.2ZM1311.5 530.5L1311.9 526.5L1321.6 515.0A127.5 127.5 0 0 1 1326.1 519.0L1315.8 530.0ZM1317.3 532.0L1316.3 530.1L1326.5 519.4A127.5 127.5 0 0 1 1329.6 522.4L1319.1 532.9ZM1325.5 531.9L1323.2 529.5L1330.0 522.8A127.5 127.5 0 0 1 1334.0 527.0L1326.9 533.4ZM1326.1 542.7L1325.5 535.3L1334.4 527.4A127.5 127.5 0 0 1 1341.2 535.9L1331.8 543.0ZM1331.6 544.8L1332.7 542.9L1341.6 536.3A127.5 127.5 0 0 1 1344.0 539.7L1335.0 546.0ZM1329.3 552.1L1329.7 550.2L1344.3 540.2A127.5 127.5 0 0 1 1347.5 545.0L1332.4 554.4ZM1338.6 554.7L1337.4 551.8L1347.8 545.5A127.5 127.5 0 0 1 1351.9 552.7L1341.2 558.4ZM1340.7 562.0L1340.5 559.3L1352.1 553.2A127.5 127.5 0 0 1 1354.1 557.1L1342.3 562.8ZM1345.1 563.3L1346.0 561.6L1354.3 557.6A127.5 127.5 0 0 1 1356.9 563.4L1348.4 567.0ZM1340.0 573.2L1340.4 570.8L1357.1 563.9A127.5 127.5 0 0 1 1358.6 567.7L1341.7 574.0ZM1351.8 577.2L1350.9 571.1L1358.8 568.2A127.5 127.5 0 0 1 1361.7 577.2L1353.6 579.5ZM1343.4 583.6L1348.6 581.4L1361.8 577.7A127.5 127.5 0 0 1 1362.6 580.6L1349.3 584.0ZM1349.5 586.6L1352.7 583.6L1362.7 581.1A127.5 127.5 0 0 1 1363.5 584.4L1353.5 586.6ZM1348.0 591.4L1350.0 587.9L1363.6 584.9A127.5 127.5 0 0 1 1364.8 590.6L1351.0 592.9ZM1352.3 596.5L1353.5 593.0L1364.8 591.1A127.5 127.5 0 0 1 1366.0 600.0L1354.6 601.1ZM1357.7 606.7L1358.7 601.2L1366.1 600.5A127.5 127.5 0 0 1 1366.6 609.7L1359.2 609.9ZM1143.9 626.3L1133.6 630.6L1113.5 634.1A127.5 127.5 0 0 1 1112.7 629.2L1133.0 626.5ZM1140.8 623.6L1138.8 625.3L1112.7 628.7A127.5 127.5 0 0 1 1112.1 623.7L1138.4 621.3ZM1140.3 619.4L1134.3 621.3L1112.1 623.2A127.5 127.5 0 0 1 1111.7 618.0L1134.0 617.0ZM1131.6 612.3L1129.7 616.7L1111.7 617.4A127.5 127.5 0 0 1 1111.6 610.4L1129.6 610.7ZM1148.9 607.9L1145.2 610.5L1111.6 609.9A127.5 127.5 0 0 1 1111.9 603.3L1145.4 605.6ZM1150.1 603.7L1142.5 605.0L1111.9 602.8A127.5 127.5 0 0 1 1112.7 595.2L1143.1 599.3ZM1143.2 596.7L1140.4 598.5L1112.8 594.6A127.5 127.5 0 0 1 1114.2 586.7L1141.5 592.3ZM1143.1 591.5L1139.2 591.4L1114.3 586.2A127.5 127.5 0 0 1 1114.9 583.2L1139.7 589.0ZM1136.8 582.7L1134.4 587.3L1115.1 582.7A127.5 127.5 0 0 1 1117.0 575.4L1136.1 581.1ZM1140.2 578.6L1131.7 579.3L1117.2 574.9A127.5 127.5 0 0 1 1119.2 568.8L1133.4 574.0ZM1183.1 633.7L1166.7 654.0L1128.7 676.0A127.5 127.5 0 0 1 1114.4 638.7L1157.3 629.6ZM1143.4 571.6L1140.7 574.2L1120.2 566.3A127.5 127.5 0 0 1 1124.6 556.0L1144.4 565.8ZM1144.4 556.9L1136.5 561.3L1124.9 555.6A127.5 127.5 0 0 1 1131.3 544.1L1142.3 551.0ZM1154.3 549.1L1146.5 553.1L1131.6 543.6A127.5 127.5 0 0 1 1139.3 532.9L1153.1 543.9ZM1164.7 542.9L1153.8 543.8L1139.6 532.5A127.5 127.5 0 0 1 1149.9 521.1L1162.6 534.0ZM1174.3 535.2L1166.9 537.7L1150.3 520.7A127.5 127.5 0 0 1 1160.4 511.9L1175.1 530.6ZM1218.8 702.9L1224.3 704.1L1218.9 738.1A127.5 127.5 0 0 1 1209.1 736.1L1217.2 702.7ZM1212.6 712.5L1213.8 715.1L1208.6 736.0A127.5 127.5 0 0 1 1205.0 735.1L1210.8 714.3ZM1209.7 700.9L1211.6 709.7L1204.5 734.9A127.5 127.5 0 0 1 1193.4 731.2L1202.8 706.7ZM1203.1 698.4L1201.7 708.3L1192.9 731.0A127.5 127.5 0 0 1 1183.5 726.9L1194.1 705.0ZM1197.6 692.6L1195.1 701.9L1183.0 726.7A127.5 127.5 0 0 1 1178.6 724.4L1191.7 700.2ZM1190.9 693.8L1193.4 696.2L1178.2 724.2A127.5 127.5 0 0 1 1171.3 720.2L1188.2 693.2ZM1184.9 685.8L1186.7 695.0L1170.9 719.9A127.5 127.5 0 0 1 1160.6 712.6L1178.7 689.4ZM1177.1 686.3L1174.6 694.0L1160.1 712.3A127.5 127.5 0 0 1 1152.9 706.2L1168.7 689.0ZM1171.4 681.8L1168.5 688.5L1152.5 705.8A127.5 127.5 0 0 1 1147.6 701.0L1164.5 684.6ZM1245.9 689.9L1268.6 702.9L1278.5 733.5A127.5 127.5 0 0 1 1221.4 738.5L1225.8 706.6ZM1179.8 656.5L1171.3 675.4L1145.9 699.2A127.5 127.5 0 0 1 1129.2 676.9L1159.2 659.3ZM1325.3 667.1L1329.8 666.9L1348.3 678.1A127.5 127.5 0 0 1 1343.2 685.8L1325.6 673.3ZM1317.0 676.3L1325.9 674.2L1342.9 686.2A127.5 127.5 0 0 1 1334.2 697.2L1318.6 683.3ZM1312.8 682.9L1315.5 681.1L1333.8 697.6A127.5 127.5 0 0 1 1326.5 705.1L1309.6 687.1ZM1303.5 687.5L1309.4 687.5L1326.1 705.4A127.5 127.5 0 0 1 1318.8 711.7L1303.5 692.6ZM1297.4 695.2L1305.6 695.9L1318.4 712.0A127.5 127.5 0 0 1 1306.6 720.4L1295.7 702.9ZM1290.1 704.9L1297.9 707.3L1306.2 720.6A127.5 127.5 0 0 1 1296.1 726.3L1289.1 712.3ZM1279.5 701.9L1283.0 700.9L1295.6 726.5A127.5 127.5 0 0 1 1283.0 731.9L1273.1 705.1ZM1348.6 620.4L1350.4 613.4L1366.6 613.6A127.5 127.5 0 0 1 1365.8 626.7L1349.7 624.9ZM1351.6 629.3L1353.0 625.7L1365.7 627.2A127.5 127.5 0 0 1 1364.8 633.5L1352.2 631.3ZM1343.0 633.5L1349.1 631.3L1364.7 634.0A127.5 127.5 0 0 1 1362.4 644.5L1347.1 640.5ZM1339.7 644.0L1346.9 640.9L1362.3 645.0A127.5 127.5 0 0 1 1358.5 656.9L1343.6 651.3ZM1337.4 657.6L1342.4 651.3L1358.3 657.4A127.5 127.5 0 0 1 1353.5 668.5L1338.2 661.0ZM1338.8 663.7L1341.7 663.3L1353.2 669.0A127.5 127.5 0 0 1 1350.7 673.8L1339.5 667.6ZM1366.6 612.2A127.5 127.5 0 0 1 1141.4 694.2L1158.3 680A105.5 105.5 0 0 0 1344.6 612.2ZM1141.4 694.2A127.5 127.5 0 0 1 1166 507.8L1180.9 529.1A101.5 101.5 0 0 0 1161.3 677.4ZM1153.8 517.4A127.5 127.5 0 0 1 1228 485.2L1229.7 505.1A107.5 107.5 0 0 0 1167.2 532.3Z" fill="#000"/>
<path d="M1238.9 610.2L1229.3 493.1M1239.0 610.2L1231.3 495.4M1239.0 610.2L1233.6 497.7M1239.0 610.2L1234.9 492.1M1239.1 610.2L1236.9 499.7M1239.1 610.2L1240.6 492.6M1239.2 610.2L1242.6 491.7M1239.2 610.2L1245.2 492.1M1239.3 610.2L1248.4 497.4M1239.3 610.2L1252.9 499.1M1239.4 610.2L1254.9 498.9M1239.4 610.2L1257.5 499.7M1239.5 610.2L1260.7 497.6M1239.5 610.2L1263.0 501.6M1240.0 609.3L1259.6 545.3M1239.9 610.4L1284.2 502.9M1240.0 610.4L1290.1 510.6M1240.1 610.5L1295.2 511.3M1240.1 610.5L1299.5 510.8M1240.2 610.5L1302.9 518.6M1240.3 610.6L1307.3 523.3M1240.4 610.7L1311.5 530.5M1240.5 610.8L1317.3 532.0M1240.6 610.8L1325.5 531.9M1240.7 611.0L1326.1 542.7M1240.7 611.0L1331.6 544.8M1240.8 611.1L1329.3 552.1M1240.8 611.2L1338.6 554.7M1240.9 611.3L1340.7 562.0M1240.9 611.4L1345.1 563.3M1241.0 611.5L1340.0 573.2M1241.0 611.6L1351.8 577.2M1241.0 611.7L1343.4 583.6M1241.0 611.7L1349.5 586.6M1241.1 611.8L1348.0 591.4M1241.1 611.9L1352.3 596.5M1241.1 612.1L1357.7 606.7M1239.1 612.2L1186.5 596.1M1197.6 648.3A55.0 55.0 0 0 1 1193.0 582.2M1184.7 620.2L1143.9 626.3M1184.5 618.5L1140.8 623.6M1184.2 616.2L1140.3 619.4M1184.1 612.3L1131.6 612.3M1184.2 609.6L1148.9 607.9M1184.3 607.0L1150.1 603.7M1184.8 603.4L1143.2 596.7M1185.3 600.6L1143.1 591.5M1186.3 597.0L1136.8 582.7M1187.0 594.5L1140.2 578.6M1187.8 631.9L1181.2 634.4M1188.5 590.7L1143.4 571.6M1191.6 584.4L1144.4 556.9M1195.0 579.4L1154.3 549.1M1198.8 574.7L1164.7 542.9M1203.7 570.1L1174.3 535.2M1197.6 648.3L1182.5 661.4M1276.6 677.2A75.0 75.0 0 0 1 1182.5 661.4M1222.7 685.4L1218.8 702.9M1219.9 684.7L1212.6 712.5M1215.5 683.4L1209.7 700.9M1210.2 681.4L1203.1 698.4M1204.7 678.9L1197.6 692.6M1200.9 676.8L1190.9 693.8M1194.6 672.6L1184.9 685.8M1191.0 669.7L1177.1 686.3M1186.8 666.0L1171.4 681.8M1245.6 686.9L1246.1 691.9M1276.6 677.2L1280.6 684.1M1311.0 653.7A83.0 83.0 0 0 1 1280.6 684.1M1309.1 656.8L1325.3 667.1M1303.2 664.9L1317.0 676.3M1299.0 669.7L1312.8 682.9M1293.0 675.3L1303.5 687.5M1286.8 680.1L1297.4 695.2M1279.1 684.9L1290.1 704.9M1273.1 687.9L1279.5 701.9M1311.0 653.7L1324.0 661.2M1336.1 625.8A98.0 98.0 0 0 1 1324.0 661.2M1336.8 619.5L1348.6 620.4M1336.0 626.9L1351.6 629.3M1335.1 631.9L1343.0 633.5M1332.5 641.7L1339.7 644.0M1328.1 653.3L1337.4 657.6M1326.2 657.2L1338.8 663.7" fill="none" stroke="#000" stroke-width="1.00"/>
<path d="M1273.1 510.0L1276.0 499.3L1277.2 499.7ZM1268.5 516.3L1270.5 507.3L1271.9 507.8ZM1154.6 639.1L1131.6 647.0L1131.3 646.0ZM1150.0 640.0L1131.1 646.6L1130.7 645.3ZM1148.2 642.5L1127.6 649.9L1127.3 648.9ZM1162.9 647.8L1136.7 660.5L1136.3 659.7ZM1149.7 637.7L1136.1 642.1L1135.8 641.1ZM1141.9 644.7L1130.0 649.0L1129.8 648.3ZM1146.2 640.2L1128.0 646.2L1127.7 645.2ZM1146.4 633.8L1129.6 638.5L1129.2 637.1ZM1259.8 715.4L1261.2 719.0L1259.8 719.3ZM1230.5 706.8L1229.5 723.9L1228.4 723.8ZM1267.3 705.1L1270.5 714.4L1269.8 714.6ZM1236.9 714.8L1237.4 725.6L1235.9 725.6ZM1247.8 708.6L1249.2 719.6L1248.3 719.7ZM1249.7 713.2L1251.9 728.7L1250.9 728.8ZM1265.6 705.9L1270.1 720.0L1269.1 720.3ZM1226.1 710.3L1225.8 717.2L1224.7 717.0ZM1234.0 719.1L1234.2 727.5L1233.1 727.5ZM1242.5 705.7L1244.1 729.8L1242.6 729.9ZM1161.9 659.1L1143.9 670.6L1143.5 669.8ZM1157.9 671.3L1148.0 679.3L1147.2 678.2ZM1165.9 675.8L1158.2 683.0L1157.7 682.4ZM1161.7 671.1L1154.0 677.7L1153.3 676.7ZM1324.4 667.3L1336.9 676.3L1323.7 668.4ZM1137.1 576.3L1128.0 572.0L1137.8 574.5ZM1151.6 564.7L1134.8 554.6L1152.3 563.4ZM1136.0 644.8L1122.5 648.3L1135.6 643.5ZM1299.1 694.8L1309.6 710.9L1297.8 695.7ZM1136.1 609.7L1122.1 607.9L1136.2 607.1ZM1340.0 623.6L1360.7 626.7L1339.9 624.8ZM1341.0 622.5L1355.2 625.3L1340.7 624.9ZM1295.7 702.2L1302.6 714.5L1294.7 702.8ZM1143.1 652.0L1130.7 655.6L1142.2 649.6ZM1220.4 712.1L1215.8 731.7L1218.8 711.8ZM1269.7 704.8L1275.1 725.0L1267.8 705.4ZM1243.0 713.5L1242.2 732.3L1240.5 713.5ZM1262.8 715.0L1265.2 731.2L1260.5 715.5ZM1143.1 586.2L1121.4 579.0L1143.6 584.3ZM1151.8 558.5L1139.2 549.6L1152.7 557.0ZM1153.6 665.3L1137.8 673.5L1152.4 663.4ZM1163.1 681.3L1151.1 691.2L1162.2 680.3ZM1143.9 641.7L1124.8 646.1L1143.2 639.4ZM1343.0 627.8L1357.3 631.4L1342.6 630.3ZM1140.3 610.0L1121.3 608.6L1140.4 608.3ZM1169.6 683.9L1154.2 697.9L1168.1 682.4ZM1165.9 686.5L1154.3 696.3L1164.2 684.7ZM1203.9 714.2L1198.7 725.1L1201.7 713.4ZM1285.2 698.6L1292.5 715.0L1283.3 699.6ZM1164.5 542.6L1155.3 532.0L1166.3 540.8ZM1138.9 589.9L1125.5 585.6L1139.5 587.7ZM1297.4 693.4L1306.3 708.3L1295.4 694.8ZM1130.9 608.6L1119.9 607.3L1131.0 606.8ZM1140.5 627.3L1123.6 629.3L1140.4 626.2ZM1131.7 613.2L1119.8 612.4L1131.7 611.5ZM1173.7 692.5L1162.0 705.0L1172.1 691.3ZM1174.1 696.5L1163.7 707.7L1172.2 695.0ZM1173.0 539.5L1157.6 521.2L1174.1 538.5ZM1170.8 540.5L1157.6 525.1L1172.1 539.3ZM1335.0 654.3L1345.4 660.1L1334.2 656.1ZM1158.5 683.3L1151.6 688.0L1157.3 681.9ZM1198.7 708.5L1192.9 720.3L1197.4 708.0ZM1185.8 700.3L1174.8 715.8L1183.9 699.1ZM1302.3 700.5L1306.1 707.7L1300.6 701.7ZM1253.3 709.7L1254.6 728.7L1250.9 710.0ZM1302.8 698.0L1308.4 706.9L1301.6 698.8ZM1327.9 675.4L1337.9 683.8L1326.9 676.9ZM1276.6 704.8L1283.2 723.7L1275.1 705.3ZM1165.5 548.1L1148.4 531.2L1167.1 546.3ZM1175.3 527.2L1167.0 514.8L1176.4 526.3ZM1185.5 700.8L1175.5 715.1L1183.8 699.7ZM1329.9 666.3L1343.3 675.7L1328.8 668.1ZM1213.2 709.1L1207.6 724.9L1211.1 708.5ZM1233.5 716.4L1232.0 729.1L1232.1 716.3ZM1154.9 545.5L1144.9 535.7L1156.5 543.5ZM1294.8 701.5L1302.4 715.8L1293.1 702.5ZM1330.2 665.4L1343.7 674.2L1329.5 666.6ZM1205.7 706.9L1198.0 725.1L1203.8 706.2ZM1142.7 659.5L1131.9 663.8L1142.0 658.0ZM1163.9 688.6L1155.9 695.0L1162.4 687.1ZM1238.4 710.9L1237.5 730.3L1237.1 710.9ZM1319.4 681.5L1329.1 691.7L1317.7 683.4ZM1324.4 665.1L1342.4 677.2L1323.7 666.2ZM1171.9 527.7L1165.9 518.2L1173.7 526.3ZM1140.4 621.1L1120.6 621.9L1140.2 619.4ZM1333.0 643.7L1351.7 651.1L1332.5 645.4ZM1139.9 597.0L1121.8 592.8L1140.3 594.6ZM1237.3 711.9L1236.4 728.3L1236.2 711.9ZM1275.1 711.6L1279.4 725.7L1273.8 712.0ZM1304.8 694.9L1311.7 705.6L1303.0 696.2ZM1136.3 646.2L1124.2 649.0L1135.7 644.3ZM1153.4 663.7L1135.4 673.0L1152.4 661.9ZM1342.7 643.9L1354.8 648.3L1342.4 645.0ZM1200.4 703.1L1191.1 722.4L1198.9 702.4ZM1323.5 535.4L1330.9 529.6L1324.3 536.3ZM1298.6 515.3L1304.1 508.2L1300.1 516.2ZM1351.6 562.3L1351.5 563.6L1352.5 564.5ZM1296.1 512.1L1300.6 505.7L1297.4 512.8ZM1254.2 491.6L1254.9 490.0L1255.3 491.8ZM1326.4 536.4L1332.1 533.0L1327.8 538.1ZM1258.7 495.2L1260.3 490.7L1260.3 495.5ZM1293.7 508.8L1296.9 504.8L1295.4 509.7ZM1344.0 572.1L1353.8 569.2L1344.5 573.5ZM1288.9 501.5L1290.6 500.3L1290.9 502.4ZM1357.3 592.4L1359.2 593.2L1357.6 594.5ZM1303.6 515.8L1308.6 509.5L1304.6 516.5ZM1253.5 493.3L1254.5 489.5L1254.6 493.5ZM1334.3 543.6L1338.5 542.1L1335.7 545.5ZM1315.3 516.4L1315.9 517.0L1316.6 517.5ZM1319.3 529.9L1325.3 525.6L1321.0 531.7ZM1246.9 496.7L1248.3 489.2L1248.4 496.8ZM1345.8 555.6L1349.2 554.7L1346.5 556.9ZM1328.4 536.5L1334.7 532.8L1329.9 538.3ZM1267.0 500.9L1270.1 492.5L1268.8 501.4ZM1354.3 585.5L1358.1 585.1L1354.6 586.5ZM1311.8 523.1L1316.8 518.7L1313.4 524.4ZM1272.3 502.9L1275.7 496.2L1274.5 503.6ZM1280.4 508.0L1285.1 499.6L1282.6 508.9ZM1355.3 581.1L1358.2 581.2L1355.7 582.8Z" fill="#fff"/>
<text transform="translate(5.5 808.4) scale(1.364 1)" x="-0.4" y="0" font-size="27.72" font-weight="bold" fill="#231f20">f</text>
<circle cx="344.2" cy="1118.7" r="259.5" fill="none" stroke="#231f20" stroke-width="1.1"/>
<path d="M557.9 1188.4L586.1 1197.5M557.7 1189.2L583.1 1197.6M564.6 1163.2L585.5 1167.4M560.0 1181.5L589.8 1190.2M546.6 1216.6L569.5 1227.7M476.2 1300.7L490.8 1320.9M553.9 1199.8L579.4 1209.6M480.9 1297.1L499.9 1321.9M515.7 1264.1L538.4 1283.3M533.0 1240.7L556.4 1255.7M550.4 1208.3L578.5 1220.5M542.3 1224.9L561.5 1235.2M436.5 1323.7L447.8 1348.7M395.5 1337.6L402.3 1366.5M409.4 1333.8L418.6 1364.1M363.1 1342.7L365.5 1371.9M346.3 1343.5L346.6 1375.2M361.9 1342.8L363.3 1360.6M446.8 1318.7L460.1 1344.7M369.9 1342.0L373.5 1373.6M206.9 1296.7L191.6 1316.5M161.5 1249.6L139.8 1265.1M203.8 1294.3L192.9 1307.9M328.7 1343.0L327.5 1361.0M151.5 1234.4L136.1 1243.6M138.5 1209.4L110.8 1221.6M208.4 1297.8L189.8 1322.3M167.9 1258.1L150.0 1272.2M162.8 1251.5L149.6 1261.2M334.6 1343.3L333.8 1361.5M216.2 1303.5L202.3 1323.6M134.0 1198.3L105.3 1209.2M311.9 1341.2L310.0 1354.3M176.7 1268.6L153.6 1289.2M328.8 1343.0L327.5 1362.0M318.1 1342.0L314.6 1372.0M264.1 1328.7L257.6 1345.7M142.0 1217.0L121.1 1227.2M141.0 1214.9L111.5 1228.9M327.1 1342.9L325.5 1363.7M219.5 1305.7L201.9 1332.1M336.9 1343.4L336.3 1361.0M341.9 1343.5L341.8 1358.8M313.1 1341.3L310.1 1363.1M241.0 1318.4L234.5 1331.1M307.1 1340.4L302.2 1369.9M273.6 1332.1L263.5 1362.7M299.4 1339.0L293.6 1367.3M337.3 1343.4L336.5 1369.7M214.9 1302.6L197.1 1328.0M243.7 1319.8L235.4 1336.4M193.6 1285.6L172.7 1308.6M217.6 1304.5L200.3 1329.9M316.0 1341.7L314.0 1357.2M189.4 1281.7L168.3 1303.9M225.9 1309.8L212.3 1331.7M292.7 1337.5L285.9 1366.5M339.0 1343.4L338.3 1374.3M305.6 1340.2L302.6 1357.0M212.9 1301.2L199.6 1319.7M178.4 1270.5L155.0 1292.0M137.9 1208.0L112.8 1218.9M242.5 1319.2L232.3 1339.3M175.4 1267.2L152.8 1287.1M162.8 1251.5L141.1 1267.4M231.9 1313.4L223.5 1328.0M276.3 1333.0L270.1 1352.7M149.4 1230.9L133.0 1240.4M257.7 1326.2L250.2 1344.0M135.9 1203.2L113.0 1212.5M122.9 1078.9L100.9 1074.9M122.8 1079.8L90.6 1074.1M123.7 1074.9L102.0 1070.5M119.9 1134.3L88.9 1136.5M126.8 1061.5L105.6 1055.9M119.6 1109.0L97.2 1108.0M121.7 1086.3L90.7 1081.8M121.1 1091.3L92.0 1087.7M126.3 1173.8L104.2 1179.4M130.5 1188.3L110.9 1194.7M128.6 1055.1L106.6 1048.6M121.1 1091.0L94.7 1087.7M130.1 1187.1L112.5 1192.7M119.8 1105.1L89.2 1103.3M205.7 941.6L187.5 918.4M145.8 1013.0L122.6 1000.6M261.6 909.6L253.3 888.6M203.3 943.5L185.4 921.2M259.1 910.6L251.3 891.5M138.7 1027.5L115.5 1017.2M179.0 966.3L164.3 952.7M136.3 1033.2L117.1 1025.3M223.2 929.3L208.5 906.3M263.9 908.7L254.8 885.1M240.5 919.3L225.7 890.9M135.1 1036.0L105.1 1024.2M228.6 925.9L219.6 911.0M233.1 923.3L218.8 898.1M234.8 922.3L224.6 904.0M236.1 921.6L222.7 897.3M382.7 897.2L388.0 866.7M384.3 897.5L389.6 868.3M471.4 933.4L483.8 915.4M304.4 897.4L300.3 874.3M369.6 895.3L371.6 877.7M335.3 894.1L334.2 865.4M366.8 895.0L369.7 866.8M462.3 927.4L473.7 908.9M349.2 894.0L349.8 867.5M308.1 896.8L304.4 874.1M414.8 905.3L424.1 877.0M472.1 933.8L483.8 916.8M331.9 894.2L330.4 865.6M404.0 902.0L410.8 877.4M307.2 897.0L304.4 880.3M311.8 896.2L307.2 863.9M342.3 893.9L342.0 862.0M409.4 903.6L417.4 877.3M441.8 916.2L451.8 895.4M331.0 894.3L329.2 863.3M317.4 895.5L314.7 872.6M411.8 904.3L420.5 876.6M326.0 894.6L323.4 862.6M329.6 894.4L327.5 862.8M356.1 894.2L357.2 873.9M413.7 904.9L423.3 875.4M450.5 920.6L463.8 895.7M436.6 913.8L444.7 895.8M382.5 897.2L384.7 884.4M453.7 922.4L468.0 896.8M349.0 894.0L349.6 867.7M426.0 909.3L435.4 885.4M272.2 905.7L267.6 891.9M360.4 894.5L361.8 874.1M449.3 920.0L464.3 891.8M283.0 902.4L274.6 872.5M337.1 894.0L336.4 874.3M394.3 899.6L401.1 870.0M567.0 1088.6L596.4 1084.6M537.9 1004.7L562.6 990.2M568.1 1098.9L595.4 1096.5M519.3 977.8L537.8 962.9M527.6 988.6L540.8 979.2M514.1 971.4L530.6 957.1M564.4 1073.5L592.1 1067.8M477.4 937.6L491.8 918.1M551.7 1032.2L573.1 1023.3M506.0 962.6L529.1 940.3M555.6 1042.2L567.1 1038.0M541.9 1011.6L566.5 998.3M553.5 1036.7L582.4 1025.4M478.4 938.3L497.4 912.8M561.2 1060.2L585.8 1053.5M547.2 1022.2L576.2 1008.4M567.3 1090.9L589.0 1088.3M551.3 1031.3L580.9 1018.9M567.3 1091.5L586.9 1089.1M550.7 1029.8L578.3 1017.9M560.7 1058.2L583.9 1051.8M564.6 1074.5L582.4 1070.9M517.0 975.0L540.0 955.9M547.9 1023.7L576.7 1010.3" stroke="#f49a58" stroke-width="0.55" stroke-opacity="0.85" fill="none"/>
<path d="M565.2 1158.9A224.6 224.6 0 1 1 568.8 1118.7" stroke="#f7b27e" stroke-width="0.6" fill="none"/>
<path d="M565.1 1158.8A224.5 224.5 0 0 1 564.1 1163.8L533.3 1157.5A193 193 0 0 0 534.1 1153.2Z" fill="#22a485"/>
<path d="M564.3 1162.7A224.5 224.5 0 0 1 563.3 1167.7L532.6 1160.8A193 193 0 0 0 533.5 1156.5Z" fill="#297c8e"/>
<path d="M563.5 1166.5A224.5 224.5 0 0 1 562.4 1171.5L531.8 1164.1A193 193 0 0 0 532.8 1159.8Z" fill="#30698d"/>
<path d="M562.7 1170.3A224.5 224.5 0 0 1 561.5 1175.3L531 1167.3A193 193 0 0 0 532 1163.1Z" fill="#3e4a88"/>
<path d="M561.7 1174.2A224.5 224.5 0 0 1 560.4 1179.1L530.1 1170.6A193 193 0 0 0 531.2 1166.4Z" fill="#471b6c"/>
<path d="M560.7 1177.9A224.5 224.5 0 0 1 559.3 1182.8L529.2 1173.8A193 193 0 0 0 530.4 1169.6Z" fill="#450c5f"/>
<path d="M559.7 1181.7A224.5 224.5 0 0 1 558.2 1186.6L528.2 1177.1A193 193 0 0 0 529.4 1172.9Z" fill="#47186a"/>
<path d="M558.5 1185.5A224.5 224.5 0 0 1 557 1190.3L527.1 1180.3A193 193 0 0 0 528.5 1176.1Z" fill="#482475"/>
<path d="M557.3 1189.2A224.5 224.5 0 0 1 555.7 1194L526 1183.4A193 193 0 0 0 527.4 1179.3Z" fill="#462f7b"/>
<path d="M556.1 1192.9A224.5 224.5 0 0 1 554.3 1197.7L524.9 1186.6A193 193 0 0 0 526.4 1182.5Z" fill="#3d4e89"/>
<path d="M554.8 1196.6A224.5 224.5 0 0 1 552.9 1201.3L523.6 1189.7A193 193 0 0 0 525.2 1185.7Z" fill="#2f6c8e"/>
<path d="M553.4 1200.2A224.5 224.5 0 0 1 551.5 1205L522.4 1192.9A193 193 0 0 0 524 1188.8Z" fill="#287c8e"/>
<path d="M551.9 1203.9A224.5 224.5 0 0 1 549.9 1208.6L521.1 1196A193 193 0 0 0 522.8 1191.9Z" fill="#287e8d"/>
<path d="M550.4 1207.5A224.5 224.5 0 0 1 548.3 1212.2L519.7 1199A193 193 0 0 0 521.5 1195Z" fill="#26828d"/>
<path d="M548.8 1211.1A224.5 224.5 0 0 1 546.7 1215.7L518.3 1202.1A193 193 0 0 0 520.1 1198.1Z" fill="#26848d"/>
<path d="M547.2 1214.6A224.5 224.5 0 0 1 544.9 1219.2L516.8 1205.1A193 193 0 0 0 518.7 1201.2Z" fill="#27818d"/>
<path d="M545.5 1218.2A224.5 224.5 0 0 1 543.2 1222.7L515.2 1208.1A193 193 0 0 0 517.2 1204.2Z" fill="#2c758e"/>
<path d="M543.7 1221.7A224.5 224.5 0 0 1 541.3 1226.2L513.7 1211.1A193 193 0 0 0 515.7 1207.2Z" fill="#31678d"/>
<path d="M541.9 1225.1A224.5 224.5 0 0 1 539.4 1229.6L512 1214A193 193 0 0 0 514.1 1210.2Z" fill="#355f8d"/>
<path d="M540 1228.6A224.5 224.5 0 0 1 537.4 1233L510.3 1216.9A193 193 0 0 0 512.5 1213.2Z" fill="#365c8c"/>
<path d="M538 1232A224.5 224.5 0 0 1 535.4 1236.3L508.6 1219.8A193 193 0 0 0 510.8 1216.1Z" fill="#3a548a"/>
<path d="M536 1235.3A224.5 224.5 0 0 1 533.3 1239.7L506.8 1222.7A193 193 0 0 0 509.1 1219Z" fill="#3e4a88"/>
<path d="M534 1238.7A224.5 224.5 0 0 1 531.2 1242.9L505 1225.5A193 193 0 0 0 507.3 1221.8Z" fill="#414487"/>
<path d="M531.8 1242A224.5 224.5 0 0 1 529 1246.2L503.1 1228.3A193 193 0 0 0 505.5 1224.7Z" fill="#424185"/>
<path d="M529.7 1245.2A224.5 224.5 0 0 1 526.7 1249.4L501.1 1231A193 193 0 0 0 503.6 1227.5Z" fill="#44367f"/>
<path d="M527.4 1248.4A224.5 224.5 0 0 1 524.4 1252.6L499.1 1233.8A193 193 0 0 0 501.7 1230.2Z" fill="#472877"/>
<path d="M525.1 1251.6A224.5 224.5 0 0 1 522.1 1255.7L497.1 1236.5A193 193 0 0 0 499.7 1233Z" fill="#471a6c"/>
<path d="M522.8 1254.7A224.5 224.5 0 0 1 519.7 1258.8L495 1239.1A193 193 0 0 0 497.7 1235.7Z" fill="#461365"/>
<path d="M520.4 1257.8A224.5 224.5 0 0 1 517.2 1261.8L492.9 1241.7A193 193 0 0 0 495.7 1238.3Z" fill="#461264"/>
<path d="M517.9 1260.9A224.5 224.5 0 0 1 514.7 1264.8L490.7 1244.3A193 193 0 0 0 493.6 1240.9Z" fill="#461264"/>
<path d="M515.4 1263.9A224.5 224.5 0 0 1 512.1 1267.8L488.5 1246.8A193 193 0 0 0 491.4 1243.5Z" fill="#461264"/>
<path d="M512.9 1266.9A224.5 224.5 0 0 1 509.5 1270.7L486.3 1249.3A193 193 0 0 0 489.2 1246.1Z" fill="#461264"/>
<path d="M510.2 1269.8A224.5 224.5 0 0 1 506.8 1273.5L484 1251.8A193 193 0 0 0 486.9 1248.6Z" fill="#461567"/>
<path d="M507.6 1272.7A224.5 224.5 0 0 1 504 1276.3L481.6 1254.2A193 193 0 0 0 484.7 1251.1Z" fill="#471f70"/>
<path d="M504.9 1275.5A224.5 224.5 0 0 1 501.3 1279.1L479.2 1256.6A193 193 0 0 0 482.3 1253.5Z" fill="#472b79"/>
<path d="M502.1 1278.3A224.5 224.5 0 0 1 498.5 1281.8L476.8 1258.9A193 193 0 0 0 480 1255.9Z" fill="#44357e"/>
<path d="M499.3 1281A224.5 224.5 0 0 1 495.6 1284.5L474.3 1261.2A193 193 0 0 0 477.5 1258.2Z" fill="#433a81"/>
<path d="M496.4 1283.7A224.5 224.5 0 0 1 492.7 1287.1L471.8 1263.5A193 193 0 0 0 475.1 1260.5Z" fill="#433b82"/>
<path d="M493.5 1286.3A224.5 224.5 0 0 1 489.7 1289.7L469.3 1265.7A193 193 0 0 0 472.6 1262.8Z" fill="#433c83"/>
<path d="M490.6 1288.9A224.5 224.5 0 0 1 486.7 1292.2L466.7 1267.8A193 193 0 0 0 470.1 1265Z" fill="#423f84"/>
<path d="M487.6 1291.4A224.5 224.5 0 0 1 483.6 1294.6L464.1 1270A193 193 0 0 0 467.5 1267.2Z" fill="#424186"/>
<path d="M484.6 1293.9A224.5 224.5 0 0 1 480.6 1297L461.4 1272A193 193 0 0 0 464.9 1269.3Z" fill="#414587"/>
<path d="M481.5 1296.3A224.5 224.5 0 0 1 477.4 1299.4L458.7 1274A193 193 0 0 0 462.2 1271.4Z" fill="#3f4888"/>
<path d="M478.4 1298.7A224.5 224.5 0 0 1 474.2 1301.7L456 1276A193 193 0 0 0 459.5 1273.4Z" fill="#3e4a88"/>
<path d="M475.2 1301A224.5 224.5 0 0 1 471 1303.9L453.2 1277.9A193 193 0 0 0 456.8 1275.4Z" fill="#3d4d89"/>
<path d="M472 1303.3A224.5 224.5 0 0 1 467.8 1306.1L450.4 1279.8A193 193 0 0 0 454.1 1277.4Z" fill="#3c4f8a"/>
<path d="M468.8 1305.5A224.5 224.5 0 0 1 464.5 1308.3L447.6 1281.7A193 193 0 0 0 451.3 1279.3Z" fill="#3b518a"/>
<path d="M465.5 1307.6A224.5 224.5 0 0 1 461.2 1310.3L444.8 1283.4A193 193 0 0 0 448.5 1281.1Z" fill="#3b518a"/>
<path d="M462.2 1309.7A224.5 224.5 0 0 1 457.8 1312.3L441.9 1285.2A193 193 0 0 0 445.6 1282.9Z" fill="#3b528a"/>
<path d="M458.8 1311.7A224.5 224.5 0 0 1 454.4 1314.3L438.9 1286.8A193 193 0 0 0 442.7 1284.7Z" fill="#3b528a"/>
<path d="M455.4 1313.7A224.5 224.5 0 0 1 451 1316.2L436 1288.5A193 193 0 0 0 439.8 1286.3Z" fill="#3b528a"/>
<path d="M452 1315.6A224.5 224.5 0 0 1 447.5 1318L433 1290A193 193 0 0 0 436.9 1288Z" fill="#3a538a"/>
<path d="M448.6 1317.5A224.5 224.5 0 0 1 444 1319.8L430 1291.6A193 193 0 0 0 433.9 1289.6Z" fill="#3a548a"/>
<path d="M445.1 1319.3A224.5 224.5 0 0 1 440.5 1321.5L427 1293A193 193 0 0 0 430.9 1291.1Z" fill="#3a548b"/>
<path d="M441.6 1321A224.5 224.5 0 0 1 436.9 1323.1L423.9 1294.5A193 193 0 0 0 427.9 1292.6Z" fill="#39558b"/>
<path d="M438 1322.7A224.5 224.5 0 0 1 433.4 1324.7L420.8 1295.8A193 193 0 0 0 424.8 1294Z" fill="#39568b"/>
<path d="M434.4 1324.3A224.5 224.5 0 0 1 429.8 1326.3L417.7 1297.1A193 193 0 0 0 421.8 1295.4Z" fill="#39568b"/>
<path d="M430.8 1325.8A224.5 224.5 0 0 1 426.1 1327.7L414.6 1298.4A193 193 0 0 0 418.7 1296.7Z" fill="#39578b"/>
<path d="M427.2 1327.3A224.5 224.5 0 0 1 422.5 1329.1L411.5 1299.6A193 193 0 0 0 415.6 1298Z" fill="#39578b"/>
<path d="M423.6 1328.7A224.5 224.5 0 0 1 418.8 1330.5L408.3 1300.7A193 193 0 0 0 412.4 1299.2Z" fill="#38578b"/>
<path d="M419.9 1330.1A224.5 224.5 0 0 1 415.1 1331.7L405.1 1301.8A193 193 0 0 0 409.3 1300.4Z" fill="#37598c"/>
<path d="M416.2 1331.3A224.5 224.5 0 0 1 411.3 1332.9L401.9 1302.9A193 193 0 0 0 406.1 1301.5Z" fill="#365d8c"/>
<path d="M412.5 1332.6A224.5 224.5 0 0 1 407.6 1334.1L398.7 1303.8A193 193 0 0 0 402.9 1302.6Z" fill="#34608d"/>
<path d="M408.7 1333.7A224.5 224.5 0 0 1 403.8 1335.1L395.5 1304.8A193 193 0 0 0 399.7 1303.6Z" fill="#33658d"/>
<path d="M404.9 1334.8A224.5 224.5 0 0 1 400 1336.1L392.2 1305.6A193 193 0 0 0 396.4 1304.5Z" fill="#31698d"/>
<path d="M401.2 1335.9A224.5 224.5 0 0 1 396.2 1337.1L388.9 1306.4A193 193 0 0 0 393.2 1305.4Z" fill="#2f6d8e"/>
<path d="M397.4 1336.8A224.5 224.5 0 0 1 392.4 1338L385.6 1307.2A193 193 0 0 0 389.9 1306.2Z" fill="#2d718e"/>
<path d="M393.6 1337.7A224.5 224.5 0 0 1 388.6 1338.8L382.3 1307.9A193 193 0 0 0 386.6 1307Z" fill="#2b758e"/>
<path d="M389.7 1338.5A224.5 224.5 0 0 1 384.7 1339.5L379 1308.5A193 193 0 0 0 383.3 1307.7Z" fill="#2a778e"/>
<path d="M385.9 1339.3A224.5 224.5 0 0 1 380.9 1340.2L375.7 1309.1A193 193 0 0 0 380 1308.3Z" fill="#2a788e"/>
<path d="M382 1340A224.5 224.5 0 0 1 377 1340.8L372.4 1309.6A193 193 0 0 0 376.7 1308.9Z" fill="#297a8e"/>
<path d="M378.2 1340.6A224.5 224.5 0 0 1 373.1 1341.3L369.1 1310.1A193 193 0 0 0 373.4 1309.5Z" fill="#27818d"/>
<path d="M374.3 1341.2A224.5 224.5 0 0 1 369.2 1341.8L365.7 1310.5A193 193 0 0 0 370.1 1310Z" fill="#248a8d"/>
<path d="M370.4 1341.7A224.5 224.5 0 0 1 365.3 1342.2L362.4 1310.8A193 193 0 0 0 366.7 1310.4Z" fill="#21928c"/>
<path d="M366.5 1342.1A224.5 224.5 0 0 1 361.4 1342.5L359 1311.1A193 193 0 0 0 363.4 1310.7Z" fill="#21958a"/>
<path d="M362.6 1342.4A224.5 224.5 0 0 1 357.5 1342.8L355.6 1311.4A193 193 0 0 0 360 1311.1Z" fill="#21978a"/>
<path d="M358.7 1342.7A224.5 224.5 0 0 1 353.6 1343L352.3 1311.5A193 193 0 0 0 356.7 1311.3Z" fill="#219b89"/>
<path d="M354.8 1343A224.5 224.5 0 0 1 349.7 1343.1L348.9 1311.6A193 193 0 0 0 353.3 1311.5Z" fill="#22a087"/>
<path d="M350.9 1343.1A224.5 224.5 0 0 1 345.8 1343.2L345.5 1311.7A193 193 0 0 0 349.9 1311.6Z" fill="#22a585"/>
<path d="M346.9 1343.2A224.5 224.5 0 0 1 341.8 1343.2L342.2 1311.7A193 193 0 0 0 346.6 1311.7Z" fill="#22a884"/>
<path d="M343 1343.2A224.5 224.5 0 0 1 337.9 1343.1L338.8 1311.6A193 193 0 0 0 343.2 1311.7Z" fill="#22a784"/>
<path d="M339.1 1343.1A224.5 224.5 0 0 1 334 1343L335.4 1311.5A193 193 0 0 0 339.8 1311.7Z" fill="#22a585"/>
<path d="M335.2 1343A224.5 224.5 0 0 1 330.1 1342.8L332.1 1311.3A193 193 0 0 0 336.5 1311.5Z" fill="#22a286"/>
<path d="M331.3 1342.8A224.5 224.5 0 0 1 326.2 1342.5L328.7 1311.1A193 193 0 0 0 333.1 1311.4Z" fill="#229e87"/>
<path d="M327.4 1342.6A224.5 224.5 0 0 1 322.3 1342.1L325.4 1310.8A193 193 0 0 0 329.7 1311.2Z" fill="#219a89"/>
<path d="M323.5 1342.2A224.5 224.5 0 0 1 318.4 1341.7L322 1310.4A193 193 0 0 0 326.4 1310.9Z" fill="#21968a"/>
<path d="M319.6 1341.8A224.5 224.5 0 0 1 314.5 1341.2L318.7 1310A193 193 0 0 0 323 1310.5Z" fill="#21938b"/>
<path d="M315.7 1341.4A224.5 224.5 0 0 1 310.6 1340.7L315.3 1309.5A193 193 0 0 0 319.7 1310.1Z" fill="#21918c"/>
<path d="M311.8 1340.8A224.5 224.5 0 0 1 306.8 1340.1L312 1309A193 193 0 0 0 316.3 1309.7Z" fill="#21918c"/>
<path d="M307.9 1340.2A224.5 224.5 0 0 1 302.9 1339.4L308.7 1308.4A193 193 0 0 0 313 1309.2Z" fill="#228e8c"/>
<path d="M304.1 1339.6A224.5 224.5 0 0 1 299.1 1338.6L305.4 1307.8A193 193 0 0 0 309.7 1308.6Z" fill="#24898d"/>
<path d="M300.2 1338.8A224.5 224.5 0 0 1 295.2 1337.8L302.1 1307.1A193 193 0 0 0 306.4 1308Z" fill="#27828d"/>
<path d="M296.4 1338A224.5 224.5 0 0 1 291.4 1336.9L298.8 1306.3A193 193 0 0 0 303.1 1307.3Z" fill="#297a8e"/>
<path d="M292.6 1337.2A224.5 224.5 0 0 1 287.6 1336L295.6 1305.5A193 193 0 0 0 299.8 1306.5Z" fill="#2c738e"/>
<path d="M288.7 1336.2A224.5 224.5 0 0 1 283.8 1334.9L292.3 1304.6A193 193 0 0 0 296.5 1305.7Z" fill="#2e6e8e"/>
<path d="M285 1335.2A224.5 224.5 0 0 1 280.1 1333.8L289.1 1303.7A193 193 0 0 0 293.3 1304.9Z" fill="#2f6c8e"/>
<path d="M281.2 1334.2A224.5 224.5 0 0 1 276.3 1332.7L285.8 1302.7A193 193 0 0 0 290 1303.9Z" fill="#2f6c8e"/>
<path d="M277.4 1333A224.5 224.5 0 0 1 272.6 1331.5L282.6 1301.6A193 193 0 0 0 286.8 1303Z" fill="#2f6c8e"/>
<path d="M273.7 1331.8A224.5 224.5 0 0 1 268.9 1330.2L279.5 1300.5A193 193 0 0 0 283.6 1301.9Z" fill="#2f6d8e"/>
<path d="M270 1330.6A224.5 224.5 0 0 1 265.2 1328.8L276.3 1299.4A193 193 0 0 0 280.4 1300.9Z" fill="#2e6f8e"/>
<path d="M266.3 1329.3A224.5 224.5 0 0 1 261.6 1327.4L273.2 1298.1A193 193 0 0 0 277.2 1299.7Z" fill="#2e708e"/>
<path d="M262.7 1327.9A224.5 224.5 0 0 1 257.9 1326L270 1296.9A193 193 0 0 0 274.1 1298.5Z" fill="#2d718e"/>
<path d="M259 1326.4A224.5 224.5 0 0 1 254.3 1324.4L266.9 1295.6A193 193 0 0 0 271 1297.3Z" fill="#2d728e"/>
<path d="M255.4 1324.9A224.5 224.5 0 0 1 250.7 1322.8L263.9 1294.2A193 193 0 0 0 267.9 1296Z" fill="#2c738e"/>
<path d="M251.8 1323.3A224.5 224.5 0 0 1 247.2 1321.2L260.8 1292.8A193 193 0 0 0 264.8 1294.6Z" fill="#2c738e"/>
<path d="M248.3 1321.7A224.5 224.5 0 0 1 243.7 1319.4L257.8 1291.3A193 193 0 0 0 261.7 1293.2Z" fill="#2b768e"/>
<path d="M244.7 1320A224.5 224.5 0 0 1 240.2 1317.7L254.8 1289.7A193 193 0 0 0 258.7 1291.7Z" fill="#297a8e"/>
<path d="M241.2 1318.2A224.5 224.5 0 0 1 236.7 1315.8L251.8 1288.2A193 193 0 0 0 255.7 1290.2Z" fill="#27818d"/>
<path d="M237.8 1316.4A224.5 224.5 0 0 1 233.3 1313.9L248.9 1286.5A193 193 0 0 0 252.7 1288.6Z" fill="#24888d"/>
<path d="M234.3 1314.5A224.5 224.5 0 0 1 229.9 1311.9L246 1284.8A193 193 0 0 0 249.7 1287Z" fill="#21908c"/>
<path d="M230.9 1312.5A224.5 224.5 0 0 1 226.6 1309.9L243.1 1283.1A193 193 0 0 0 246.8 1285.3Z" fill="#21978a"/>
<path d="M227.6 1310.5A224.5 224.5 0 0 1 223.2 1307.8L240.2 1281.3A193 193 0 0 0 243.9 1283.6Z" fill="#229d88"/>
<path d="M224.2 1308.5A224.5 224.5 0 0 1 220 1305.7L237.4 1279.5A193 193 0 0 0 241.1 1281.8Z" fill="#22a186"/>
<path d="M220.9 1306.3A224.5 224.5 0 0 1 216.7 1303.5L234.6 1277.6A193 193 0 0 0 238.2 1280Z" fill="#22a386"/>
<path d="M217.7 1304.2A224.5 224.5 0 0 1 213.5 1301.2L231.9 1275.6A193 193 0 0 0 235.4 1278.1Z" fill="#22a485"/>
<path d="M214.5 1301.9A224.5 224.5 0 0 1 210.3 1298.9L229.1 1273.6A193 193 0 0 0 232.7 1276.2Z" fill="#22a784"/>
<path d="M211.3 1299.6A224.5 224.5 0 0 1 207.2 1296.6L226.4 1271.6A193 193 0 0 0 229.9 1274.2Z" fill="#28ac81"/>
<path d="M208.2 1297.3A224.5 224.5 0 0 1 204.1 1294.2L223.8 1269.5A193 193 0 0 0 227.2 1272.2Z" fill="#30b27c"/>
<path d="M205.1 1294.9A224.5 224.5 0 0 1 201.1 1291.7L221.2 1267.4A193 193 0 0 0 224.6 1270.2Z" fill="#3ab876"/>
<path d="M202 1292.4A224.5 224.5 0 0 1 198.1 1289.2L218.6 1265.2A193 193 0 0 0 222 1268.1Z" fill="#43be70"/>
<path d="M199 1289.9A224.5 224.5 0 0 1 195.1 1286.6L216.1 1263A193 193 0 0 0 219.4 1265.9Z" fill="#51c369"/>
<path d="M196 1287.4A224.5 224.5 0 0 1 192.2 1284L213.6 1260.8A193 193 0 0 0 216.8 1263.7Z" fill="#5dc762"/>
<path d="M193.1 1284.7A224.5 224.5 0 0 1 189.4 1281.3L211.1 1258.5A193 193 0 0 0 214.3 1261.4Z" fill="#66ca5d"/>
<path d="M190.2 1282.1A224.5 224.5 0 0 1 186.6 1278.5L208.7 1256.1A193 193 0 0 0 211.8 1259.2Z" fill="#6acc5a"/>
<path d="M187.4 1279.4A224.5 224.5 0 0 1 183.8 1275.8L206.3 1253.7A193 193 0 0 0 209.4 1256.8Z" fill="#69cb5b"/>
<path d="M184.6 1276.6A224.5 224.5 0 0 1 181.1 1273L204 1251.3A193 193 0 0 0 207 1254.5Z" fill="#65ca5d"/>
<path d="M181.9 1273.8A224.5 224.5 0 0 1 178.4 1270.1L201.7 1248.8A193 193 0 0 0 204.7 1252Z" fill="#60c860"/>
<path d="M179.2 1270.9A224.5 224.5 0 0 1 175.8 1267.2L199.4 1246.3A193 193 0 0 0 202.4 1249.6Z" fill="#5bc763"/>
<path d="M176.6 1268A224.5 224.5 0 0 1 173.2 1264.2L197.2 1243.8A193 193 0 0 0 200.1 1247.1Z" fill="#55c566"/>
<path d="M174 1265.1A224.5 224.5 0 0 1 170.7 1261.2L195.1 1241.2A193 193 0 0 0 197.9 1244.6Z" fill="#51c369"/>
<path d="M171.5 1262.1A224.5 224.5 0 0 1 168.3 1258.1L192.9 1238.6A193 193 0 0 0 195.7 1242Z" fill="#4fc36a"/>
<path d="M169 1259.1A224.5 224.5 0 0 1 165.9 1255.1L190.9 1235.9A193 193 0 0 0 193.6 1239.4Z" fill="#4dc26b"/>
<path d="M166.6 1256A224.5 224.5 0 0 1 163.5 1251.9L188.9 1233.2A193 193 0 0 0 191.5 1236.7Z" fill="#45bf6f"/>
<path d="M164.2 1252.9A224.5 224.5 0 0 1 161.2 1248.7L186.9 1230.5A193 193 0 0 0 189.5 1234Z" fill="#3ebb74"/>
<path d="M161.9 1249.7A224.5 224.5 0 0 1 159 1245.5L185 1227.7A193 193 0 0 0 187.5 1231.3Z" fill="#35b579"/>
<path d="M159.6 1246.5A224.5 224.5 0 0 1 156.8 1242.3L183.1 1224.9A193 193 0 0 0 185.5 1228.6Z" fill="#2caf7e"/>
<path d="M157.4 1243.3A224.5 224.5 0 0 1 154.6 1239L181.2 1222.1A193 193 0 0 0 183.6 1225.8Z" fill="#23a983"/>
<path d="M155.3 1240A224.5 224.5 0 0 1 152.6 1235.7L179.5 1219.3A193 193 0 0 0 181.8 1223Z" fill="#22a485"/>
<path d="M153.2 1236.7A224.5 224.5 0 0 1 150.6 1232.3L177.7 1216.4A193 193 0 0 0 180 1220.1Z" fill="#22a286"/>
<path d="M151.2 1233.3A224.5 224.5 0 0 1 148.6 1228.9L176.1 1213.4A193 193 0 0 0 178.2 1217.2Z" fill="#22a186"/>
<path d="M149.2 1229.9A224.5 224.5 0 0 1 146.7 1225.5L174.4 1210.5A193 193 0 0 0 176.6 1214.3Z" fill="#229f87"/>
<path d="M147.3 1226.5A224.5 224.5 0 0 1 144.9 1222L172.9 1207.5A193 193 0 0 0 174.9 1211.4Z" fill="#219b88"/>
<path d="M145.4 1223.1A224.5 224.5 0 0 1 143.1 1218.5L171.3 1204.5A193 193 0 0 0 173.3 1208.4Z" fill="#21968a"/>
<path d="M143.6 1219.6A224.5 224.5 0 0 1 141.4 1215L169.9 1201.5A193 193 0 0 0 171.8 1205.4Z" fill="#21918c"/>
<path d="M141.9 1216.1A224.5 224.5 0 0 1 139.8 1211.4L168.4 1198.4A193 193 0 0 0 170.3 1202.4Z" fill="#238a8d"/>
<path d="M140.2 1212.5A224.5 224.5 0 0 1 138.2 1207.9L167.1 1195.3A193 193 0 0 0 168.9 1199.3Z" fill="#26838d"/>
<path d="M138.6 1208.9A224.5 224.5 0 0 1 136.6 1204.3L165.8 1192.2A193 193 0 0 0 167.5 1196.3Z" fill="#287d8e"/>
<path d="M137.1 1205.3A224.5 224.5 0 0 1 135.2 1200.6L164.5 1189.1A193 193 0 0 0 166.2 1193.2Z" fill="#2a788e"/>
<path d="M135.6 1201.7A224.5 224.5 0 0 1 133.8 1197L163.3 1186A193 193 0 0 0 164.9 1190.1Z" fill="#2b758e"/>
<path d="M134.2 1198.1A224.5 224.5 0 0 1 132.4 1193.3L162.2 1182.8A193 193 0 0 0 163.7 1186.9Z" fill="#2c738e"/>
<path d="M132.8 1194.4A224.5 224.5 0 0 1 131.2 1189.6L161.1 1179.6A193 193 0 0 0 162.5 1183.8Z" fill="#2c738e"/>
<path d="M131.6 1190.7A224.5 224.5 0 0 1 130 1185.8L160 1176.4A193 193 0 0 0 161.4 1180.6Z" fill="#2c738e"/>
<path d="M130.3 1187A224.5 224.5 0 0 1 128.8 1182.1L159.1 1173.2A193 193 0 0 0 160.3 1177.4Z" fill="#2c738e"/>
<path d="M129.2 1183.2A224.5 224.5 0 0 1 127.8 1178.3L158.1 1170A193 193 0 0 0 159.3 1174.2Z" fill="#2c738e"/>
<path d="M128.1 1179.4A224.5 224.5 0 0 1 126.8 1174.5L157.3 1166.7A193 193 0 0 0 158.4 1170.9Z" fill="#2c738e"/>
<path d="M127 1175.7A224.5 224.5 0 0 1 125.8 1170.7L156.5 1163.4A193 193 0 0 0 157.5 1167.7Z" fill="#2c738e"/>
<path d="M126.1 1171.9A224.5 224.5 0 0 1 124.9 1166.9L155.7 1160.1A193 193 0 0 0 156.7 1164.4Z" fill="#2c738e"/>
<path d="M125.2 1168.1A224.5 224.5 0 0 1 124.1 1163.1L155 1156.8A193 193 0 0 0 155.9 1161.1Z" fill="#2c738e"/>
<path d="M124.4 1164.2A224.5 224.5 0 0 1 123.4 1159.2L154.4 1153.5A193 193 0 0 0 155.2 1157.8Z" fill="#2c738e"/>
<path d="M123.6 1160.4A224.5 224.5 0 0 1 122.7 1155.4L153.8 1150.2A193 193 0 0 0 154.6 1154.5Z" fill="#2c748e"/>
<path d="M122.9 1156.5A224.5 224.5 0 0 1 122.1 1151.5L153.3 1146.9A193 193 0 0 0 154 1151.2Z" fill="#2c748e"/>
<path d="M122.3 1152.7A224.5 224.5 0 0 1 121.6 1147.6L152.8 1143.6A193 193 0 0 0 153.4 1147.9Z" fill="#2b758e"/>
<path d="M121.7 1148.8A224.5 224.5 0 0 1 121.1 1143.7L152.4 1140.2A193 193 0 0 0 152.9 1144.6Z" fill="#2b778e"/>
<path d="M121.2 1144.9A224.5 224.5 0 0 1 120.7 1139.8L152.1 1136.9A193 193 0 0 0 152.5 1141.2Z" fill="#2a788e"/>
<path d="M120.8 1141A224.5 224.5 0 0 1 120.4 1135.9L151.8 1133.5A193 193 0 0 0 152.2 1137.9Z" fill="#2a798e"/>
<path d="M120.5 1137.1A224.5 224.5 0 0 1 120.1 1132L151.5 1130.1A193 193 0 0 0 151.8 1134.5Z" fill="#297a8e"/>
<path d="M120.2 1133.2A224.5 224.5 0 0 1 119.9 1128.1L151.4 1126.8A193 193 0 0 0 151.6 1131.2Z" fill="#297b8e"/>
<path d="M119.9 1129.3A224.5 224.5 0 0 1 119.8 1124.2L151.3 1123.4A193 193 0 0 0 151.4 1127.8Z" fill="#297c8e"/>
<path d="M119.8 1125.4A224.5 224.5 0 0 1 119.7 1120.3L151.2 1120A193 193 0 0 0 151.3 1124.4Z" fill="#287d8e"/>
<path d="M119.7 1121.4A224.5 224.5 0 0 1 119.7 1116.3L151.2 1116.7A193 193 0 0 0 151.2 1121.1Z" fill="#287d8e"/>
<path d="M119.7 1117.5A224.5 224.5 0 0 1 119.8 1112.4L151.3 1113.3A193 193 0 0 0 151.2 1117.7Z" fill="#287d8e"/>
<path d="M119.8 1113.6A224.5 224.5 0 0 1 119.9 1108.5L151.4 1109.9A193 193 0 0 0 151.2 1114.3Z" fill="#287f8d"/>
<path d="M119.9 1109.7A224.5 224.5 0 0 1 120.1 1104.6L151.6 1106.6A193 193 0 0 0 151.4 1111Z" fill="#27808d"/>
<path d="M120.1 1105.8A224.5 224.5 0 0 1 120.4 1100.7L151.8 1103.2A193 193 0 0 0 151.5 1107.6Z" fill="#26828d"/>
<path d="M120.3 1101.9A224.5 224.5 0 0 1 120.8 1096.8L152.1 1099.9A193 193 0 0 0 151.7 1104.2Z" fill="#26848d"/>
<path d="M120.7 1098A224.5 224.5 0 0 1 121.2 1092.9L152.5 1096.5A193 193 0 0 0 152 1100.9Z" fill="#26848d"/>
<path d="M121.1 1094.1A224.5 224.5 0 0 1 121.7 1089L152.9 1093.2A193 193 0 0 0 152.4 1097.5Z" fill="#26848d"/>
<path d="M121.5 1090.2A224.5 224.5 0 0 1 122.2 1085.1L153.4 1089.8A193 193 0 0 0 152.8 1094.2Z" fill="#26838d"/>
<path d="M122.1 1086.3A224.5 224.5 0 0 1 122.8 1081.3L153.9 1086.5A193 193 0 0 0 153.2 1090.8Z" fill="#27808d"/>
<path d="M122.7 1082.4A224.5 224.5 0 0 1 123.5 1077.4L154.5 1083.2A193 193 0 0 0 153.7 1087.5Z" fill="#287d8e"/>
<path d="M123.3 1078.6A224.5 224.5 0 0 1 124.3 1073.6L155.1 1079.9A193 193 0 0 0 154.3 1084.2Z" fill="#297a8e"/>
<path d="M124.1 1074.7A224.5 224.5 0 0 1 125.1 1069.7L155.8 1076.6A193 193 0 0 0 154.9 1080.9Z" fill="#2b768e"/>
<path d="M124.9 1070.9A224.5 224.5 0 0 1 126 1065.9L156.6 1073.3A193 193 0 0 0 155.6 1077.6Z" fill="#2d728e"/>
<path d="M125.7 1067.1A224.5 224.5 0 0 1 126.9 1062.1L157.4 1070.1A193 193 0 0 0 156.4 1074.3Z" fill="#2e6f8e"/>
<path d="M126.7 1063.2A224.5 224.5 0 0 1 128 1058.3L158.3 1066.8A193 193 0 0 0 157.2 1071Z" fill="#2f6c8e"/>
<path d="M127.7 1059.5A224.5 224.5 0 0 1 129.1 1054.6L159.2 1063.6A193 193 0 0 0 158 1067.8Z" fill="#31698d"/>
<path d="M128.7 1055.7A224.5 224.5 0 0 1 130.2 1050.8L160.2 1060.3A193 193 0 0 0 159 1064.5Z" fill="#31678d"/>
<path d="M129.9 1051.9A224.5 224.5 0 0 1 131.4 1047.1L161.3 1057.1A193 193 0 0 0 159.9 1061.3Z" fill="#32678d"/>
<path d="M131.1 1048.2A224.5 224.5 0 0 1 132.7 1043.4L162.4 1054A193 193 0 0 0 161 1058.1Z" fill="#33658d"/>
<path d="M132.3 1044.5A224.5 224.5 0 0 1 134.1 1039.7L163.5 1050.8A193 193 0 0 0 162 1054.9Z" fill="#355f8d"/>
<path d="M133.6 1040.8A224.5 224.5 0 0 1 135.5 1036.1L164.8 1047.7A193 193 0 0 0 163.2 1051.7Z" fill="#39568b"/>
<path d="M135 1037.2A224.5 224.5 0 0 1 136.9 1032.4L166 1044.5A193 193 0 0 0 164.4 1048.6Z" fill="#3d4c89"/>
<path d="M136.5 1033.5A224.5 224.5 0 0 1 138.5 1028.8L167.3 1041.4A193 193 0 0 0 165.6 1045.5Z" fill="#424286"/>
<path d="M138 1029.9A224.5 224.5 0 0 1 140.1 1025.2L168.7 1038.4A193 193 0 0 0 166.9 1042.4Z" fill="#443780"/>
<path d="M139.6 1026.3A224.5 224.5 0 0 1 141.7 1021.7L170.1 1035.3A193 193 0 0 0 168.3 1039.3Z" fill="#45307c"/>
<path d="M141.2 1022.8A224.5 224.5 0 0 1 143.5 1018.2L171.6 1032.3A193 193 0 0 0 169.7 1036.2Z" fill="#462e7a"/>
<path d="M142.9 1019.2A224.5 224.5 0 0 1 145.2 1014.7L173.2 1029.3A193 193 0 0 0 171.2 1033.2Z" fill="#462d7a"/>
<path d="M144.7 1015.7A224.5 224.5 0 0 1 147.1 1011.2L174.7 1026.3A193 193 0 0 0 172.7 1030.2Z" fill="#462d7a"/>
<path d="M146.5 1012.3A224.5 224.5 0 0 1 149 1007.8L176.4 1023.4A193 193 0 0 0 174.3 1027.2Z" fill="#462c7a"/>
<path d="M148.4 1008.8A224.5 224.5 0 0 1 151 1004.4L178.1 1020.5A193 193 0 0 0 175.9 1024.2Z" fill="#462b79"/>
<path d="M150.4 1005.4A224.5 224.5 0 0 1 153 1001.1L179.8 1017.6A193 193 0 0 0 177.6 1021.3Z" fill="#472b79"/>
<path d="M152.4 1002.1A224.5 224.5 0 0 1 155.1 997.7L181.6 1014.7A193 193 0 0 0 179.3 1018.4Z" fill="#472a79"/>
<path d="M154.4 998.7A224.5 224.5 0 0 1 157.2 994.5L183.4 1011.9A193 193 0 0 0 181.1 1015.6Z" fill="#462c79"/>
<path d="M156.6 995.4A224.5 224.5 0 0 1 159.4 991.2L185.3 1009.1A193 193 0 0 0 182.9 1012.7Z" fill="#45327d"/>
<path d="M158.7 992.2A224.5 224.5 0 0 1 161.7 988L187.3 1006.4A193 193 0 0 0 184.8 1009.9Z" fill="#433a82"/>
<path d="M161 989A224.5 224.5 0 0 1 164 984.8L189.3 1003.6A193 193 0 0 0 186.7 1007.2Z" fill="#414587"/>
<path d="M163.3 985.8A224.5 224.5 0 0 1 166.3 981.7L191.3 1000.9A193 193 0 0 0 188.7 1004.4Z" fill="#3c4f8a"/>
<path d="M165.6 982.7A224.5 224.5 0 0 1 168.7 978.6L193.4 998.3A193 193 0 0 0 190.7 1001.7Z" fill="#375a8c"/>
<path d="M168 979.6A224.5 224.5 0 0 1 171.2 975.6L195.5 995.7A193 193 0 0 0 192.7 999.1Z" fill="#33638d"/>
<path d="M170.5 976.5A224.5 224.5 0 0 1 173.7 972.6L197.7 993.1A193 193 0 0 0 194.8 996.5Z" fill="#306b8d"/>
<path d="M173 973.5A224.5 224.5 0 0 1 176.3 969.6L199.9 990.6A193 193 0 0 0 197 993.9Z" fill="#2d708e"/>
<path d="M175.5 970.5A224.5 224.5 0 0 1 178.9 966.7L202.1 988.1A193 193 0 0 0 199.2 991.3Z" fill="#2c738e"/>
<path d="M178.2 967.6A224.5 224.5 0 0 1 181.6 963.9L204.4 985.6A193 193 0 0 0 201.5 988.8Z" fill="#2c748e"/>
<path d="M180.8 964.7A224.5 224.5 0 0 1 184.4 961.1L206.8 983.2A193 193 0 0 0 203.7 986.3Z" fill="#2b768e"/>
<path d="M183.5 961.9A224.5 224.5 0 0 1 187.1 958.3L209.2 980.8A193 193 0 0 0 206.1 983.9Z" fill="#29798e"/>
<path d="M186.3 959.1A224.5 224.5 0 0 1 189.9 955.6L211.6 978.5A193 193 0 0 0 208.4 981.5Z" fill="#287e8e"/>
<path d="M189.1 956.4A224.5 224.5 0 0 1 192.8 952.9L214.1 976.2A193 193 0 0 0 210.9 979.2Z" fill="#26828d"/>
<path d="M192 953.7A224.5 224.5 0 0 1 195.7 950.3L216.6 973.9A193 193 0 0 0 213.3 976.9Z" fill="#25878d"/>
<path d="M194.9 951.1A224.5 224.5 0 0 1 198.7 947.7L219.1 971.7A193 193 0 0 0 215.8 974.6Z" fill="#238b8c"/>
<path d="M197.8 948.5A224.5 224.5 0 0 1 201.7 945.2L221.7 969.6A193 193 0 0 0 218.3 972.4Z" fill="#228f8c"/>
<path d="M200.8 946A224.5 224.5 0 0 1 204.8 942.8L224.3 967.4A193 193 0 0 0 220.9 970.2Z" fill="#21918c"/>
<path d="M203.8 943.5A224.5 224.5 0 0 1 207.8 940.4L227 965.4A193 193 0 0 0 223.5 968.1Z" fill="#21918c"/>
<path d="M206.9 941.1A224.5 224.5 0 0 1 211 938L229.7 963.4A193 193 0 0 0 226.2 966Z" fill="#21938b"/>
<path d="M210 938.7A224.5 224.5 0 0 1 214.2 935.7L232.4 961.4A193 193 0 0 0 228.9 964Z" fill="#21978a"/>
<path d="M213.2 936.4A224.5 224.5 0 0 1 217.4 933.5L235.2 959.5A193 193 0 0 0 231.6 962Z" fill="#219c88"/>
<path d="M216.4 934.1A224.5 224.5 0 0 1 220.6 931.3L238 957.6A193 193 0 0 0 234.3 960Z" fill="#22a286"/>
<path d="M219.6 931.9A224.5 224.5 0 0 1 223.9 929.1L240.8 955.7A193 193 0 0 0 237.1 958.1Z" fill="#22a784"/>
<path d="M222.9 929.8A224.5 224.5 0 0 1 227.2 927.1L243.6 954A193 193 0 0 0 239.9 956.3Z" fill="#27ac81"/>
<path d="M226.2 927.7A224.5 224.5 0 0 1 230.6 925.1L246.5 952.2A193 193 0 0 0 242.8 954.5Z" fill="#2bae7f"/>
<path d="M229.6 925.7A224.5 224.5 0 0 1 234 923.1L249.5 950.6A193 193 0 0 0 245.7 952.7Z" fill="#2caf7e"/>
<path d="M233 923.7A224.5 224.5 0 0 1 237.4 921.2L252.4 948.9A193 193 0 0 0 248.6 951.1Z" fill="#29ad80"/>
<path d="M236.4 921.8A224.5 224.5 0 0 1 240.9 919.4L255.4 947.4A193 193 0 0 0 251.5 949.4Z" fill="#24aa83"/>
<path d="M239.8 919.9A224.5 224.5 0 0 1 244.4 917.6L258.4 945.8A193 193 0 0 0 254.5 947.8Z" fill="#22a585"/>
<path d="M243.3 918.1A224.5 224.5 0 0 1 247.9 915.9L261.4 944.4A193 193 0 0 0 257.5 946.3Z" fill="#22a186"/>
<path d="M246.8 916.4A224.5 224.5 0 0 1 251.5 914.3L264.5 942.9A193 193 0 0 0 260.5 944.8Z" fill="#229e87"/>
<path d="M250.4 914.7A224.5 224.5 0 0 1 255 912.7L267.6 941.6A193 193 0 0 0 263.6 943.4Z" fill="#229d88"/>
<path d="M254 913.1A224.5 224.5 0 0 1 258.6 911.1L270.7 940.3A193 193 0 0 0 266.6 942Z" fill="#219b89"/>
<path d="M257.6 911.6A224.5 224.5 0 0 1 262.3 909.7L273.8 939A193 193 0 0 0 269.7 940.7Z" fill="#21948b"/>
<path d="M261.2 910.1A224.5 224.5 0 0 1 265.9 908.3L276.9 937.8A193 193 0 0 0 272.8 939.4Z" fill="#238a8d"/>
<path d="M264.8 908.7A224.5 224.5 0 0 1 269.6 906.9L280.1 936.7A193 193 0 0 0 276 938.2Z" fill="#27818d"/>
<path d="M268.5 907.3A224.5 224.5 0 0 1 273.3 905.7L283.3 935.6A193 193 0 0 0 279.1 937Z" fill="#297a8e"/>
<path d="M272.2 906.1A224.5 224.5 0 0 1 277.1 904.5L286.5 934.5A193 193 0 0 0 282.3 935.9Z" fill="#2a788e"/>
<path d="M275.9 904.8A224.5 224.5 0 0 1 280.8 903.3L289.7 933.6A193 193 0 0 0 285.5 934.8Z" fill="#2d728e"/>
<path d="M279.7 903.7A224.5 224.5 0 0 1 284.6 902.3L292.9 932.6A193 193 0 0 0 288.7 933.8Z" fill="#31678d"/>
<path d="M283.5 902.6A224.5 224.5 0 0 1 288.4 901.3L296.2 931.8A193 193 0 0 0 292 932.9Z" fill="#365c8c"/>
<path d="M287.2 901.5A224.5 224.5 0 0 1 292.2 900.3L299.5 931A193 193 0 0 0 295.2 932Z" fill="#3a548a"/>
<path d="M291 900.6A224.5 224.5 0 0 1 296 899.4L302.8 930.2A193 193 0 0 0 298.5 931.2Z" fill="#3b528a"/>
<path d="M294.8 899.7A224.5 224.5 0 0 1 299.8 898.6L306.1 929.5A193 193 0 0 0 301.8 930.4Z" fill="#3a558b"/>
<path d="M298.7 898.9A224.5 224.5 0 0 1 303.7 897.9L309.4 928.9A193 193 0 0 0 305.1 929.7Z" fill="#375a8c"/>
<path d="M302.5 898.1A224.5 224.5 0 0 1 307.5 897.2L312.7 928.3A193 193 0 0 0 308.4 929.1Z" fill="#35608d"/>
<path d="M306.4 897.4A224.5 224.5 0 0 1 311.4 896.6L316 927.8A193 193 0 0 0 311.7 928.5Z" fill="#33638d"/>
<path d="M310.2 896.8A224.5 224.5 0 0 1 315.3 896.1L319.3 927.3A193 193 0 0 0 315 927.9Z" fill="#33658d"/>
<path d="M314.1 896.2A224.5 224.5 0 0 1 319.2 895.6L322.7 926.9A193 193 0 0 0 318.3 927.4Z" fill="#306a8d"/>
<path d="M318 895.7A224.5 224.5 0 0 1 323.1 895.2L326 926.6A193 193 0 0 0 321.7 927Z" fill="#2c738e"/>
<path d="M321.9 895.3A224.5 224.5 0 0 1 327 894.9L329.4 926.3A193 193 0 0 0 325 926.7Z" fill="#287d8e"/>
<path d="M325.8 895A224.5 224.5 0 0 1 330.9 894.6L332.8 926A193 193 0 0 0 328.4 926.3Z" fill="#26838d"/>
<path d="M329.7 894.7A224.5 224.5 0 0 1 334.8 894.4L336.1 925.9A193 193 0 0 0 331.7 926.1Z" fill="#25858d"/>
<path d="M333.6 894.4A224.5 224.5 0 0 1 338.7 894.3L339.5 925.8A193 193 0 0 0 335.1 925.9Z" fill="#228d8c"/>
<path d="M337.5 894.3A224.5 224.5 0 0 1 342.6 894.2L342.9 925.7A193 193 0 0 0 338.5 925.8Z" fill="#21978a"/>
<path d="M341.5 894.2A224.5 224.5 0 0 1 346.6 894.2L346.2 925.7A193 193 0 0 0 341.8 925.7Z" fill="#219c88"/>
<path d="M345.4 894.2A224.5 224.5 0 0 1 350.5 894.3L349.6 925.8A193 193 0 0 0 345.2 925.7Z" fill="#229e87"/>
<path d="M349.3 894.3A224.5 224.5 0 0 1 354.4 894.4L353 925.9A193 193 0 0 0 348.6 925.7Z" fill="#22a386"/>
<path d="M353.2 894.4A224.5 224.5 0 0 1 358.3 894.6L356.3 926.1A193 193 0 0 0 351.9 925.9Z" fill="#24a983"/>
<path d="M357.1 894.6A224.5 224.5 0 0 1 362.2 894.9L359.7 926.3A193 193 0 0 0 355.3 926Z" fill="#29ac80"/>
<path d="M361 894.8A224.5 224.5 0 0 1 366.1 895.3L363 926.6A193 193 0 0 0 358.7 926.2Z" fill="#2bae7f"/>
<path d="M364.9 895.2A224.5 224.5 0 0 1 370 895.7L366.4 927A193 193 0 0 0 362 926.5Z" fill="#33b47a"/>
<path d="M368.8 895.6A224.5 224.5 0 0 1 373.9 896.2L369.7 927.4A193 193 0 0 0 365.4 926.9Z" fill="#40bd72"/>
<path d="M372.7 896A224.5 224.5 0 0 1 377.8 896.7L373.1 927.9A193 193 0 0 0 368.7 927.3Z" fill="#58c665"/>
<path d="M376.6 896.6A224.5 224.5 0 0 1 381.6 897.3L376.4 928.4A193 193 0 0 0 372.1 927.7Z" fill="#74cf54"/>
<path d="M380.5 897.2A224.5 224.5 0 0 1 385.5 898L379.7 929A193 193 0 0 0 375.4 928.2Z" fill="#97d73f"/>
<path d="M384.3 897.8A224.5 224.5 0 0 1 389.3 898.8L383 929.6A193 193 0 0 0 378.7 928.8Z" fill="#b7de2a"/>
<path d="M388.2 898.6A224.5 224.5 0 0 1 393.2 899.6L386.3 930.3A193 193 0 0 0 382 929.4Z" fill="#d2e226"/>
<path d="M392 899.4A224.5 224.5 0 0 1 397 900.5L389.6 931.1A193 193 0 0 0 385.3 930.1Z" fill="#e3e425"/>
<path d="M395.8 900.2A224.5 224.5 0 0 1 400.8 901.4L392.8 931.9A193 193 0 0 0 388.6 930.9Z" fill="#eae525"/>
<path d="M399.7 901.2A224.5 224.5 0 0 1 404.6 902.5L396.1 932.8A193 193 0 0 0 391.9 931.7Z" fill="#e7e425"/>
<path d="M403.4 902.2A224.5 224.5 0 0 1 408.3 903.6L399.3 933.7A193 193 0 0 0 395.1 932.5Z" fill="#dfe325"/>
<path d="M407.2 903.2A224.5 224.5 0 0 1 412.1 904.7L402.6 934.7A193 193 0 0 0 398.4 933.5Z" fill="#d4e226"/>
<path d="M411 904.4A224.5 224.5 0 0 1 415.8 905.9L405.8 935.8A193 193 0 0 0 401.6 934.4Z" fill="#c7e026"/>
<path d="M414.7 905.6A224.5 224.5 0 0 1 419.5 907.2L408.9 936.9A193 193 0 0 0 404.8 935.5Z" fill="#bbdf27"/>
<path d="M418.4 906.8A224.5 224.5 0 0 1 423.2 908.6L412.1 938A193 193 0 0 0 408 936.5Z" fill="#b1dc2e"/>
<path d="M422.1 908.1A224.5 224.5 0 0 1 426.8 910L415.2 939.3A193 193 0 0 0 411.2 937.7Z" fill="#aadb32"/>
<path d="M425.7 909.5A224.5 224.5 0 0 1 430.5 911.4L418.4 940.5A193 193 0 0 0 414.3 938.9Z" fill="#a7da34"/>
<path d="M429.4 911A224.5 224.5 0 0 1 434.1 913L421.5 941.8A193 193 0 0 0 417.4 940.1Z" fill="#8fd543"/>
<path d="M433 912.5A224.5 224.5 0 0 1 437.7 914.6L424.5 943.2A193 193 0 0 0 420.5 941.4Z" fill="#6bcc5a"/>
<path d="M436.6 914.1A224.5 224.5 0 0 1 441.2 916.2L427.6 944.6A193 193 0 0 0 423.6 942.8Z" fill="#46c06f"/>
<path d="M440.1 915.7A224.5 224.5 0 0 1 444.7 918L430.6 946.1A193 193 0 0 0 426.7 944.2Z" fill="#31b27b"/>
<path d="M443.7 917.4A224.5 224.5 0 0 1 448.2 919.7L433.6 947.7A193 193 0 0 0 429.7 945.7Z" fill="#24a983"/>
<path d="M447.2 919.2A224.5 224.5 0 0 1 451.7 921.6L436.6 949.2A193 193 0 0 0 432.7 947.2Z" fill="#22a784"/>
<path d="M450.6 921A224.5 224.5 0 0 1 455.1 923.5L439.5 950.9A193 193 0 0 0 435.7 948.8Z" fill="#22a386"/>
<path d="M454.1 922.9A224.5 224.5 0 0 1 458.5 925.5L442.4 952.6A193 193 0 0 0 438.7 950.4Z" fill="#219c88"/>
<path d="M457.5 924.9A224.5 224.5 0 0 1 461.8 927.5L445.3 954.3A193 193 0 0 0 441.6 952.1Z" fill="#21928c"/>
<path d="M460.8 926.9A224.5 224.5 0 0 1 465.2 929.6L448.2 956.1A193 193 0 0 0 444.5 953.8Z" fill="#24888d"/>
<path d="M464.2 928.9A224.5 224.5 0 0 1 468.4 931.7L451 957.9A193 193 0 0 0 447.3 955.6Z" fill="#27808d"/>
<path d="M467.5 931.1A224.5 224.5 0 0 1 471.7 933.9L453.8 959.8A193 193 0 0 0 450.2 957.4Z" fill="#297a8e"/>
<path d="M470.7 933.2A224.5 224.5 0 0 1 474.9 936.2L456.5 961.8A193 193 0 0 0 453 959.3Z" fill="#2a788e"/>
<path d="M473.9 935.5A224.5 224.5 0 0 1 478.1 938.5L459.3 963.8A193 193 0 0 0 455.7 961.2Z" fill="#297a8e"/>
<path d="M477.1 937.8A224.5 224.5 0 0 1 481.2 940.8L462 965.8A193 193 0 0 0 458.5 963.2Z" fill="#287f8d"/>
<path d="M480.2 940.1A224.5 224.5 0 0 1 484.3 943.2L464.6 967.9A193 193 0 0 0 461.2 965.2Z" fill="#25858d"/>
<path d="M483.3 942.5A224.5 224.5 0 0 1 487.3 945.7L467.2 970A193 193 0 0 0 463.8 967.2Z" fill="#238d8c"/>
<path d="M486.4 945A224.5 224.5 0 0 1 490.3 948.2L469.8 972.2A193 193 0 0 0 466.4 969.3Z" fill="#21958b"/>
<path d="M489.4 947.5A224.5 224.5 0 0 1 493.3 950.8L472.3 974.4A193 193 0 0 0 469 971.5Z" fill="#229d88"/>
<path d="M492.4 950A224.5 224.5 0 0 1 496.2 953.4L474.8 976.6A193 193 0 0 0 471.6 973.7Z" fill="#22a485"/>
<path d="M495.3 952.7A224.5 224.5 0 0 1 499 956.1L477.3 978.9A193 193 0 0 0 474.1 976Z" fill="#26ab82"/>
<path d="M498.2 955.3A224.5 224.5 0 0 1 501.8 958.9L479.7 981.3A193 193 0 0 0 476.6 978.2Z" fill="#2db07d"/>
<path d="M501 958A224.5 224.5 0 0 1 504.6 961.6L482.1 983.7A193 193 0 0 0 479 980.6Z" fill="#32b37b"/>
<path d="M503.8 960.8A224.5 224.5 0 0 1 507.3 964.4L484.4 986.1A193 193 0 0 0 481.4 982.9Z" fill="#33b47a"/>
<path d="M506.5 963.6A224.5 224.5 0 0 1 510 967.3L486.7 988.6A193 193 0 0 0 483.7 985.4Z" fill="#37b678"/>
<path d="M509.2 966.5A224.5 224.5 0 0 1 512.6 970.2L489 991.1A193 193 0 0 0 486 987.8Z" fill="#3ebb73"/>
<path d="M511.8 969.4A224.5 224.5 0 0 1 515.2 973.2L491.2 993.6A193 193 0 0 0 488.3 990.3Z" fill="#4ac16d"/>
<path d="M514.4 972.3A224.5 224.5 0 0 1 517.7 976.2L493.3 996.2A193 193 0 0 0 490.5 992.8Z" fill="#59c664"/>
<path d="M516.9 975.3A224.5 224.5 0 0 1 520.1 979.3L495.5 998.8A193 193 0 0 0 492.7 995.4Z" fill="#68cb5b"/>
<path d="M519.4 978.3A224.5 224.5 0 0 1 522.5 982.3L497.5 1001.5A193 193 0 0 0 494.8 998Z" fill="#74cf55"/>
<path d="M521.8 981.4A224.5 224.5 0 0 1 524.9 985.5L499.5 1004.2A193 193 0 0 0 496.9 1000.7Z" fill="#7ad151"/>
<path d="M524.2 984.5A224.5 224.5 0 0 1 527.2 988.7L501.5 1006.9A193 193 0 0 0 498.9 1003.4Z" fill="#79d152"/>
<path d="M526.5 987.7A224.5 224.5 0 0 1 529.4 991.9L503.4 1009.7A193 193 0 0 0 500.9 1006.1Z" fill="#75cf54"/>
<path d="M528.8 990.9A224.5 224.5 0 0 1 531.6 995.1L505.3 1012.5A193 193 0 0 0 502.9 1008.8Z" fill="#6dcd58"/>
<path d="M531 994.1A224.5 224.5 0 0 1 533.8 998.4L507.2 1015.3A193 193 0 0 0 504.8 1011.6Z" fill="#63c95e"/>
<path d="M533.1 997.4A224.5 224.5 0 0 1 535.8 1001.7L508.9 1018.1A193 193 0 0 0 506.6 1014.4Z" fill="#58c665"/>
<path d="M535.2 1000.7A224.5 224.5 0 0 1 537.8 1005.1L510.7 1021A193 193 0 0 0 508.4 1017.3Z" fill="#4bc16c"/>
<path d="M537.2 1004.1A224.5 224.5 0 0 1 539.8 1008.5L512.3 1024A193 193 0 0 0 510.2 1020.2Z" fill="#40bd72"/>
<path d="M539.2 1007.5A224.5 224.5 0 0 1 541.7 1011.9L514 1026.9A193 193 0 0 0 511.8 1023.1Z" fill="#38b777"/>
<path d="M541.1 1010.9A224.5 224.5 0 0 1 543.5 1015.4L515.5 1029.9A193 193 0 0 0 513.5 1026Z" fill="#31b27b"/>
<path d="M543 1014.3A224.5 224.5 0 0 1 545.3 1018.9L517.1 1032.9A193 193 0 0 0 515.1 1029Z" fill="#2bae7f"/>
<path d="M544.8 1017.8A224.5 224.5 0 0 1 547 1022.4L518.5 1035.9A193 193 0 0 0 516.6 1032Z" fill="#26ab82"/>
<path d="M546.5 1021.3A224.5 224.5 0 0 1 548.6 1026L520 1039A193 193 0 0 0 518.1 1035Z" fill="#23a984"/>
<path d="M548.2 1024.9A224.5 224.5 0 0 1 550.2 1029.5L521.3 1042.1A193 193 0 0 0 519.5 1038.1Z" fill="#22a884"/>
<path d="M549.8 1028.5A224.5 224.5 0 0 1 551.8 1033.1L522.6 1045.2A193 193 0 0 0 520.9 1041.1Z" fill="#22a685"/>
<path d="M551.3 1032.1A224.5 224.5 0 0 1 553.2 1036.8L523.9 1048.3A193 193 0 0 0 522.2 1044.2Z" fill="#22a286"/>
<path d="M552.8 1035.7A224.5 224.5 0 0 1 554.6 1040.4L525.1 1051.4A193 193 0 0 0 523.5 1047.3Z" fill="#229d88"/>
<path d="M554.2 1039.3A224.5 224.5 0 0 1 556 1044.1L526.2 1054.6A193 193 0 0 0 524.7 1050.5Z" fill="#21978a"/>
<path d="M555.6 1043A224.5 224.5 0 0 1 557.2 1047.8L527.3 1057.8A193 193 0 0 0 525.9 1053.6Z" fill="#21918c"/>
<path d="M556.8 1046.7A224.5 224.5 0 0 1 558.4 1051.6L528.4 1061A193 193 0 0 0 527 1056.8Z" fill="#238c8c"/>
<path d="M558.1 1050.4A224.5 224.5 0 0 1 559.6 1055.3L529.3 1064.2A193 193 0 0 0 528.1 1060Z" fill="#25878d"/>
<path d="M559.2 1054.2A224.5 224.5 0 0 1 560.6 1059.1L530.3 1067.4A193 193 0 0 0 529.1 1063.2Z" fill="#25858d"/>
<path d="M560.3 1058A224.5 224.5 0 0 1 561.6 1062.9L531.1 1070.7A193 193 0 0 0 530 1066.5Z" fill="#26848d"/>
<path d="M561.4 1061.7A224.5 224.5 0 0 1 562.6 1066.7L531.9 1074A193 193 0 0 0 530.9 1069.7Z" fill="#27818d"/>
<path d="M562.3 1065.5A224.5 224.5 0 0 1 563.5 1070.5L532.7 1077.3A193 193 0 0 0 531.7 1073Z" fill="#297c8e"/>
<path d="M563.2 1069.3A224.5 224.5 0 0 1 564.3 1074.3L533.4 1080.6A193 193 0 0 0 532.5 1076.3Z" fill="#2b768e"/>
<path d="M564 1073.2A224.5 224.5 0 0 1 565 1078.2L534 1083.9A193 193 0 0 0 533.2 1079.6Z" fill="#2d708e"/>
<path d="M564.8 1077A224.5 224.5 0 0 1 565.7 1082L534.6 1087.2A193 193 0 0 0 533.8 1082.9Z" fill="#306b8d"/>
<path d="M565.5 1080.9A224.5 224.5 0 0 1 566.3 1085.9L535.1 1090.5A193 193 0 0 0 534.4 1086.2Z" fill="#31678d"/>
<path d="M566.1 1084.7A224.5 224.5 0 0 1 566.8 1089.8L535.6 1093.8A193 193 0 0 0 535 1089.5Z" fill="#32668d"/>
<path d="M566.7 1088.6A224.5 224.5 0 0 1 567.3 1093.7L536 1097.2A193 193 0 0 0 535.5 1092.8Z" fill="#38598c"/>
<path d="M567.2 1092.5A224.5 224.5 0 0 1 567.7 1097.6L536.3 1100.5A193 193 0 0 0 535.9 1096.2Z" fill="#414487"/>
<path d="M567.6 1096.4A224.5 224.5 0 0 1 568 1101.5L536.6 1103.9A193 193 0 0 0 536.2 1099.5Z" fill="#44357e"/>
<path d="M567.9 1100.3A224.5 224.5 0 0 1 568.3 1105.4L536.9 1107.3A193 193 0 0 0 536.6 1102.9Z" fill="#45307c"/>
<path d="M568.2 1104.2A224.5 224.5 0 0 1 568.5 1109.3L537 1110.6A193 193 0 0 0 536.8 1106.2Z" fill="#482374"/>
<path d="M568.5 1108.1A224.5 224.5 0 0 1 568.6 1113.2L537.1 1114A193 193 0 0 0 537 1109.6Z" fill="#461668"/>
<path d="M568.6 1112A224.5 224.5 0 0 1 568.7 1117.1L537.2 1117.4A193 193 0 0 0 537.1 1113Z" fill="#461264"/>
<path d="M568.7 1116A224.5 224.5 0 0 1 568.7 1118.7L537.2 1118.7A193 193 0 0 0 537.2 1116.3Z" fill="#450c5f"/>
<path d="M523 1151.2A181.7 181.7 0 0 1 521.4 1159L474.1 1148.2A133.2 133.2 0 0 0 475.3 1142.5Z" fill="#aab6cd"/>
<path d="M521.5 1158.5A181.7 181.7 0 0 1 519.1 1167.9L472.4 1154.8A133.2 133.2 0 0 0 474.2 1147.9Z" fill="#aab6cd"/>
<path d="M519.2 1167.4A181.7 181.7 0 0 1 517.9 1172L471.5 1157.8A133.2 133.2 0 0 0 472.5 1154.4Z" fill="#a9b4cc"/>
<path d="M518 1171.6A181.7 181.7 0 0 1 515.5 1179.2L469.8 1163.1A133.2 133.2 0 0 0 471.6 1157.4Z" fill="#abb7ce"/>
<path d="M515.7 1178.8A181.7 181.7 0 0 1 513.2 1185.5L468.1 1167.7A133.2 133.2 0 0 0 469.9 1162.8Z" fill="#a7b3cb"/>
<path d="M513.4 1185A181.7 181.7 0 0 1 510.4 1192.1L466 1172.5A133.2 133.2 0 0 0 468.2 1167.3Z" fill="#a6b2ca"/>
<path d="M510.6 1191.7A181.7 181.7 0 0 1 508 1197.2L464.3 1176.3A133.2 133.2 0 0 0 466.2 1172.2Z" fill="#acb7ce"/>
<path d="M508.3 1196.8A181.7 181.7 0 0 1 505.8 1201.7L462.7 1179.6A133.2 133.2 0 0 0 464.5 1176Z" fill="#abb6cd"/>
<path d="M506 1201.3A181.7 181.7 0 0 1 502.3 1208.3L460.1 1184.4A133.2 133.2 0 0 0 462.8 1179.2Z" fill="#f2cfd0"/>
<path d="M502.5 1207.8A181.7 181.7 0 0 1 497.8 1215.8L456.8 1189.9A133.2 133.2 0 0 0 460.3 1184.1Z" fill="#a7b3cb"/>
<path d="M498 1215.4A181.7 181.7 0 0 1 492.5 1223.7L452.9 1195.6A133.2 133.2 0 0 0 457 1189.6Z" fill="#abb6cd"/>
<path d="M492.8 1223.3A181.7 181.7 0 0 1 487 1231.1L448.8 1201.1A133.2 133.2 0 0 0 453.1 1195.4Z" fill="#a9b5cc"/>
<path d="M487.2 1230.7A181.7 181.7 0 0 1 483.7 1235.2L446.4 1204.1A133.2 133.2 0 0 0 449.1 1200.8Z" fill="#dee2ea"/>
<path d="M484 1234.8A181.7 181.7 0 0 1 477.5 1242.2L441.9 1209.2A133.2 133.2 0 0 0 446.7 1203.8Z" fill="#dbdfe8"/>
<path d="M477.8 1241.8A181.7 181.7 0 0 1 473.3 1246.6L438.8 1212.4A133.2 133.2 0 0 0 442.2 1209Z" fill="#abb6cd"/>
<path d="M473.6 1246.2A181.7 181.7 0 0 1 470.1 1249.7L436.5 1214.7A133.2 133.2 0 0 0 439.1 1212.2Z" fill="#b4bed2"/>
<path d="M470.5 1249.4A181.7 181.7 0 0 1 467.1 1252.5L434.3 1216.8A133.2 133.2 0 0 0 436.8 1214.5Z" fill="#cdd3e0"/>
<path d="M467.4 1252.2A181.7 181.7 0 0 1 462.8 1256.4L431.1 1219.6A133.2 133.2 0 0 0 434.5 1216.6Z" fill="#d6dbe5"/>
<path d="M463.1 1256.1A181.7 181.7 0 0 1 458.3 1260.1L427.8 1222.4A133.2 133.2 0 0 0 431.4 1219.4Z" fill="#c0c8d9"/>
<path d="M458.7 1259.8A181.7 181.7 0 0 1 454.8 1262.9L425.3 1224.4A133.2 133.2 0 0 0 428.1 1222.1Z" fill="#f2cfd0"/>
<path d="M455.2 1262.6A181.7 181.7 0 0 1 448.2 1267.7L420.5 1227.9A133.2 133.2 0 0 0 425.6 1224.2Z" fill="#f2cfd0"/>
<path d="M448.6 1267.4A181.7 181.7 0 0 1 441.3 1272.3L415.3 1231.3A133.2 133.2 0 0 0 420.7 1227.7Z" fill="#b8c1d5"/>
<path d="M441.7 1272.1A181.7 181.7 0 0 1 437.7 1274.5L412.7 1232.9A133.2 133.2 0 0 0 415.6 1231.1Z" fill="#a3afc9"/>
<path d="M438.1 1274.3A181.7 181.7 0 0 1 429.6 1279.1L406.8 1236.3A133.2 133.2 0 0 0 413 1232.7Z" fill="#bbc4d6"/>
<path d="M430.1 1278.8A181.7 181.7 0 0 1 421.5 1283.2L400.8 1239.3A133.2 133.2 0 0 0 407.1 1236.1Z" fill="#f3d4d5"/>
<path d="M421.9 1283A181.7 181.7 0 0 1 416 1285.6L396.8 1241.1A133.2 133.2 0 0 0 401.2 1239.1Z" fill="#dfe3ea"/>
<path d="M416.4 1285.4A181.7 181.7 0 0 1 411.6 1287.4L393.6 1242.4A133.2 133.2 0 0 0 397.1 1240.9Z" fill="#e0e3eb"/>
<path d="M412.1 1287.3A181.7 181.7 0 0 1 403.4 1290.5L387.6 1244.6A133.2 133.2 0 0 0 393.9 1242.3Z" fill="#aab5cc"/>
<path d="M403.9 1290.3A181.7 181.7 0 0 1 399 1291.9L384.4 1245.7A133.2 133.2 0 0 0 387.9 1244.5Z" fill="#cbd2df"/>
<path d="M399.5 1291.8A181.7 181.7 0 0 1 390.3 1294.5L378 1247.5A133.2 133.2 0 0 0 384.7 1245.6Z" fill="#cbd1df"/>
<path d="M390.8 1294.3A181.7 181.7 0 0 1 383.4 1296.1L373 1248.8A133.2 133.2 0 0 0 378.3 1247.5Z" fill="#c8cfdd"/>
<path d="M383.9 1296A181.7 181.7 0 0 1 378.5 1297.1L369.3 1249.5A133.2 133.2 0 0 0 373.3 1248.7Z" fill="#aeb9cf"/>
<path d="M378.9 1297A181.7 181.7 0 0 1 370.7 1298.5L363.7 1250.5A133.2 133.2 0 0 0 369.7 1249.4Z" fill="#f1c9cc"/>
<path d="M371.2 1298.4A181.7 181.7 0 0 1 366.4 1299L360.5 1250.9A133.2 133.2 0 0 0 364 1250.4Z" fill="#f1cbcd"/>
<path d="M366.9 1299A181.7 181.7 0 0 1 360.1 1299.7L355.9 1251.4A133.2 133.2 0 0 0 360.8 1250.9Z" fill="#c0c8d9"/>
<path d="M360.6 1299.7A181.7 181.7 0 0 1 351.6 1300.3L349.6 1251.8A133.2 133.2 0 0 0 356.2 1251.4Z" fill="#d8dce6"/>
<path d="M352 1300.2A181.7 181.7 0 0 1 347.1 1300.4L346.4 1251.9A133.2 133.2 0 0 0 349.9 1251.8Z" fill="#f2cfd0"/>
<path d="M347.6 1300.4A181.7 181.7 0 0 1 340.4 1300.4L341.4 1251.9A133.2 133.2 0 0 0 346.7 1251.9Z" fill="#f2cfd0"/>
<path d="M340.8 1300.4A181.7 181.7 0 0 1 332.3 1300L335.5 1251.6A133.2 133.2 0 0 0 341.7 1251.9Z" fill="#f2d2d4"/>
<path d="M332.8 1300A181.7 181.7 0 0 1 324 1299.3L329.4 1251.1A133.2 133.2 0 0 0 335.8 1251.6Z" fill="#b1bcd1"/>
<path d="M324.4 1299.3A181.7 181.7 0 0 1 319.1 1298.7L325.8 1250.6A133.2 133.2 0 0 0 329.7 1251.1Z" fill="#f2cfd0"/>
<path d="M319.5 1298.7A181.7 181.7 0 0 1 312.6 1297.6L321 1249.9A133.2 133.2 0 0 0 326.1 1250.7Z" fill="#f1c9cb"/>
<path d="M313.1 1297.7A181.7 181.7 0 0 1 303.4 1295.8L314.3 1248.5A133.2 133.2 0 0 0 321.4 1249.9Z" fill="#d7dce6"/>
<path d="M303.9 1295.9A181.7 181.7 0 0 1 295.6 1293.8L308.6 1247A133.2 133.2 0 0 0 314.6 1248.6Z" fill="#dadfe7"/>
<path d="M296 1293.9A181.7 181.7 0 0 1 289.6 1292L304.1 1245.7A133.2 133.2 0 0 0 308.9 1247.1Z" fill="#b6bfd3"/>
<path d="M290 1292.1A181.7 181.7 0 0 1 280.6 1288.9L297.6 1243.5A133.2 133.2 0 0 0 304.5 1245.8Z" fill="#f2d0d2"/>
<path d="M281.1 1289.1A181.7 181.7 0 0 1 274.3 1286.4L292.9 1241.6A133.2 133.2 0 0 0 297.9 1243.6Z" fill="#f2cfd0"/>
<path d="M274.7 1286.6A181.7 181.7 0 0 1 269.2 1284.2L289.2 1240A133.2 133.2 0 0 0 293.3 1241.8Z" fill="#edb3b7"/>
<path d="M269.6 1284.4A181.7 181.7 0 0 1 263.7 1281.6L285.2 1238.1A133.2 133.2 0 0 0 289.5 1240.2Z" fill="#ecb3b7"/>
<path d="M264.1 1281.8A181.7 181.7 0 0 1 256.7 1277.9L280 1235.4A133.2 133.2 0 0 0 285.5 1238.3Z" fill="#efbabc"/>
<path d="M257.1 1278.2A181.7 181.7 0 0 1 251.4 1274.9L276.2 1233.2A133.2 133.2 0 0 0 280.4 1235.6Z" fill="#efbcbe"/>
<path d="M251.8 1275.2A181.7 181.7 0 0 1 245.7 1271.4L272 1230.6A133.2 133.2 0 0 0 276.5 1233.4Z" fill="#dbdfe8"/>
<path d="M246.1 1271.6A181.7 181.7 0 0 1 240.9 1268.2L268.5 1228.3A133.2 133.2 0 0 0 272.3 1230.8Z" fill="#e0e3eb"/>
<path d="M241.3 1268.5A181.7 181.7 0 0 1 235.1 1264L264.2 1225.2A133.2 133.2 0 0 0 268.8 1228.5Z" fill="#a1aec8"/>
<path d="M235.4 1264.2A181.7 181.7 0 0 1 230.7 1260.6L261 1222.7A133.2 133.2 0 0 0 264.5 1225.4Z" fill="#d4d9e4"/>
<path d="M231.1 1260.9A181.7 181.7 0 0 1 224.2 1255.1L256.2 1218.7A133.2 133.2 0 0 0 261.3 1222.9Z" fill="#d2d7e3"/>
<path d="M224.6 1255.4A181.7 181.7 0 0 1 219.8 1251.1L253 1215.8A133.2 133.2 0 0 0 256.5 1218.9Z" fill="#d2d7e3"/>
<path d="M220.1 1251.4A181.7 181.7 0 0 1 213.6 1245.1L248.5 1211.3A133.2 133.2 0 0 0 253.2 1216Z" fill="#bbc4d6"/>
<path d="M214 1245.4A181.7 181.7 0 0 1 207.7 1238.6L244.1 1206.6A133.2 133.2 0 0 0 248.7 1211.6Z" fill="#d5dae5"/>
<path d="M208 1238.9A181.7 181.7 0 0 1 201.7 1231.5L239.8 1201.4A133.2 133.2 0 0 0 244.3 1206.9Z" fill="#c8cfdd"/>
<path d="M202 1231.8A181.7 181.7 0 0 1 198.7 1227.5L237.5 1198.4A133.2 133.2 0 0 0 240 1201.6Z" fill="#e0e4eb"/>
<path d="M199 1227.9A181.7 181.7 0 0 1 194.8 1222.1L234.6 1194.5A133.2 133.2 0 0 0 237.7 1198.7Z" fill="#d5dae5"/>
<path d="M195 1222.4A181.7 181.7 0 0 1 190.3 1215.3L231.4 1189.5A133.2 133.2 0 0 0 234.8 1194.8Z" fill="#adb8cf"/>
<path d="M190.6 1215.7A181.7 181.7 0 0 1 186.6 1209.1L228.7 1185A133.2 133.2 0 0 0 231.6 1189.8Z" fill="#d3d9e4"/>
<path d="M186.8 1209.5A181.7 181.7 0 0 1 183 1202.5L226 1180.2A133.2 133.2 0 0 0 228.8 1185.3Z" fill="#e0e3eb"/>
<path d="M183.2 1203A181.7 181.7 0 0 1 179.5 1195.4L223.4 1174.9A133.2 133.2 0 0 0 226.2 1180.5Z" fill="#a8b4cc"/>
<path d="M179.7 1195.8A181.7 181.7 0 0 1 176.8 1189.4L221.5 1170.5A133.2 133.2 0 0 0 223.6 1175.2Z" fill="#e0e3eb"/>
<path d="M177 1189.9A181.7 181.7 0 0 1 173.9 1182.1L219.4 1165.2A133.2 133.2 0 0 0 221.6 1170.9Z" fill="#f2cfd0"/>
<path d="M174.1 1182.6A181.7 181.7 0 0 1 171.7 1175.9L217.8 1160.6A133.2 133.2 0 0 0 219.5 1165.5Z" fill="#f2cfd0"/>
<path d="M171.9 1176.3A181.7 181.7 0 0 1 170.3 1171.2L216.7 1157.2A133.2 133.2 0 0 0 217.9 1160.9Z" fill="#c5ccdc"/>
<path d="M170.4 1171.7A181.7 181.7 0 0 1 168.8 1166.3L215.6 1153.6A133.2 133.2 0 0 0 216.8 1157.6Z" fill="#a9b5cc"/>
<path d="M169 1166.7A181.7 181.7 0 0 1 167.3 1160.3L214.5 1149.2A133.2 133.2 0 0 0 215.7 1153.9Z" fill="#e2e5ec"/>
<path d="M167.4 1160.8A181.7 181.7 0 0 1 166.2 1155L213.7 1145.3A133.2 133.2 0 0 0 214.6 1149.5Z" fill="#f2cfd0"/>
<path d="M166.3 1155.5A181.7 181.7 0 0 1 165 1148.8L212.8 1140.8A133.2 133.2 0 0 0 213.8 1145.7Z" fill="#c1c9da"/>
<path d="M165.1 1149.3A181.7 181.7 0 0 1 164.3 1144.1L212.3 1137.3A133.2 133.2 0 0 0 212.9 1141.1Z" fill="#e0e3eb"/>
<path d="M164.4 1144.6A181.7 181.7 0 0 1 163.7 1139.8L211.9 1134.2A133.2 133.2 0 0 0 212.4 1137.7Z" fill="#e2e5ec"/>
<path d="M163.8 1140.3A181.7 181.7 0 0 1 163 1132.8L211.4 1129A133.2 133.2 0 0 0 211.9 1134.5Z" fill="#c7cedd"/>
<path d="M163.1 1133.3A181.7 181.7 0 0 1 162.6 1123.5L211 1122.2A133.2 133.2 0 0 0 211.4 1129.4Z" fill="#e0e3eb"/>
<path d="M162.6 1124A181.7 181.7 0 0 1 162.5 1115L211 1116A133.2 133.2 0 0 0 211.1 1122.6Z" fill="#e0e3eb"/>
<path d="M162.5 1115.5A181.7 181.7 0 0 1 162.7 1110.1L211.1 1112.4A133.2 133.2 0 0 0 211 1116.4Z" fill="#e0e4eb"/>
<path d="M162.7 1110.6A181.7 181.7 0 0 1 163.4 1100.9L211.6 1105.6A133.2 133.2 0 0 0 211.1 1112.8Z" fill="#f2cfd0"/>
<path d="M163.3 1101.4A181.7 181.7 0 0 1 164.1 1094.9L212.1 1101.3A133.2 133.2 0 0 0 211.6 1106Z" fill="#f2cfd0"/>
<path d="M164 1095.4A181.7 181.7 0 0 1 164.7 1090.3L212.6 1097.9A133.2 133.2 0 0 0 212.1 1101.6Z" fill="#f0c3c6"/>
<path d="M164.7 1090.7A181.7 181.7 0 0 1 165.6 1085.5L213.2 1094.3A133.2 133.2 0 0 0 212.6 1098.2Z" fill="#f0bdbf"/>
<path d="M165.5 1085.9A181.7 181.7 0 0 1 166.8 1079.4L214.1 1089.9A133.2 133.2 0 0 0 213.2 1094.7Z" fill="#f2cfd0"/>
<path d="M166.7 1079.9A181.7 181.7 0 0 1 168.1 1073.9L215.1 1085.8A133.2 133.2 0 0 0 214.1 1090.2Z" fill="#e497a0"/>
<path d="M168 1074.3A181.7 181.7 0 0 1 170.6 1064.9L217 1079.3A133.2 133.2 0 0 0 215 1086.2Z" fill="#e497a0"/>
<path d="M170.5 1065.4A181.7 181.7 0 0 1 172.4 1059.7L218.2 1075.4A133.2 133.2 0 0 0 216.9 1079.6Z" fill="#e497a0"/>
<path d="M172.2 1060.1A181.7 181.7 0 0 1 174.5 1053.7L219.8 1071.1A133.2 133.2 0 0 0 218.1 1075.8Z" fill="#e0e3eb"/>
<path d="M174.4 1054.1A181.7 181.7 0 0 1 177.1 1047.4L221.7 1066.4A133.2 133.2 0 0 0 219.7 1071.4Z" fill="#bac3d6"/>
<path d="M176.9 1047.9A181.7 181.7 0 0 1 179 1043.1L223.1 1063.2A133.2 133.2 0 0 0 221.5 1066.8Z" fill="#dfe3ea"/>
<path d="M178.8 1043.5A181.7 181.7 0 0 1 181.5 1037.9L224.9 1059.5A133.2 133.2 0 0 0 222.9 1063.6Z" fill="#e0e3eb"/>
<path d="M181.2 1038.3A181.7 181.7 0 0 1 183.4 1034.2L226.3 1056.7A133.2 133.2 0 0 0 224.7 1059.8Z" fill="#d5dae5"/>
<path d="M183.1 1034.6A181.7 181.7 0 0 1 187.8 1026.2L229.6 1050.9A133.2 133.2 0 0 0 226.1 1057Z" fill="#e0e3eb"/>
<path d="M187.6 1026.6A181.7 181.7 0 0 1 190.7 1021.4L231.7 1047.4A133.2 133.2 0 0 0 229.4 1051.2Z" fill="#acb7ce"/>
<path d="M190.5 1021.8A181.7 181.7 0 0 1 193.9 1016.7L234 1043.9A133.2 133.2 0 0 0 231.5 1047.7Z" fill="#dde1e9"/>
<path d="M193.6 1017A181.7 181.7 0 0 1 198.3 1010.5L237.2 1039.3A133.2 133.2 0 0 0 233.8 1044.2Z" fill="#dde1e9"/>
<path d="M198 1010.8A181.7 181.7 0 0 1 201.1 1006.7L239.3 1036.6A133.2 133.2 0 0 0 237 1039.6Z" fill="#e0e3eb"/>
<path d="M200.9 1007A181.7 181.7 0 0 1 205.6 1001.2L242.6 1032.6A133.2 133.2 0 0 0 239.1 1036.8Z" fill="#bfc8d9"/>
<path d="M205.3 1001.6A181.7 181.7 0 0 1 210.2 996L246 1028.8A133.2 133.2 0 0 0 242.3 1032.9Z" fill="#ced4e0"/>
<path d="M209.9 996.4A181.7 181.7 0 0 1 215.8 990.1L250.1 1024.4A133.2 133.2 0 0 0 245.7 1029Z" fill="#f2cfd0"/>
<path d="M215.5 990.5A181.7 181.7 0 0 1 219.7 986.3L253 1021.7A133.2 133.2 0 0 0 249.8 1024.7Z" fill="#cdd3e0"/>
<path d="M219.4 986.6A181.7 181.7 0 0 1 226.4 980.4L257.8 1017.3A133.2 133.2 0 0 0 252.7 1021.9Z" fill="#f2cfd0"/>
<path d="M226 980.7A181.7 181.7 0 0 1 232.8 975.1L262.6 1013.4A133.2 133.2 0 0 0 257.6 1017.5Z" fill="#cad0de"/>
<path d="M232.5 975.4A181.7 181.7 0 0 1 239.2 970.4L267.2 1010A133.2 133.2 0 0 0 262.3 1013.7Z" fill="#e0e4eb"/>
<path d="M238.8 970.7A181.7 181.7 0 0 1 246.7 965.4L272.7 1006.3A133.2 133.2 0 0 0 267 1010.2Z" fill="#c5ccdc"/>
<path d="M246.3 965.6A181.7 181.7 0 0 1 254.2 960.9L278.2 1003A133.2 133.2 0 0 0 272.4 1006.5Z" fill="#b0bbd0"/>
<path d="M253.8 961.1A181.7 181.7 0 0 1 261.8 956.8L283.8 1000A133.2 133.2 0 0 0 277.9 1003.2Z" fill="#a2aec8"/>
<path d="M261.3 957A181.7 181.7 0 0 1 268.8 953.4L289 997.5A133.2 133.2 0 0 0 283.4 1000.2Z" fill="#cad1df"/>
<path d="M268.4 953.6A181.7 181.7 0 0 1 276.5 950.1L294.6 995.1A133.2 133.2 0 0 0 288.6 997.6Z" fill="#f2cfd0"/>
<path d="M276.1 950.3A181.7 181.7 0 0 1 282.8 947.7L299.2 993.3A133.2 133.2 0 0 0 294.2 995.2Z" fill="#d7dce6"/>
<path d="M282.3 947.9A181.7 181.7 0 0 1 288.3 945.8L303.3 991.9A133.2 133.2 0 0 0 298.8 993.5Z" fill="#abb7ce"/>
<path d="M287.9 945.9A181.7 181.7 0 0 1 296.5 943.4L309.2 990.2A133.2 133.2 0 0 0 302.9 992.1Z" fill="#a2afc8"/>
<path d="M296 943.5A181.7 181.7 0 0 1 304.8 941.3L315.3 988.7A133.2 133.2 0 0 0 308.9 990.3Z" fill="#e0e3eb"/>
<path d="M304.3 941.4A181.7 181.7 0 0 1 309 940.5L318.4 988A133.2 133.2 0 0 0 315 988.7Z" fill="#eaabb0"/>
<path d="M308.5 940.5A181.7 181.7 0 0 1 318.3 938.9L325.2 986.9A133.2 133.2 0 0 0 318 988.1Z" fill="#f2cfd0"/>
<path d="M317.9 938.9A181.7 181.7 0 0 1 326.9 937.8L331.5 986.1A133.2 133.2 0 0 0 324.9 986.9Z" fill="#f3d6d7"/>
<path d="M326.4 937.9A181.7 181.7 0 0 1 336.2 937.2L338.3 985.6A133.2 133.2 0 0 0 331.2 986.1Z" fill="#eaacb1"/>
<path d="M335.7 937.2A181.7 181.7 0 0 1 341.9 937L342.5 985.5A133.2 133.2 0 0 0 338 985.6Z" fill="#e59aa2"/>
<path d="M341.4 937A181.7 181.7 0 0 1 349.3 937.1L347.9 985.6A133.2 133.2 0 0 0 342.1 985.5Z" fill="#efc0c2"/>
<path d="M348.8 937.1A181.7 181.7 0 0 1 356.7 937.4L353.4 985.8A133.2 133.2 0 0 0 347.6 985.5Z" fill="#f2cfd0"/>
<path d="M356.3 937.4A181.7 181.7 0 0 1 362.9 938L357.9 986.2A133.2 133.2 0 0 0 353 985.8Z" fill="#f2cfd0"/>
<path d="M362.4 937.9A181.7 181.7 0 0 1 370 938.8L363.1 986.9A133.2 133.2 0 0 0 357.5 986.2Z" fill="#e9a9af"/>
<path d="M369.6 938.8A181.7 181.7 0 0 1 374.8 939.6L366.7 987.4A133.2 133.2 0 0 0 362.8 986.8Z" fill="#efbec0"/>
<path d="M374.4 939.5A181.7 181.7 0 0 1 382.1 941L372 988.4A133.2 133.2 0 0 0 366.3 987.3Z" fill="#eeb7ba"/>
<path d="M381.6 940.9A181.7 181.7 0 0 1 388 942.4L376.3 989.4A133.2 133.2 0 0 0 371.6 988.4Z" fill="#f2cfd0"/>
<path d="M387.6 942.3A181.7 181.7 0 0 1 392.8 943.6L379.8 990.4A133.2 133.2 0 0 0 376 989.4Z" fill="#ecb3b7"/>
<path d="M392.4 943.5A181.7 181.7 0 0 1 401.5 946.3L386.2 992.3A133.2 133.2 0 0 0 379.5 990.3Z" fill="#eeb9bc"/>
<path d="M401 946.1A181.7 181.7 0 0 1 406.7 948.1L390 993.6A133.2 133.2 0 0 0 385.8 992.2Z" fill="#efbabc"/>
<path d="M406.2 947.9A181.7 181.7 0 0 1 414.3 951.1L395.6 995.8A133.2 133.2 0 0 0 389.7 993.5Z" fill="#f0bdbf"/>
<path d="M413.9 950.9A181.7 181.7 0 0 1 419.2 953.2L399.2 997.4A133.2 133.2 0 0 0 395.3 995.7Z" fill="#f0c5c7"/>
<path d="M418.8 953A181.7 181.7 0 0 1 423.8 955.4L402.6 999A133.2 133.2 0 0 0 398.9 997.2Z" fill="#eaacb1"/>
<path d="M423.4 955.2A181.7 181.7 0 0 1 427.9 957.4L405.6 1000.5A133.2 133.2 0 0 0 402.3 998.8Z" fill="#ebb0b4"/>
<path d="M427.5 957.2A181.7 181.7 0 0 1 432.2 959.7L408.7 1002.1A133.2 133.2 0 0 0 405.3 1000.3Z" fill="#edb6b9"/>
<path d="M431.7 959.5A181.7 181.7 0 0 1 439.8 964.2L414.3 1005.4A133.2 133.2 0 0 0 408.4 1002Z" fill="#f2cfd0"/>
<path d="M439.4 963.9A181.7 181.7 0 0 1 446.8 968.8L419.4 1008.8A133.2 133.2 0 0 0 414 1005.2Z" fill="#cad0de"/>
<path d="M446.5 968.5A181.7 181.7 0 0 1 450.5 971.3L422.1 1010.6A133.2 133.2 0 0 0 419.2 1008.6Z" fill="#d7dce6"/>
<path d="M450.1 971A181.7 181.7 0 0 1 456.7 976L426.7 1014.1A133.2 133.2 0 0 0 421.8 1010.4Z" fill="#dfe3ea"/>
<path d="M456.3 975.7A181.7 181.7 0 0 1 463.9 982L431.9 1018.5A133.2 133.2 0 0 0 426.4 1013.9Z" fill="#f2cfd1"/>
<path d="M463.5 981.7A181.7 181.7 0 0 1 467.5 985.2L434.6 1020.9A133.2 133.2 0 0 0 431.7 1018.2Z" fill="#f2cfd0"/>
<path d="M467.2 984.9A181.7 181.7 0 0 1 471.4 989L437.5 1023.6A133.2 133.2 0 0 0 434.3 1020.6Z" fill="#e0e3eb"/>
<path d="M471.1 988.6A181.7 181.7 0 0 1 475.6 993.2L440.5 1026.7A133.2 133.2 0 0 0 437.2 1023.3Z" fill="#e0e3eb"/>
<path d="M475.3 992.9A181.7 181.7 0 0 1 481.4 999.6L444.8 1031.4A133.2 133.2 0 0 0 440.3 1026.5Z" fill="#f2d3d4"/>
<path d="M481.1 999.2A181.7 181.7 0 0 1 485.6 1004.5L447.8 1035A133.2 133.2 0 0 0 444.6 1031.1Z" fill="#eeb7ba"/>
<path d="M485.3 1004.2A181.7 181.7 0 0 1 490 1010.3L451.1 1039.3A133.2 133.2 0 0 0 447.6 1034.7Z" fill="#f2cfd0"/>
<path d="M489.8 1009.9A181.7 181.7 0 0 1 493.7 1015.4L453.8 1043A133.2 133.2 0 0 0 450.9 1039Z" fill="#f2cfd0"/>
<path d="M493.4 1015A181.7 181.7 0 0 1 496.6 1019.7L455.9 1046.2A133.2 133.2 0 0 0 453.6 1042.7Z" fill="#cbd1df"/>
<path d="M496.3 1019.3A181.7 181.7 0 0 1 500.1 1025.4L458.5 1050.3A133.2 133.2 0 0 0 455.7 1045.9Z" fill="#f2cfd0"/>
<path d="M499.9 1025A181.7 181.7 0 0 1 503.5 1031.2L460.9 1054.6A133.2 133.2 0 0 0 458.3 1050Z" fill="#f2cfd0"/>
<path d="M503.2 1030.8A181.7 181.7 0 0 1 506.5 1036.9L463.1 1058.7A133.2 133.2 0 0 0 460.8 1054.3Z" fill="#dfe3ea"/>
<path d="M506.2 1036.5A181.7 181.7 0 0 1 508.6 1041.4L464.7 1062A133.2 133.2 0 0 0 463 1058.4Z" fill="#c4ccdb"/>
<path d="M508.4 1040.9A181.7 181.7 0 0 1 511.2 1047L466.6 1066.2A133.2 133.2 0 0 0 464.6 1061.7Z" fill="#f2cfd0"/>
<path d="M511 1046.6A181.7 181.7 0 0 1 513.3 1052.1L468.1 1069.9A133.2 133.2 0 0 0 466.5 1065.8Z" fill="#ced4e1"/>
<path d="M513.1 1051.7A181.7 181.7 0 0 1 515.3 1057.4L469.6 1073.8A133.2 133.2 0 0 0 468 1069.6Z" fill="#cbd1df"/>
<path d="M515.1 1057A181.7 181.7 0 0 1 516.7 1061.5L470.6 1076.7A133.2 133.2 0 0 0 469.5 1073.4Z" fill="#f2cfd0"/>
<path d="M516.5 1061A181.7 181.7 0 0 1 519.3 1070.3L472.6 1083.2A133.2 133.2 0 0 0 470.5 1076.4Z" fill="#e0e3eb"/>
<path d="M519.2 1069.8A181.7 181.7 0 0 1 521 1076.7L473.8 1087.9A133.2 133.2 0 0 0 472.5 1082.8Z" fill="#f2cfd0"/>
<path d="M520.9 1076.2A181.7 181.7 0 0 1 522.6 1084.3L475 1093.5A133.2 133.2 0 0 0 473.7 1087.6Z" fill="#d0d5e2"/>
<path d="M522.5 1083.8A181.7 181.7 0 0 1 524 1092.2L476 1099.3A133.2 133.2 0 0 0 474.9 1093.1Z" fill="#c4ccdb"/>
<path d="M523.9 1091.7A181.7 181.7 0 0 1 524.5 1096.4L476.4 1102.4A133.2 133.2 0 0 0 475.9 1098.9Z" fill="#cad1df"/>
<path d="M524.5 1095.9A181.7 181.7 0 0 1 525.2 1102.7L476.9 1106.9A133.2 133.2 0 0 0 476.4 1102Z" fill="#f2cfd0"/>
<path d="M525.1 1102.2A181.7 181.7 0 0 1 525.6 1108.5L477.2 1111.2A133.2 133.2 0 0 0 476.8 1106.6Z" fill="#dfe3ea"/>
<path d="M525.6 1108A181.7 181.7 0 0 1 525.9 1116.5L477.4 1117.1A133.2 133.2 0 0 0 477.2 1110.8Z" fill="#e0e3eb"/>
<path d="M525.9 1116A181.7 181.7 0 0 1 525.9 1118.7L477.4 1118.7A133.2 133.2 0 0 0 477.4 1116.8Z" fill="#e0e3eb"/>
<path d="M523 1151.2A181.7 181.7 0 0 1 522.2 1155.2L474.7 1145.5A133.2 133.2 0 0 0 475.3 1142.5Z" fill="#b12a4e"/>
<path d="M432.3 1277.6A181.7 181.7 0 0 1 425.3 1281.3L403.6 1237.9A133.2 133.2 0 0 0 408.8 1235.2Z" fill="#b12a4e"/>
<path d="M263.1 1281.3A181.7 181.7 0 0 1 257.5 1278.4L280.6 1235.8A133.2 133.2 0 0 0 284.8 1237.9Z" fill="#b12a4e"/>
<path d="M163.5 1099.7A181.7 181.7 0 0 1 164.5 1091.8L212.5 1099A133.2 133.2 0 0 0 211.7 1104.8Z" fill="#b12a4e"/>
<path d="M166.8 1079.4A181.7 181.7 0 0 1 168.7 1071.7L215.5 1084.2A133.2 133.2 0 0 0 214.2 1089.9Z" fill="#b12a4e"/>
<path d="M308 940.6A181.7 181.7 0 0 1 325.2 938L330.3 986.2A133.2 133.2 0 0 0 317.6 988.2Z" fill="#b12a4e"/>
<path d="M325.2 938A181.7 181.7 0 0 1 333.1 937.3L336.1 985.7A133.2 133.2 0 0 0 330.3 986.2Z" fill="#e08c96"/>
<path d="M250.6 963A181.7 181.7 0 0 1 257.5 959L280.6 1001.6A133.2 133.2 0 0 0 275.6 1004.5Z" fill="#e59aa2"/>
<defs><g id="ftree"><path d="M344.3 1115.8L317.0 1000.8A121.0 121.0 0 0 1 353.7 998.1ZM354.9 1009.6L354.1 1008.6L355.0 998.2A121.0 121.0 0 0 1 356.8 998.4L355.7 1008.8ZM362.4 1007.8L356.5 1005.1L357.3 998.4A121.0 121.0 0 0 1 365.5 999.6L364.3 1006.2ZM366.4 1008.1L364.9 1005.6L365.9 999.7A121.0 121.0 0 0 1 368.8 1000.2L367.6 1006.2ZM372.2 1012.1L367.5 1008.7L369.3 1000.3A121.0 121.0 0 0 1 377.5 1002.4L375.1 1010.6ZM377.7 1020.7L373.6 1017.5L378.0 1002.5A121.0 121.0 0 0 1 385.7 1005.0L380.3 1019.7ZM384.1 1017.2L382.6 1014.8L386.1 1005.2A121.0 121.0 0 0 1 389.3 1006.4L385.5 1015.9ZM385.9 1022.3L385.3 1017.5L389.7 1006.6A121.0 121.0 0 0 1 394.5 1008.6L389.6 1019.3ZM393.6 1019.2L391.9 1015.4L394.9 1008.8A121.0 121.0 0 0 1 398.8 1010.7L395.6 1017.1ZM396.3 1021.0L394.8 1019.6L399.2 1010.9A121.0 121.0 0 0 1 403.1 1013.0L398.4 1021.5ZM400.4 1021.7L400.4 1018.8L403.6 1013.3A121.0 121.0 0 0 1 409.6 1016.9L406.1 1022.3ZM405.3 1028.5L403.8 1026.7L410.0 1017.2A121.0 121.0 0 0 1 416.0 1021.3L409.2 1030.5ZM410.3 1031.0L410.6 1029.4L416.4 1021.6A121.0 121.0 0 0 1 419.0 1023.6L413.0 1031.3ZM409.4 1038.6L409.3 1036.7L419.4 1023.9A121.0 121.0 0 0 1 423.5 1027.3L412.8 1039.7ZM417.0 1037.4L418.1 1034.3L423.9 1027.7A121.0 121.0 0 0 1 428.6 1031.9L422.4 1038.3ZM421.7 1042.2L422.2 1039.1L428.9 1032.3A121.0 121.0 0 0 1 432.9 1036.4L425.9 1042.8ZM420.3 1049.5L421.9 1047.1L433.2 1036.7A121.0 121.0 0 0 1 434.8 1038.5L423.3 1048.7ZM429.4 1047.1L427.9 1045.2L435.1 1038.9A121.0 121.0 0 0 1 437.9 1042.2L430.5 1048.2ZM432.4 1049.0L431.9 1047.7L438.2 1042.5A121.0 121.0 0 0 1 441.3 1046.5L434.7 1051.3ZM432.4 1055.8L432.6 1053.5L441.6 1046.9A121.0 121.0 0 0 1 446.1 1053.4L436.7 1059.4ZM433.9 1065.2L433.8 1061.8L446.3 1053.8A121.0 121.0 0 0 1 450.0 1060.1L437.1 1067.3ZM438.8 1069.4L439.5 1066.4L450.3 1060.5A121.0 121.0 0 0 1 453.1 1066.0L442.1 1071.4ZM443.3 1072.9L444.4 1070.8L453.4 1066.5A121.0 121.0 0 0 1 454.8 1069.7L445.7 1073.7ZM441.9 1079.3L441.0 1076.3L455.0 1070.1A121.0 121.0 0 0 1 458.0 1077.6L443.6 1082.8ZM445.5 1084.1L445.7 1082.5L458.2 1078.1A121.0 121.0 0 0 1 459.2 1081.1L446.6 1085.2ZM445.2 1088.0L446.8 1085.6L459.4 1081.5A121.0 121.0 0 0 1 460.5 1085.3L447.8 1088.9ZM449.2 1089.9L451.8 1088.2L460.6 1085.8A121.0 121.0 0 0 1 461.3 1088.3L452.5 1090.6ZM445.6 1096.6L446.5 1092.6L461.4 1088.8A121.0 121.0 0 0 1 462.7 1094.3L447.6 1097.4ZM447.6 1100.4L451.6 1097.0L462.8 1094.8A121.0 121.0 0 0 1 464.0 1101.8L452.7 1103.4ZM453.3 1108.2L456.1 1103.3L464.1 1102.2A121.0 121.0 0 0 1 464.8 1108.6L456.8 1109.3ZM451.2 1114.6L451.2 1110.2L464.8 1109.1A121.0 121.0 0 0 1 465.2 1116.4L451.5 1116.7ZM283.9 1172.5L282.3 1179.0L257.6 1203.2A121.0 121.0 0 0 1 252.5 1197.6L278.7 1175.1ZM282.1 1170.1L276.3 1176.1L251.8 1196.8A121.0 121.0 0 0 1 249.6 1194.2L274.7 1174.2ZM273.8 1173.5L265.6 1180.4L249.0 1193.4A121.0 121.0 0 0 1 248.3 1192.5L265.0 1179.6ZM269.1 1172.4L269.4 1175.5L247.8 1191.8A121.0 121.0 0 0 1 243.4 1185.6L265.9 1170.6ZM265.3 1169.7L259.1 1174.3L242.9 1184.9A121.0 121.0 0 0 1 242.3 1184.0L258.6 1173.5ZM265.6 1168.1L259.4 1172.5L242.0 1183.5A121.0 121.0 0 0 1 241.6 1182.9L259.1 1172.0ZM275.7 1159.5L269.8 1164.8L241.4 1182.4A121.0 121.0 0 0 1 239.7 1179.7L268.6 1162.8ZM272.5 1157.9L262.7 1165.4L239.2 1178.8A121.0 121.0 0 0 1 235.3 1171.3L259.6 1159.6ZM270.5 1153.8L266.9 1155.7L235.0 1170.9A121.0 121.0 0 0 1 234.8 1170.4L266.7 1155.3ZM259.2 1157.7L254.7 1160.4L234.5 1169.8A121.0 121.0 0 0 1 233.5 1167.6L253.9 1158.6ZM260.2 1151.3L254.7 1157.3L233.1 1166.6A121.0 121.0 0 0 1 230.6 1160.4L252.7 1152.3ZM258.2 1148.6L254.8 1150.6L230.2 1159.4A121.0 121.0 0 0 1 229.6 1157.4L254.3 1149.1ZM263.7 1143.4L259.2 1147.0L229.4 1157.0A121.0 121.0 0 0 1 228.2 1153.0L258.3 1144.1ZM263.0 1141.7L254.3 1144.6L227.9 1152.2A121.0 121.0 0 0 1 227.7 1151.3L254.1 1143.9ZM252.3 1139.5L251.2 1144.0L227.4 1150.5A121.0 121.0 0 0 1 224.3 1135.1L248.8 1131.8ZM251.6 1125.8L245.5 1131.8L224.3 1134.6A121.0 121.0 0 0 1 223.2 1116.0L244.7 1116.5ZM254.6 1114.1L245.8 1116.1L223.2 1115.5A121.0 121.0 0 0 1 223.6 1109.4L246.0 1111.1ZM253.6 1108.2L245.4 1110.2L223.6 1108.4A121.0 121.0 0 0 1 224.2 1102.8L245.9 1105.7ZM254.0 1105.1L250.5 1105.5L224.4 1101.8A121.0 121.0 0 0 1 225.0 1097.8L251.0 1102.4ZM257.2 1102.5L252.2 1102.0L225.2 1097.1A121.0 121.0 0 0 1 225.4 1096.0L252.3 1101.1ZM254.2 1097.4L248.7 1100.0L225.4 1095.5A121.0 121.0 0 0 1 227.4 1087.2L250.2 1093.4ZM255.7 1093.9L250.6 1092.9L227.6 1086.5A121.0 121.0 0 0 1 227.8 1085.8L250.8 1092.3ZM255.2 1090.9L246.8 1090.5L228.0 1085.1A121.0 121.0 0 0 1 229.0 1081.7L247.6 1087.7ZM270.5 1093.8L256.7 1090.2L229.1 1081.3A121.0 121.0 0 0 1 229.8 1079.4L257.1 1088.8ZM261.2 1088.2L257.7 1088.2L230.1 1078.4A121.0 121.0 0 0 1 231.3 1075.2L258.6 1085.7ZM264.1 1084.3L258.9 1085.0L231.7 1074.2A121.0 121.0 0 0 1 234.2 1068.3L260.8 1080.5ZM267.5 1082.9L261.2 1080.1L234.5 1067.7A121.0 121.0 0 0 1 234.7 1067.3L261.4 1079.8ZM269.9 1083.3L267.4 1082.4L234.8 1067.0A121.0 121.0 0 0 1 235.0 1066.5L267.6 1082.0ZM270.8 1082.8L268.3 1082.0L235.3 1066.0A121.0 121.0 0 0 1 236.1 1064.4L268.8 1080.9ZM264.5 1072.4L260.8 1076.0L236.5 1063.5A121.0 121.0 0 0 1 243.7 1051.4L266.3 1066.5ZM269.3 1066.7L266.8 1065.9L244.2 1050.5A121.0 121.0 0 0 1 246.5 1047.3L268.6 1063.4ZM277.1 1065.6L272.0 1065.0L247.2 1046.4A121.0 121.0 0 0 1 250.5 1042.2L274.5 1061.8ZM287.0 1070.3L280.0 1065.8L250.8 1041.8A121.0 121.0 0 0 1 255.6 1036.3L283.3 1062.1ZM286.3 1059.5L279.1 1057.7L255.9 1036.0A121.0 121.0 0 0 1 260.9 1030.9L282.8 1054.0ZM285.6 1050.6L277.5 1047.9L261.3 1030.6A121.0 121.0 0 0 1 267.6 1025.0L282.6 1043.4ZM288.2 1040.6L279.0 1037.6L268.4 1024.4A121.0 121.0 0 0 1 275.7 1018.9L285.3 1032.9ZM291.8 1039.1L286.9 1033.7L276.6 1018.4A121.0 121.0 0 0 1 278.4 1017.1L288.5 1032.7ZM305.9 1054.8L298.7 1047.8L278.9 1016.9A121.0 121.0 0 0 1 286.2 1012.5L303.9 1044.8ZM306.9 1170.2L306.0 1193.2L289.0 1226.4A121.0 121.0 0 0 1 259.2 1204.8L285.4 1178.3ZM377.0 1205.0L377.8 1204.8L388.2 1231.4A121.0 121.0 0 0 1 383.7 1233.1L374.4 1206.0ZM367.7 1204.6L375.9 1211.8L383.3 1233.2A121.0 121.0 0 0 1 368.5 1237.2L364.0 1215.0ZM358.9 1206.8L363.6 1215.1L368.0 1237.3A121.0 121.0 0 0 1 354.2 1239.3L352.4 1216.7ZM344.9 1205.8L351.2 1207.1L353.7 1239.3A121.0 121.0 0 0 1 340.4 1239.6L341.4 1207.4ZM335.5 1204.5L341.1 1206.1L339.9 1239.6A121.0 121.0 0 0 1 327.7 1238.6L332.3 1205.3ZM324.9 1208.0L330.9 1212.4L327.2 1238.5A121.0 121.0 0 0 1 313.4 1235.7L320.1 1210.3ZM318.2 1197.5L320.6 1206.9L313.0 1235.6A121.0 121.0 0 0 1 300.2 1231.4L311.0 1203.7ZM310.5 1193.5L310.6 1203.7L299.7 1231.2A121.0 121.0 0 0 1 292.9 1228.3L305.4 1201.5ZM388.2 1176.1L414.2 1174.3L438.9 1194.0A121.0 121.0 0 0 1 392.2 1229.8L379.6 1200.7ZM439.4 1138.7L442.2 1137.6L463.0 1141.6A121.0 121.0 0 0 1 461.0 1150.4L440.5 1144.8ZM440.0 1150.4L443.7 1146.1L460.9 1150.8A121.0 121.0 0 0 1 458.1 1159.5L441.3 1153.4ZM441.2 1156.9L447.1 1156.0L458.0 1159.9A121.0 121.0 0 0 1 454.3 1168.9L443.7 1164.1ZM435.7 1166.1L440.9 1163.3L454.1 1169.4A121.0 121.0 0 0 1 449.0 1179.2L436.4 1172.0ZM434.5 1173.9L437.5 1173.1L448.7 1179.6A121.0 121.0 0 0 1 446.7 1183.0L435.7 1176.1ZM424.9 1175.6L434.1 1175.6L446.4 1183.4A121.0 121.0 0 0 1 440.3 1192.2L428.8 1183.3ZM463.3 1140.3A121 121 0 1 1 465.2 1118.7L456.5 1118.7A112.3 112.3 0 1 0 454.7 1138.8ZM463.3 1140.3A121 121 0 0 1 440.2 1192.4L423.4 1179.4A99.8 99.8 0 0 0 442.4 1136.5ZM440.2 1192.4A121 121 0 0 1 388.4 1231.3L379.9 1209.8A97.9 97.9 0 0 0 421.8 1178.3ZM388.4 1231.3A121 121 0 0 1 289 1226.4L297.8 1209.2A101.7 101.7 0 0 0 381.3 1213.4ZM289 1226.4A121 121 0 0 1 290.1 1010.5L300.4 1031.2A97.9 97.9 0 0 0 299.5 1205.8ZM290.1 1010.5A121 121 0 0 1 353.7 998.1L352.2 1017.3A101.7 101.7 0 0 0 298.7 1027.7Z" fill="currentColor"/>
<path d="M344.4 1116.8L354.9 1009.6M344.5 1116.8L362.4 1007.8M344.6 1116.8L366.4 1008.1M344.7 1116.8L372.2 1012.1M344.8 1116.9L377.7 1020.7M344.9 1116.9L384.1 1017.2M345.0 1116.9L385.9 1022.3M345.1 1117.0L393.6 1019.2M345.1 1117.0L396.3 1021.0M345.2 1117.0L400.4 1021.7M345.3 1117.1L405.3 1028.5M345.4 1117.2L410.3 1031.0M345.4 1117.2L409.4 1038.6M345.5 1117.3L417.0 1037.4M345.6 1117.3L421.7 1042.2M345.6 1117.4L420.3 1049.5M345.7 1117.5L429.4 1047.1M345.7 1117.5L432.4 1049.0M345.8 1117.6L432.4 1055.8M345.9 1117.7L433.9 1065.2M345.9 1117.8L438.8 1069.4M346.0 1117.9L443.3 1072.9M346.0 1118.0L441.9 1079.3M346.0 1118.1L445.5 1084.1M346.0 1118.1L445.2 1088.0M346.1 1118.2L449.2 1089.9M346.1 1118.3L445.6 1096.6M346.1 1118.4L447.6 1100.4M346.1 1118.5L453.3 1108.2M346.1 1118.6L451.2 1114.6M344.2 1118.7L318.3 1067.0M344.2 1176.5A57.8 57.8 0 0 1 318.3 1067.0M285.5 1171.1L283.9 1172.5M283.6 1168.9L282.1 1170.1M277.1 1171.0L273.8 1173.5M271.6 1170.6L269.1 1172.4M269.3 1167.2L265.3 1169.7M268.6 1166.2L265.6 1168.1M271.6 1170.6A89.2 89.2 0 0 1 268.6 1166.2M273.5 1166.1L270.1 1168.4M277.1 1171.0A85.1 85.1 0 0 1 273.5 1166.1M280.4 1164.8L275.3 1168.6M285.5 1171.1A78.7 78.7 0 0 1 280.4 1164.8M299.1 1155.0L282.9 1168.0M277.3 1158.6L275.7 1159.5M275.8 1156.1L272.5 1157.9M277.3 1158.6A77.9 77.9 0 0 1 275.8 1156.1M294.0 1147.4L276.5 1157.4M275.3 1151.5L270.5 1153.8M263.3 1155.8L259.2 1157.7M261.2 1150.9L260.2 1151.3M260.1 1147.9L258.2 1148.6M263.3 1155.8A89.0 89.0 0 0 1 260.1 1147.9M273.4 1147.2L261.6 1151.9M275.3 1151.5A76.3 76.3 0 0 1 273.4 1147.2M291.2 1141.9L274.3 1149.4M265.0 1143.0L263.7 1143.4M264.5 1141.3L263.0 1141.7M263.4 1137.0L252.3 1139.5M265.0 1143.0A82.9 82.9 0 0 1 263.4 1137.0M288.3 1133.6L264.1 1140.0M286.5 1123.1L251.6 1125.8M259.0 1114.3L254.6 1114.1M255.8 1108.4L253.6 1108.2M256.2 1105.4L254.0 1105.1M255.8 1108.4A89.0 89.0 0 0 1 256.2 1105.4M259.7 1107.4L256.0 1106.9M260.4 1103.1L257.2 1102.5M259.0 1114.3A85.3 85.3 0 0 1 260.4 1103.1M286.7 1111.9L259.5 1108.7M255.9 1097.8L254.2 1097.4M256.9 1094.2L255.7 1093.9M257.6 1091.7L255.2 1090.9M255.9 1097.8A90.7 90.7 0 0 1 257.6 1091.7M288.4 1103.4L256.7 1094.7M272.1 1094.4L270.5 1093.8M265.3 1089.7L261.2 1088.2M267.0 1085.5L264.1 1084.3M265.3 1089.7A84.0 84.0 0 0 1 267.0 1085.5M270.0 1089.1L266.1 1087.6M271.8 1084.9L267.5 1082.9M272.1 1084.3L269.9 1083.3M270.0 1089.1A79.9 79.9 0 0 1 272.1 1084.3M274.5 1088.2L271.0 1086.7M272.1 1094.4A76.1 76.1 0 0 1 274.5 1088.2M290.2 1097.9L273.2 1091.3M272.4 1083.6L270.8 1082.8M266.1 1073.3L264.5 1072.4M270.0 1067.2L269.3 1066.7M266.1 1073.3A90.3 90.3 0 0 1 270.0 1067.2M276.7 1075.8L268.0 1070.2M281.5 1069.1L277.1 1065.6M272.4 1083.6A80.0 80.0 0 0 1 281.5 1069.1M295.3 1087.9L276.5 1076.1M300.0 1081.3L287.0 1070.3M303.7 1077.3L286.3 1059.5M288.7 1054.1L285.6 1050.6M290.7 1044.1L288.2 1040.6M293.7 1042.0L291.8 1039.1M290.7 1044.1A91.8 91.8 0 0 1 293.7 1042.0M295.9 1048.5L292.2 1043.1M288.7 1054.1A85.2 85.2 0 0 1 295.9 1048.5M308.9 1072.9L292.2 1051.2M314.4 1069.1L305.9 1054.8M310.3 1165.6L305.8 1171.8M344.2 1176.5L344.3 1189.1M398.6 1163.4A70.4 70.4 0 0 1 314.2 1182.4M369.2 1184.5L377.0 1205.0M362.8 1186.6L367.7 1204.6M355.8 1188.1L358.9 1206.8M344.8 1189.1L344.9 1205.8M337.1 1188.7L335.5 1204.5M329.3 1187.5L324.9 1208.0M322.2 1185.5L318.2 1197.5M315.3 1182.9L310.5 1193.5M386.5 1174.9L388.8 1178.0M398.6 1163.4L412.7 1175.1M427.5 1149.1A88.7 88.7 0 0 1 412.7 1175.1M431.0 1136.9L439.4 1138.7M428.4 1146.6L440.0 1150.4M426.7 1151.2L441.2 1156.9M422.9 1159.5L435.7 1166.1M419.9 1165.0L434.5 1173.9M416.7 1169.8L424.9 1175.6" fill="none" stroke="currentColor" stroke-width="1.00"/>
<path d="M291.2 1202.6L288.6 1207.3L288.1 1206.9ZM282.7 1189.5L278.4 1195.2L277.7 1194.6ZM280.8 1188.2L270.1 1200.7L269.2 1199.9ZM289.7 1198.3L283.3 1208.9L282.2 1208.1ZM293.6 1187.9L281.8 1205.2L280.8 1204.4ZM287.8 1198.0L280.5 1209.4L279.4 1208.7ZM296.4 1200.6L288.9 1214.2L288.2 1213.8ZM278.9 1193.6L276.7 1197.0L275.9 1196.3ZM398.7 1187.9L406.4 1196.7L405.5 1197.5ZM408.1 1189.1L420.5 1201.7L419.5 1202.6ZM414.1 1179.7L424.5 1187.8L423.5 1188.9ZM397.7 1206.8L402.8 1214.6L402.3 1214.9ZM408.6 1184.1L423.1 1197.7L422.1 1198.7ZM395.8 1199.7L404.3 1212.1L403.4 1212.7ZM383.6 1201.5L391.8 1217.0L390.6 1217.6ZM418.9 1189.9L426.3 1196.4L425.7 1197.0ZM396.9 1205.3L401.2 1211.7L400.6 1212.0ZM390.4 1200.7L395.5 1208.5L394.4 1209.1ZM400.0 1202.5L404.1 1207.9L403.3 1208.4ZM396.3 1204.7L401.1 1212.1L400.6 1212.4ZM269.6 1050.3L261.9 1041.7L271.1 1048.7ZM341.1 1214.2L339.5 1233.5L339.4 1214.2ZM399.9 1205.5L403.2 1212.6L398.2 1206.6ZM441.0 1144.0L450.3 1147.6L440.4 1146.1ZM374.7 1215.4L377.3 1227.1L372.9 1216.0ZM298.9 1201.6L289.4 1217.0L297.5 1200.8ZM344.4 1020.3L345.0 1007.5L345.5 1020.3ZM282.9 1188.8L268.4 1203.2L281.1 1187.3ZM310.5 1031.7L305.0 1013.2L312.8 1030.9ZM314.6 1214.5L310.3 1224.4L312.7 1213.9ZM250.2 1078.3L243.6 1074.2L251.1 1076.3ZM426.4 1162.8L441.2 1171.7L425.8 1164.0ZM442.8 1148.9L449.7 1151.6L442.4 1150.0ZM400.4 1197.7L409.2 1212.5L398.4 1199.1ZM388.3 1209.9L391.7 1218.9L386.9 1210.6ZM343.9 1023.0L344.6 1002.7L345.1 1023.0ZM437.2 1138.4L453.2 1143.1L436.8 1140.5ZM329.9 1023.0L328.5 1006.3L331.7 1022.7ZM276.7 1188.1L266.9 1196.4L275.1 1186.5ZM334.1 1212.2L331.1 1227.6L331.8 1212.0ZM253.3 1148.8L234.5 1153.8L252.7 1147.0ZM259.5 1063.6L251.4 1057.2L260.5 1062.1ZM326.3 1021.4L325.0 1007.6L328.4 1021.0ZM257.9 1073.3L245.4 1065.3L258.9 1071.4ZM297.6 1036.3L290.5 1020.8L299.6 1035.1ZM242.0 1120.0L229.4 1119.4L242.0 1118.7ZM268.2 1180.0L257.0 1187.4L266.8 1178.3ZM252.6 1133.4L231.0 1135.5L252.3 1131.2ZM426.5 1177.1L434.8 1184.5L425.1 1178.9ZM297.0 1030.8L291.2 1018.4L298.3 1030.1ZM345.9 1015.9L347.2 1007.9L348.1 1015.9ZM351.2 1214.3L351.3 1228.4L349.6 1214.4ZM394.8 1202.0L400.4 1213.0L393.3 1202.9ZM383.5 1214.0L387.0 1224.5L382.3 1214.5ZM246.4 1137.3L233.9 1138.5L246.0 1135.4ZM338.9 1025.7L339.1 1008.0L340.9 1025.6ZM285.4 1036.1L280.1 1027.2L286.6 1035.2ZM331.5 1221.3L329.6 1228.3L329.7 1221.1ZM415.0 1183.9L427.9 1197.2L413.8 1185.2ZM285.9 1193.1L275.5 1205.0L284.8 1192.2ZM340.1 1220.2L338.9 1233.8L338.8 1220.2ZM347.8 1214.4L347.6 1233.8L346.3 1214.5ZM431.3 1152.9L449.2 1160.9L430.8 1154.3ZM322.7 1029.1L319.0 1010.9L323.7 1028.8ZM378.9 1214.1L380.8 1222.6L376.9 1214.8ZM340.9 1026.4L341.5 1004.4L343.1 1026.3ZM410.8 1196.1L418.7 1206.8L409.5 1197.2ZM295.1 1202.4L287.6 1213.8L294.0 1201.7ZM273.3 1052.8L261.6 1040.2L274.8 1051.2ZM256.6 1074.6L240.8 1065.8L257.2 1073.4ZM331.9 1218.7L329.1 1232.8L330.1 1218.4ZM256.7 1171.4L249.6 1174.4L255.7 1169.6ZM291.0 1038.6L283.1 1024.6L292.7 1037.5ZM336.6 1218.5L334.6 1229.5L334.6 1218.4ZM430.8 1150.2L451.2 1158.5L430.3 1151.4ZM281.2 1047.1L269.4 1032.8L282.0 1046.4ZM283.3 1035.2L279.1 1027.6L285.0 1034.0ZM277.8 1053.4L262.7 1036.6L279.4 1051.8ZM304.0 1210.5L296.8 1224.1L302.3 1209.7ZM289.3 1043.1L278.9 1027.0L290.7 1042.1ZM293.5 1208.6L288.6 1215.2L291.9 1207.6ZM434.6 1162.2L444.5 1168.2L433.7 1164.1ZM300.1 1036.3L291.3 1018.8L300.9 1035.9ZM256.4 1084.7L242.0 1077.7L257.2 1082.6ZM294.9 1034.6L289.8 1023.4L296.9 1033.5ZM245.5 1115.9L229.0 1114.4L245.5 1114.2ZM438.7 1160.5L447.5 1165.5L437.9 1162.2ZM287.9 1198.5L276.8 1213.1L287.0 1197.9ZM307.2 1026.8L301.8 1010.8L308.8 1026.2ZM362.1 1219.3L363.1 1231.3L360.1 1219.6ZM444.3 1065.7L447.5 1064.7L444.8 1066.8ZM422.0 1041.9L428.3 1036.7L423.0 1042.9ZM433.7 1059.7L441.1 1056.2L434.8 1061.4ZM422.8 1043.9L429.5 1038.6L423.8 1045.0ZM358.9 1010.2L360.9 1003.7L360.9 1010.5ZM362.7 1014.2L365.4 1002.9L363.9 1014.4ZM370.2 1005.3L370.9 1004.7L371.2 1005.5ZM436.7 1056.7L440.6 1055.0L437.5 1057.9ZM452.9 1099.8L458.4 1100.1L453.3 1102.2ZM365.6 1010.6L368.1 1003.6L367.5 1011.0ZM454.4 1085.9L455.5 1086.1L454.7 1086.9ZM432.6 1054.1L439.0 1050.4L433.5 1055.4ZM415.9 1027.6L417.8 1026.4L417.0 1028.5ZM458.6 1101.4L458.9 1102.2L458.9 1103.1ZM381.1 1019.5L385.3 1009.9L382.1 1019.8ZM365.4 1014.7L368.4 1005.1L367.2 1015.0ZM429.1 1042.9L431.6 1042.2L430.7 1044.7ZM430.5 1040.5L432.0 1040.1L431.4 1041.6ZM458.7 1102.3L459.0 1103.4L459.0 1104.5ZM381.2 1012.8L383.4 1008.1L382.2 1013.2Z" fill="#fff"/></g>
<clipPath id="fclip"><path d="M344.2 1118.7L316.5 998.9A123 123 0 0 1 420.8 1022.4ZM465.2 1140.7A123 123 0 0 1 409.4 1223L374.9 1167.9A58 58 0 0 0 401.3 1129.1ZM388.3 1233.5A123 123 0 0 1 310.3 1236.9L324.4 1187.9A72 72 0 0 0 370 1185.9ZM284.6 1226.3A123 123 0 0 1 233.6 1172.6L292.1 1144.1A58 58 0 0 0 316.1 1169.4Z"/></clipPath></defs>
<use href="#ftree" color="#1a1a1a"/>
<use href="#ftree" color="#b5232a" clip-path="url(#fclip)"/>
<path d="M314 997.4A125 125 0 0 1 422.9 1021.6" stroke="#231f20" stroke-width="1" fill="none"/>
<path d="M467.1 1141.5A125 125 0 0 1 410.4 1224.7" stroke="#231f20" stroke-width="1" fill="none"/>
<path d="M389 1235.4A125 125 0 0 1 308.7 1238.6" stroke="#231f20" stroke-width="1" fill="none"/>
<path d="M283.6 1228A125 125 0 0 1 231.4 1172.5" stroke="#231f20" stroke-width="1" fill="none"/>
<path d="M300.7 850.2A272 272 0 0 1 475.7 880.6" stroke="#231f20" stroke-width="2.3" fill="none"/>
<path d="M610.7 1172.9A272 272 0 0 1 496.3 1344.2" stroke="#231f20" stroke-width="2.3" fill="none"/>
<path d="M190.1 1342.9A272 272 0 0 1 107.2 1252.2" stroke="#231f20" stroke-width="2.3" fill="none"/>
<text x="373.4" y="993.4" font-size="20.5" fill="#231f20" stroke="#fff" stroke-width="4" stroke-linejoin="round" paint-order="stroke">A</text>
<text x="452.3" y="1199.4" font-size="20.5" fill="#231f20" stroke="#fff" stroke-width="4" stroke-linejoin="round" paint-order="stroke">B</text>
<text x="344.9" y="1261.5" font-size="20.5" fill="#231f20" stroke="#fff" stroke-width="4" stroke-linejoin="round" paint-order="stroke">C</text>
<text x="236.6" y="1219.9" font-size="20.5" fill="#231f20" stroke="#fff" stroke-width="4" stroke-linejoin="round" paint-order="stroke">D</text>
<path d="M302.5 1132H325.9" stroke="#b5232a" stroke-width="2.2"/>
<text x="328.4" y="1141.5" font-size="21.26" fill="#231f20">Expanded</text>
<text x="329.1" y="1165.3" font-size="21.17" fill="#231f20">clades</text>
<circle cx="505.7" cy="1131.9" r="8.3" fill="none" stroke="#231f20" stroke-width="1"/><text x="501.5" y="1137.6" font-size="14.50" fill="#231f20">1</text>
<circle cx="552.2" cy="1131.9" r="8.3" fill="none" stroke="#231f20" stroke-width="1"/><text x="548.2" y="1137.6" font-size="14.50" fill="#231f20">2</text>
<circle cx="590.2" cy="1131.9" r="8.3" fill="none" stroke="#231f20" stroke-width="1"/><text x="586.2" y="1137.6" font-size="14.50" fill="#231f20">3</text>
<text x="89.6" y="921.1" font-size="21.10" fill="#231f20">Aged-1</text>
<text x="300.2" y="807.7" font-size="21.57" fill="#231f20">LOY-enriched clade</text>
<text x="286.3" y="832.2" font-size="20.66" fill="#231f20"><tspan font-style="italic">P</tspan>&#160;=&#160;0.009&#160;(FDR&#160;=&#160;0.03)</text>
<text x="1.3" y="1309.9" font-size="21.62" fill="#231f20">LOY-enriched</text>
<text x="-0.4" y="1334.5" font-size="21.06" fill="#231f20">clade&#160;<tspan font-style="italic">P</tspan>&#160;=&#160;0.10</text>
<text x="11" y="1359.8" font-size="20.37" fill="#231f20">(FDR = 0.14)</text>
<text x="562.7" y="1300" font-size="21.77" fill="#231f20">LOY-depleted</text>
<text x="555.7" y="1324.8" font-size="21.06" fill="#231f20">clade&#160;<tspan font-style="italic">P</tspan>&#160;=&#160;0.005</text>
<text x="572.6" y="1348.3" font-size="20.26" fill="#231f20">(FDR = 0.03)</text>
<circle cx="120.1" cy="1394.8" r="8.3" fill="none" stroke="#231f20" stroke-width="1"/><text x="115.9" y="1400.5" font-size="14.50" fill="#231f20">1</text>
<text x="136.3" y="1401" font-size="21.00" fill="#231f20">Fitness score</text>
<circle cx="282.5" cy="1394.8" r="8.3" fill="none" stroke="#231f20" stroke-width="1"/><text x="278.5" y="1400.5" font-size="14.50" fill="#231f20">2</text>
<text x="297.9" y="1401.7" font-size="21.04" fill="#231f20">LOY enrichment</text>
<circle cx="477.5" cy="1394.8" r="8.3" fill="none" stroke="#231f20" stroke-width="1"/><text x="473.5" y="1400.5" font-size="14.50" fill="#231f20">3</text>
<path d="M468.4 1420H484.8" stroke="#f59a55" stroke-width="1.8"/>
<text x="491.8" y="1426.4" font-size="20.79" fill="#231f20">Single cell of LOY</text>
<defs><linearGradient id="gfit" x1="0" x2="1" y1="0" y2="0"><stop offset="0" stop-color="#98a8c4"/><stop offset="0.285" stop-color="#ffffff"/><stop offset="0.55" stop-color="#eeb3b6"/><stop offset="0.8" stop-color="#d4707f"/><stop offset="1" stop-color="#a50f3a"/></linearGradient><linearGradient id="gvir" x1="0" x2="1" y1="0" y2="0"><stop offset="0.00" stop-color="#440154"/><stop offset="0.10" stop-color="#482475"/><stop offset="0.20" stop-color="#414487"/><stop offset="0.30" stop-color="#355f8d"/><stop offset="0.40" stop-color="#2a788e"/><stop offset="0.50" stop-color="#21918c"/><stop offset="0.60" stop-color="#22a884"/><stop offset="0.70" stop-color="#44bf70"/><stop offset="0.80" stop-color="#7ad151"/><stop offset="0.90" stop-color="#bddf26"/><stop offset="1.00" stop-color="#fde725"/></linearGradient></defs>
<rect x="149.5" y="1408" width="97.5" height="19.5" fill="url(#gfit)" stroke="#444" stroke-width="1"/>
<path d="M177.3 1408v3M177.3 1427.5v-3" stroke="#555" stroke-width="0.8"/>
<path d="M204.7 1408v3M204.7 1427.5v-3" stroke="#555" stroke-width="0.8"/>
<path d="M216.1 1408v3M216.1 1427.5v-3" stroke="#555" stroke-width="0.8"/>
<text x="138" y="1444.7" font-size="21.00" fill="#231f20">−1</text>
<text x="170.5" y="1444.7" font-size="21.00" fill="#231f20">0</text>
<text x="198.6" y="1444.7" font-size="21.00" fill="#231f20">12</text>
<rect x="306.9" y="1407.4" width="99.7" height="20.2" fill="url(#gvir)" stroke="#231f20" stroke-width="1.2"/>
<path d="M322 1407.4v3M322 1427.6v-3" stroke="#333" stroke-width="0.8"/>
<path d="M335 1407.4v3M335 1427.6v-3" stroke="#333" stroke-width="0.8"/>
<path d="M355.5 1407.4v3M355.5 1427.6v-3" stroke="#333" stroke-width="0.8"/>
<path d="M376 1407.4v3M376 1427.6v-3" stroke="#333" stroke-width="0.8"/>
<path d="M396.2 1407.4v3M396.2 1427.6v-3" stroke="#333" stroke-width="0.8"/>
<text x="296" y="1446" font-size="21.00" fill="#231f20">−1</text>
<text x="349.7" y="1446" font-size="21.00" fill="#231f20">0</text>
<text x="390.1" y="1446" font-size="21.00" fill="#231f20">1</text>
<text transform="translate(718.2 807) scale(1.272 1)" x="-1.2" y="0" font-size="28.80" font-weight="bold" fill="#231f20">g</text>
<polygon points="877.2,901.6 922.1,907.8 952.7,943.1 959.4,989.4 939.5,1031.6 900.7,1057.7 853.7,1057.7 813.3,1032.9 795.0,989.4 799.9,942.3 832.3,907.8" fill="#c4c4c4"/>
<path d="M877.2 953.0L890.5 956.9L899.6 967.4L901.5 981.1L895.8 993.7L884.1 1001.2L870.3 1001.2L858.6 993.7L852.9 981.1L854.8 967.4L863.9 956.9ZM877.2 928.4L903.8 936.2L922.0 957.2L925.9 984.6L914.4 1009.8L891.1 1024.8L863.3 1024.8L840.0 1009.8L828.5 984.6L832.4 957.2L850.6 936.2ZM877.2 903.8L917.1 915.5L944.3 946.9L950.2 988.1L933.0 1025.9L898.0 1048.4L856.4 1048.4L821.4 1025.9L804.2 988.1L810.1 946.9L837.3 915.5ZM877.2 879.2L930.4 894.8L966.7 936.7L974.6 991.6L951.6 1042.0L904.9 1072.0L849.5 1072.0L802.8 1042.0L779.8 991.6L787.7 936.7L824.0 894.8ZM877.2 854.6L943.7 874.1L989.1 926.5L998.9 995.1L970.2 1058.1L911.9 1095.6L842.5 1095.6L784.2 1058.1L755.5 995.1L765.3 926.5L810.7 874.1ZM877.2 953.0L877.2 854.6M890.5 956.9L943.7 874.1M899.6 967.4L989.1 926.5M901.5 981.1L998.9 995.1M895.8 993.7L970.2 1058.1M884.1 1001.2L911.9 1095.6M870.3 1001.2L842.5 1095.6M858.6 993.7L784.2 1058.1M852.9 981.1L755.5 995.1M854.8 967.4L765.3 926.5M863.9 956.9L810.7 874.1" fill="none" stroke="#1f2f7a" stroke-width="1" stroke-dasharray="3 2.2"/>
<polygon points="877.2,888.5 918.0,914.1 919.2,958.4 936.6,986.1 932.9,1025.9 895.6,1040.3 860.9,1033.1 807.7,1037.8 783.9,991.0 787.8,936.8 822.7,892.8" fill="none" stroke="#141414" stroke-width="2.8" stroke-linejoin="round"/>
<circle cx="877.2" cy="888.5" r="2.4" fill="#141414"/>
<circle cx="918.0" cy="914.1" r="2.4" fill="#141414"/>
<circle cx="919.2" cy="958.4" r="2.4" fill="#141414"/>
<circle cx="936.6" cy="986.1" r="2.4" fill="#141414"/>
<circle cx="932.9" cy="1025.9" r="2.4" fill="#141414"/>
<circle cx="895.6" cy="1040.3" r="2.4" fill="#141414"/>
<circle cx="860.9" cy="1033.1" r="2.4" fill="#141414"/>
<circle cx="807.7" cy="1037.8" r="2.4" fill="#141414"/>
<circle cx="783.9" cy="991.0" r="2.4" fill="#141414"/>
<circle cx="787.8" cy="936.8" r="2.4" fill="#141414"/>
<circle cx="822.7" cy="892.8" r="2.4" fill="#141414"/>
<text x="861.3" y="859" font-size="16.8" fill="#2a62b5" stroke="#fff" stroke-width="5" stroke-linejoin="round" paint-order="stroke">2.00</text>
<text x="861.4" y="883.6" font-size="16.8" fill="#2a62b5" stroke="#fff" stroke-width="5" stroke-linejoin="round" paint-order="stroke">0.75</text>
<text x="856.4" y="908.2" font-size="16.8" fill="#2a62b5" stroke="#fff" stroke-width="5" stroke-linejoin="round" paint-order="stroke">−0.50</text>
<text x="856.4" y="932.8" font-size="16.8" fill="#2a62b5" stroke="#fff" stroke-width="5" stroke-linejoin="round" paint-order="stroke">−1.75</text>
<text x="856.4" y="957.4" font-size="16.8" fill="#2a62b5" stroke="#fff" stroke-width="5" stroke-linejoin="round" paint-order="stroke">−3.00</text>
<text x="862.4" y="835.2" font-size="20.50" fill="#231f20">NK</text>
<text x="940" y="863.6" font-size="20.50" fill="#231f20">Mono</text>
<text x="994.7" y="923.1" font-size="20.50" fill="#231f20">GMP</text>
<text x="1006.2" y="1000.4" font-size="20.50" fill="#231f20">MEP</text>
<text x="971.4" y="1080.2" font-size="20.50" fill="#231f20">MKP</text>
<text x="896.1" y="1119.5" font-size="20.50" fill="#231f20">MPP</text>
<text x="812.9" y="1119.5" font-size="20.50" fill="#231f20">HSC</text>
<text x="736.8" y="1077.7" font-size="20.50" fill="#231f20">ProB</text>
<text x="734.1" y="1002.4" font-size="20.50" fill="#231f20">B</text>
<text x="721.5" y="923.1" font-size="20.50" fill="#231f20">CD4</text>
<text x="771" y="867.4" font-size="20.50" fill="#231f20">CD8</text>
<text x="824" y="805.3" font-size="20.50" fill="#231f20">Expansion A</text>
<polygon points="1246.0,902.9 1290.9,909.1 1321.5,944.4 1328.2,990.7 1308.3,1032.9 1269.5,1059.0 1222.5,1059.0 1182.1,1034.2 1163.8,990.7 1168.7,943.6 1201.1,909.1" fill="#c4c4c4"/>
<path d="M1246.0 954.3L1259.3 958.2L1268.4 968.7L1270.3 982.4L1264.6 995.0L1252.9 1002.5L1239.1 1002.5L1227.4 995.0L1221.7 982.4L1223.6 968.7L1232.7 958.2ZM1246.0 929.7L1272.6 937.5L1290.8 958.5L1294.7 985.9L1283.2 1011.1L1259.9 1026.1L1232.1 1026.1L1208.8 1011.1L1197.3 985.9L1201.2 958.5L1219.4 937.5ZM1246.0 905.1L1285.9 916.8L1313.1 948.2L1319.0 989.4L1301.8 1027.2L1266.8 1049.7L1225.2 1049.7L1190.2 1027.2L1173.0 989.4L1178.9 948.2L1206.1 916.8ZM1246.0 880.5L1299.2 896.1L1335.5 938.0L1343.4 992.9L1320.4 1043.3L1273.7 1073.3L1218.3 1073.3L1171.6 1043.3L1148.6 992.9L1156.5 938.0L1192.8 896.1ZM1246.0 855.9L1312.5 875.4L1357.9 927.8L1367.7 996.4L1339.0 1059.4L1280.7 1096.9L1211.3 1096.9L1153.0 1059.4L1124.3 996.4L1134.1 927.8L1179.5 875.4ZM1246.0 954.3L1246.0 855.9M1259.3 958.2L1312.5 875.4M1268.4 968.7L1357.9 927.8M1270.3 982.4L1367.7 996.4M1264.6 995.0L1339.0 1059.4M1252.9 1002.5L1280.7 1096.9M1239.1 1002.5L1211.3 1096.9M1227.4 995.0L1153.0 1059.4M1221.7 982.4L1124.3 996.4M1223.6 968.7L1134.1 927.8M1232.7 958.2L1179.5 875.4" fill="none" stroke="#1f2f7a" stroke-width="1" stroke-dasharray="3 2.2"/>
<polygon points="1246.0,873.9 1292.7,906.3 1281.7,962.6 1280.9,983.9 1268.9,998.7 1254.9,1009.1 1234.9,1016.7 1195.8,1022.4 1154.5,992.0 1153.1,936.5 1189.5,891.0" fill="none" stroke="#e05468" stroke-width="2.8" stroke-linejoin="round"/>
<circle cx="1246.0" cy="873.9" r="2.4" fill="#e05468"/>
<circle cx="1292.7" cy="906.3" r="2.4" fill="#e05468"/>
<circle cx="1281.7" cy="962.6" r="2.4" fill="#e05468"/>
<circle cx="1280.9" cy="983.9" r="2.4" fill="#e05468"/>
<circle cx="1268.9" cy="998.7" r="2.4" fill="#e05468"/>
<circle cx="1254.9" cy="1009.1" r="2.4" fill="#e05468"/>
<circle cx="1234.9" cy="1016.7" r="2.4" fill="#e05468"/>
<circle cx="1195.8" cy="1022.4" r="2.4" fill="#e05468"/>
<circle cx="1154.5" cy="992.0" r="2.4" fill="#e05468"/>
<circle cx="1153.1" cy="936.5" r="2.4" fill="#e05468"/>
<circle cx="1189.5" cy="891.0" r="2.4" fill="#e05468"/>
<text x="1230.1" y="860.3" font-size="16.8" fill="#2a62b5" stroke="#fff" stroke-width="5" stroke-linejoin="round" paint-order="stroke">2.00</text>
<text x="1230.2" y="884.9" font-size="16.8" fill="#2a62b5" stroke="#fff" stroke-width="5" stroke-linejoin="round" paint-order="stroke">0.75</text>
<text x="1225.2" y="909.5" font-size="16.8" fill="#2a62b5" stroke="#fff" stroke-width="5" stroke-linejoin="round" paint-order="stroke">−0.50</text>
<text x="1225.2" y="934.1" font-size="16.8" fill="#2a62b5" stroke="#fff" stroke-width="5" stroke-linejoin="round" paint-order="stroke">−1.75</text>
<text x="1225.2" y="958.7" font-size="16.8" fill="#2a62b5" stroke="#fff" stroke-width="5" stroke-linejoin="round" paint-order="stroke">−3.00</text>
<text x="1227.4" y="836.4" font-size="20.50" fill="#231f20">NK</text>
<text x="1307.8" y="865.1" font-size="20.50" fill="#231f20">Mono</text>
<text x="1356.9" y="921" font-size="20.50" fill="#231f20">GMP</text>
<text x="1371.2" y="1003.1" font-size="20.50" fill="#231f20">MEP</text>
<text x="1343.6" y="1081.1" font-size="20.50" fill="#231f20">MKP</text>
<text x="1262.4" y="1117.9" font-size="20.50" fill="#231f20">MPP</text>
<text x="1179.7" y="1117.9" font-size="20.50" fill="#231f20">HSC</text>
<text x="1103.6" y="1078.5" font-size="20.50" fill="#231f20">ProB</text>
<text x="1103.4" y="1003.6" font-size="20.50" fill="#231f20">B</text>
<text x="1087.2" y="921" font-size="20.50" fill="#231f20">CD4</text>
<text x="1135.7" y="868.9" font-size="20.50" fill="#231f20">CD8</text>
<text x="1186.9" y="805.4" font-size="20.50" fill="#231f20">Expansion B</text>
<polygon points="879.5,1252.0 924.4,1258.2 955.0,1293.5 961.7,1339.8 941.8,1382.0 903.0,1408.1 856.0,1408.1 815.6,1383.3 797.3,1339.8 802.2,1292.7 834.6,1258.2" fill="#c4c4c4"/>
<path d="M879.5 1303.4L892.8 1307.3L901.9 1317.8L903.8 1331.5L898.1 1344.1L886.4 1351.6L872.6 1351.6L860.9 1344.1L855.2 1331.5L857.1 1317.8L866.2 1307.3ZM879.5 1278.8L906.1 1286.6L924.3 1307.6L928.2 1335.0L916.7 1360.2L893.4 1375.2L865.6 1375.2L842.3 1360.2L830.8 1335.0L834.7 1307.6L852.9 1286.6ZM879.5 1254.2L919.4 1265.9L946.6 1297.3L952.5 1338.5L935.3 1376.3L900.3 1398.8L858.7 1398.8L823.7 1376.3L806.5 1338.5L812.4 1297.3L839.6 1265.9ZM879.5 1229.6L932.7 1245.2L969.0 1287.1L976.9 1342.0L953.9 1392.4L907.2 1422.4L851.8 1422.4L805.1 1392.4L782.1 1342.0L790.0 1287.1L826.3 1245.2ZM879.5 1205.0L946.0 1224.5L991.4 1276.9L1001.2 1345.5L972.5 1408.5L914.2 1446.0L844.8 1446.0L786.5 1408.5L757.8 1345.5L767.6 1276.9L813.0 1224.5ZM879.5 1303.4L879.5 1205.0M892.8 1307.3L946.0 1224.5M901.9 1317.8L991.4 1276.9M903.8 1331.5L1001.2 1345.5M898.1 1344.1L972.5 1408.5M886.4 1351.6L914.2 1446.0M872.6 1351.6L844.8 1446.0M860.9 1344.1L786.5 1408.5M855.2 1331.5L757.8 1345.5M857.1 1317.8L767.6 1276.9M866.2 1307.3L813.0 1224.5" fill="none" stroke="#1f2f7a" stroke-width="1" stroke-dasharray="3 2.2"/>
<polygon points="879.5,1266.8 929.2,1250.6 975.4,1284.2 972.9,1341.4 951.8,1390.7 907.3,1422.6 856.0,1408.0 816.3,1382.7 804.1,1338.8 812.2,1297.3 840.9,1267.9" fill="none" stroke="#5cb84f" stroke-width="2.8" stroke-linejoin="round"/>
<circle cx="879.5" cy="1266.8" r="2.4" fill="#5cb84f"/>
<circle cx="929.2" cy="1250.6" r="2.4" fill="#5cb84f"/>
<circle cx="975.4" cy="1284.2" r="2.4" fill="#5cb84f"/>
<circle cx="972.9" cy="1341.4" r="2.4" fill="#5cb84f"/>
<circle cx="951.8" cy="1390.7" r="2.4" fill="#5cb84f"/>
<circle cx="907.3" cy="1422.6" r="2.4" fill="#5cb84f"/>
<circle cx="856.0" cy="1408.0" r="2.4" fill="#5cb84f"/>
<circle cx="816.3" cy="1382.7" r="2.4" fill="#5cb84f"/>
<circle cx="804.1" cy="1338.8" r="2.4" fill="#5cb84f"/>
<circle cx="812.2" cy="1297.3" r="2.4" fill="#5cb84f"/>
<circle cx="840.9" cy="1267.9" r="2.4" fill="#5cb84f"/>
<text x="863.6" y="1209.4" font-size="16.8" fill="#2a62b5" stroke="#fff" stroke-width="5" stroke-linejoin="round" paint-order="stroke">2.00</text>
<text x="863.7" y="1234" font-size="16.8" fill="#2a62b5" stroke="#fff" stroke-width="5" stroke-linejoin="round" paint-order="stroke">0.75</text>
<text x="858.7" y="1258.6" font-size="16.8" fill="#2a62b5" stroke="#fff" stroke-width="5" stroke-linejoin="round" paint-order="stroke">−0.50</text>
<text x="858.7" y="1283.2" font-size="16.8" fill="#2a62b5" stroke="#fff" stroke-width="5" stroke-linejoin="round" paint-order="stroke">−1.75</text>
<text x="858.7" y="1307.8" font-size="16.8" fill="#2a62b5" stroke="#fff" stroke-width="5" stroke-linejoin="round" paint-order="stroke">−3.00</text>
<text x="863.7" y="1187.8" font-size="20.50" fill="#231f20">NK</text>
<text x="942.5" y="1213.6" font-size="20.50" fill="#231f20">Mono</text>
<text x="993.9" y="1267.3" font-size="20.50" fill="#231f20">GMP</text>
<text x="1008.1" y="1350.4" font-size="20.50" fill="#231f20">MEP</text>
<text x="975.5" y="1429" font-size="20.50" fill="#231f20">MKP</text>
<text x="898.7" y="1469.5" font-size="20.50" fill="#231f20">MPP</text>
<text x="815.4" y="1469.5" font-size="20.50" fill="#231f20">HSC</text>
<text x="736.5" y="1426.9" font-size="20.50" fill="#231f20">ProB</text>
<text x="737.5" y="1353" font-size="20.50" fill="#231f20">B</text>
<text x="723.6" y="1270.6" font-size="20.50" fill="#231f20">CD4</text>
<text x="775.4" y="1214.9" font-size="20.50" fill="#231f20">CD8</text>
<text x="826.5" y="1160.9" font-size="20.50" fill="#231f20">Expansion C</text>
<polygon points="1250.0,1248.5 1294.9,1254.7 1325.5,1290.0 1332.2,1336.3 1312.3,1378.5 1273.5,1404.6 1226.5,1404.6 1186.1,1379.8 1167.8,1336.3 1172.7,1289.2 1205.1,1254.7" fill="#c4c4c4"/>
<path d="M1250.0 1299.9L1263.3 1303.8L1272.4 1314.3L1274.3 1328.0L1268.6 1340.6L1256.9 1348.1L1243.1 1348.1L1231.4 1340.6L1225.7 1328.0L1227.6 1314.3L1236.7 1303.8ZM1250.0 1275.3L1276.6 1283.1L1294.8 1304.1L1298.7 1331.5L1287.2 1356.7L1263.9 1371.7L1236.1 1371.7L1212.8 1356.7L1201.3 1331.5L1205.2 1304.1L1223.4 1283.1ZM1250.0 1250.7L1289.9 1262.4L1317.1 1293.8L1323.0 1335.0L1305.8 1372.8L1270.8 1395.3L1229.2 1395.3L1194.2 1372.8L1177.0 1335.0L1182.9 1293.8L1210.1 1262.4ZM1250.0 1226.1L1303.2 1241.7L1339.5 1283.6L1347.4 1338.5L1324.4 1388.9L1277.7 1418.9L1222.3 1418.9L1175.6 1388.9L1152.6 1338.5L1160.5 1283.6L1196.8 1241.7ZM1250.0 1201.5L1316.5 1221.0L1361.9 1273.4L1371.7 1342.0L1343.0 1405.0L1284.7 1442.5L1215.3 1442.5L1157.0 1405.0L1128.3 1342.0L1138.1 1273.4L1183.5 1221.0ZM1250.0 1299.9L1250.0 1201.5M1263.3 1303.8L1316.5 1221.0M1272.4 1314.3L1361.9 1273.4M1274.3 1328.0L1371.7 1342.0M1268.6 1340.6L1343.0 1405.0M1256.9 1348.1L1284.7 1442.5M1243.1 1348.1L1215.3 1442.5M1231.4 1340.6L1157.0 1405.0M1225.7 1328.0L1128.3 1342.0M1227.6 1314.3L1138.1 1273.4M1236.7 1303.8L1183.5 1221.0" fill="none" stroke="#1f2f7a" stroke-width="1" stroke-dasharray="3 2.2"/>
<polygon points="1250.0,1237.2 1296.1,1252.7 1332.3,1286.9 1336.4,1336.9 1331.2,1394.8 1273.5,1404.4 1226.5,1404.6 1182.3,1383.2 1161.6,1337.2 1178.6,1291.9 1208.9,1260.6" fill="none" stroke="#2a8fd4" stroke-width="2.8" stroke-linejoin="round"/>
<circle cx="1250.0" cy="1237.2" r="2.4" fill="#2a8fd4"/>
<circle cx="1296.1" cy="1252.7" r="2.4" fill="#2a8fd4"/>
<circle cx="1332.3" cy="1286.9" r="2.4" fill="#2a8fd4"/>
<circle cx="1336.4" cy="1336.9" r="2.4" fill="#2a8fd4"/>
<circle cx="1331.2" cy="1394.8" r="2.4" fill="#2a8fd4"/>
<circle cx="1273.5" cy="1404.4" r="2.4" fill="#2a8fd4"/>
<circle cx="1226.5" cy="1404.6" r="2.4" fill="#2a8fd4"/>
<circle cx="1182.3" cy="1383.2" r="2.4" fill="#2a8fd4"/>
<circle cx="1161.6" cy="1337.2" r="2.4" fill="#2a8fd4"/>
<circle cx="1178.6" cy="1291.9" r="2.4" fill="#2a8fd4"/>
<circle cx="1208.9" cy="1260.6" r="2.4" fill="#2a8fd4"/>
<text x="1234.1" y="1205.9" font-size="16.8" fill="#2a62b5" stroke="#fff" stroke-width="5" stroke-linejoin="round" paint-order="stroke">2.00</text>
<text x="1234.2" y="1230.5" font-size="16.8" fill="#2a62b5" stroke="#fff" stroke-width="5" stroke-linejoin="round" paint-order="stroke">0.75</text>
<text x="1229.2" y="1255.1" font-size="16.8" fill="#2a62b5" stroke="#fff" stroke-width="5" stroke-linejoin="round" paint-order="stroke">−0.50</text>
<text x="1229.2" y="1279.7" font-size="16.8" fill="#2a62b5" stroke="#fff" stroke-width="5" stroke-linejoin="round" paint-order="stroke">−1.75</text>
<text x="1229.2" y="1304.3" font-size="16.8" fill="#2a62b5" stroke="#fff" stroke-width="5" stroke-linejoin="round" paint-order="stroke">−3.00</text>
<text x="1231.8" y="1187.9" font-size="20.50" fill="#231f20">NK</text>
<text x="1312.6" y="1213.8" font-size="20.50" fill="#231f20">Mono</text>
<text x="1358.5" y="1268.5" font-size="20.50" fill="#231f20">GMP</text>
<text x="1376.5" y="1349.8" font-size="20.50" fill="#231f20">MEP</text>
<text x="1343.6" y="1427.3" font-size="20.50" fill="#231f20">MKP</text>
<text x="1270" y="1466.6" font-size="20.50" fill="#231f20">MPP</text>
<text x="1182.9" y="1465.4" font-size="20.50" fill="#231f20">HSC</text>
<text x="1108.9" y="1426" font-size="20.50" fill="#231f20">ProB</text>
<text x="1108.2" y="1349.8" font-size="20.50" fill="#231f20">B</text>
<text x="1095" y="1272.3" font-size="20.50" fill="#231f20">CD4</text>
<text x="1144.2" y="1217.7" font-size="20.50" fill="#231f20">CD8</text>
<text x="1185" y="1161" font-size="20.50" fill="#231f20">Expansion D</text>
</svg>
</body></html>
